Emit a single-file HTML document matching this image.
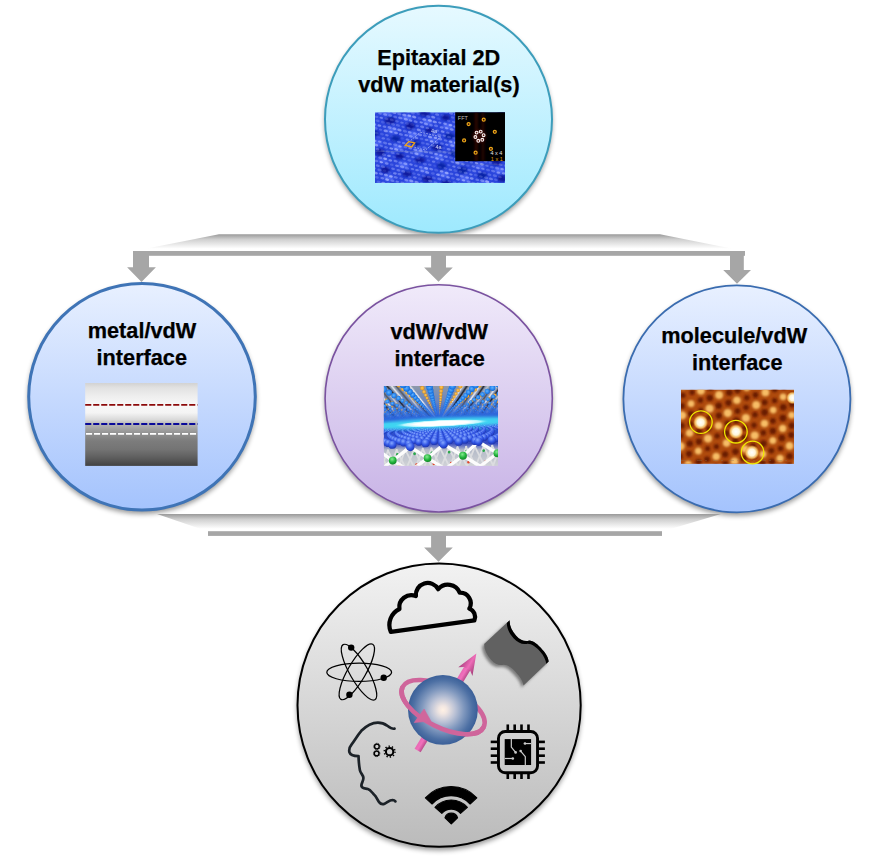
<!DOCTYPE html>
<html lang="en">
<head>
<meta charset="utf-8">
<title>Epitaxial 2D vdW materials</title>
<style>
html,body{margin:0;padding:0;background:#fff;}
body{width:876px;height:858px;overflow:hidden;position:relative;font-family:"Liberation Sans",Arial,sans-serif;}
svg{position:absolute;left:0;top:0;display:block;}
.lbl{font-family:"Liberation Sans",Arial,sans-serif;font-weight:bold;font-size:21.7px;fill:#000;stroke:#000;stroke-width:0.25px;text-anchor:middle;}
.tiny{font-family:"Liberation Sans",Arial,sans-serif;font-size:5.5px;}
</style>
</head>
<body>
<svg width="876" height="858" viewBox="0 0 876 858">
<defs>
  <linearGradient id="gTop" x1="0" y1="0" x2="0" y2="1">
    <stop offset="0" stop-color="#e6f9ff"/><stop offset="1" stop-color="#9ee9fe"/>
  </linearGradient>
  <linearGradient id="gBlue" x1="0" y1="0" x2="0" y2="1">
    <stop offset="0" stop-color="#e8f0ff"/><stop offset="1" stop-color="#a4c3fd"/>
  </linearGradient>
  <linearGradient id="gPurple" x1="0" y1="0" x2="0" y2="1">
    <stop offset="0" stop-color="#f0eafa"/><stop offset="1" stop-color="#c8b3e6"/>
  </linearGradient>
  <linearGradient id="gGray" x1="0" y1="0" x2="0" y2="1">
    <stop offset="0" stop-color="#f2f2f2"/><stop offset="1" stop-color="#bbbbbb"/>
  </linearGradient>
  <linearGradient id="gTrap" x1="0" y1="0" x2="0" y2="1">
    <stop offset="0" stop-color="#999999"/><stop offset="0.3" stop-color="#cfcfcf"/><stop offset="0.85" stop-color="#ffffff"/>
  </linearGradient>
  <filter id="shadow" x="-20%" y="-20%" width="140%" height="140%">
    <feGaussianBlur stdDeviation="2.6"/>
  </filter>
</defs>
<!-- CIRCLE SHADOWS -->
<g id="circle-shadows" filter="url(#shadow)" fill="#000" opacity="0.4">
  <circle cx="438.5" cy="122.2" r="113.8"/>
  <circle cx="142" cy="399.8" r="114.2"/>
  <circle cx="438.7" cy="401.3" r="114"/>
  <circle cx="736.9" cy="401.8" r="114"/>
  <circle cx="439.1" cy="708.2" r="142.2"/>
</g>
<!-- CONNECTORS -->
<g id="connectors">
  <polygon points="219,234.2 660,234.2 745,251.2 133,251.2" fill="url(#gTrap)"/>
  <polygon points="157,514 721,514 662,531.4 208,531.4" fill="url(#gTrap)"/>
  <g fill="#a6a6a6">
    <rect x="133" y="251" width="612" height="4.8"/>
    <polygon points="133,255 149,255 149,267.3 155.9,267.3 141.5,282 127.1,267.3 133,267.3"/>
    <polygon points="431.1,255 446,255 446,267.4 452.8,267.4 438.5,281.8 424.1,267.4 431.1,267.4"/>
    <polygon points="730,255 743.8,255 743.8,269.9 751,269.9 737,283.8 723.2,269.9 730,269.9"/>
    <rect x="208" y="531.2" width="454" height="4.7"/>
    <polygon points="431.1,535 446,535 446,547.4 452.8,547.4 438.5,561.8 424.1,547.4 431.1,547.4"/>
  </g>
</g>
<!-- CIRCLES -->
<g id="circles">
  <circle cx="438.5" cy="119.3" r="113.5" fill="url(#gTop)" stroke="#3c9dbb" stroke-width="2"/>
  <circle cx="142" cy="396.8" r="113.3" fill="url(#gBlue)" stroke="#3f74b6" stroke-width="3"/>
  <circle cx="438.7" cy="398.4" r="113.6" fill="url(#gPurple)" stroke="#7a52a0" stroke-width="1.6"/>
  <circle cx="736.9" cy="398.9" r="113.5" fill="url(#gBlue)" stroke="#3a6cb0" stroke-width="1.8"/>
  <circle cx="439.1" cy="705.2" r="141.6" fill="url(#gGray)" stroke="#000" stroke-width="2"/>
</g>
<!-- LABELS -->
<g id="labels">
  <text class="lbl" x="438.7" y="64.8">Epitaxial 2D</text>
  <text class="lbl" x="438.9" y="91.6">vdW material(s)</text>
  <text class="lbl" x="142" y="338">metal/vdW</text>
  <text class="lbl" x="141.8" y="364.7">interface</text>
  <text class="lbl" x="439.3" y="338.9">vdW/vdW</text>
  <text class="lbl" x="439.6" y="366">interface</text>
  <text class="lbl" x="734.2" y="343.1">molecule/vdW</text>
  <text class="lbl" x="737.3" y="369.9">interface</text>
</g>
<!-- TEM cross-section image (metal/vdW) -->
<g id="img-tem">
  <defs>
    <linearGradient id="gTem" x1="0" y1="0" x2="0" y2="1">
      <stop offset="0" stop-color="#d2d2d2"/>
      <stop offset="0.06" stop-color="#e2e2e2"/>
      <stop offset="0.16" stop-color="#eeeeee"/>
      <stop offset="0.27" stop-color="#f8f8f8"/>
      <stop offset="0.36" stop-color="#f4f4f4"/>
      <stop offset="0.44" stop-color="#dadada"/>
      <stop offset="0.50" stop-color="#b4b4b4"/>
      <stop offset="0.56" stop-color="#a0a0a0"/>
      <stop offset="0.62" stop-color="#8e8e8e"/>
      <stop offset="0.70" stop-color="#7c7c7c"/>
      <stop offset="0.80" stop-color="#747474"/>
      <stop offset="0.90" stop-color="#5e5e5e"/>
      <stop offset="1" stop-color="#424242"/>
    </linearGradient>
  </defs>
  <rect x="85.2" y="383" width="112.4" height="82.9" fill="url(#gTem)"/>
  <line x1="85.2" y1="404.9" x2="197.6" y2="404.9" stroke="#8c0a0a" stroke-width="1.9" stroke-dasharray="6.1 1.9"/>
  <line x1="85.2" y1="424" x2="197.6" y2="424" stroke="#0a0a9a" stroke-width="1.9" stroke-dasharray="6.1 1.9"/>
  <line x1="86" y1="433.9" x2="197.6" y2="433.9" stroke="#ffffff" stroke-width="1.9" stroke-dasharray="6.1 1.9"/>
</g>
<!-- STM image with FFT inset (top circle) -->
<g id="img-stm">
  <defs>
    <clipPath id="cFft"><rect x="455.2" y="112.3" width="49.8" height="48.9"/></clipPath>
    <clipPath id="cStm"><rect x="375" y="112.3" width="130" height="70.6"/></clipPath>
    <filter id="fStm" x="0" y="0" width="1" height="1"><feGaussianBlur stdDeviation="0.75"/></filter>
    <filter id="fStm2" x="0" y="0" width="1" height="1"><feGaussianBlur stdDeviation="1.2"/></filter>
    <filter id="fFft" x="-0.2" y="-0.2" width="1.4" height="1.4"><feGaussianBlur stdDeviation="0.9"/></filter>
  </defs>
</g>
<!-- STM atoms -->
<g id="stm-atoms" clip-path="url(#cStm)">
<rect x="375.0" y="112.3" width="130.0" height="70.6" fill="#2a45dc"/>
<g filter="url(#fStm2)">
<ellipse cx="386.7" cy="112.8" rx="5" ry="3.2" fill="#5d78ff" opacity="0.59"/>
<ellipse cx="369.2" cy="117.7" rx="4.9" ry="3.2" fill="#08179a" opacity="0.90"/>
<ellipse cx="371.9" cy="125.6" rx="5" ry="3.2" fill="#5d78ff" opacity="0.51"/>
<ellipse cx="421.9" cy="104.6" rx="5" ry="3.2" fill="#5d78ff" opacity="0.60"/>
<ellipse cx="404.6" cy="109.3" rx="4.3" ry="3.0" fill="#08179a" opacity="0.77"/>
<ellipse cx="407.1" cy="117.4" rx="5" ry="3.2" fill="#5d78ff" opacity="0.69"/>
<ellipse cx="390.0" cy="120.6" rx="5.6" ry="3.6" fill="#08179a" opacity="0.91"/>
<ellipse cx="392.3" cy="130.2" rx="5" ry="3.2" fill="#5d78ff" opacity="0.63"/>
<ellipse cx="373.9" cy="133.3" rx="4.9" ry="2.8" fill="#08179a" opacity="0.80"/>
<ellipse cx="377.5" cy="143.0" rx="5" ry="3.2" fill="#5d78ff" opacity="0.52"/>
<ellipse cx="442.3" cy="109.2" rx="5" ry="3.2" fill="#5d78ff" opacity="0.46"/>
<ellipse cx="424.6" cy="113.2" rx="5.4" ry="3.2" fill="#08179a" opacity="0.91"/>
<ellipse cx="427.5" cy="122.0" rx="5" ry="3.2" fill="#5d78ff" opacity="0.60"/>
<ellipse cx="410.3" cy="126.0" rx="4.6" ry="3.6" fill="#08179a" opacity="1.00"/>
<ellipse cx="412.7" cy="134.8" rx="5" ry="3.2" fill="#5d78ff" opacity="0.70"/>
<ellipse cx="395.6" cy="138.5" rx="4.5" ry="3.0" fill="#08179a" opacity="0.77"/>
<ellipse cx="397.9" cy="147.6" rx="5" ry="3.2" fill="#5d78ff" opacity="0.68"/>
<ellipse cx="380.1" cy="152.4" rx="4.7" ry="3.6" fill="#08179a" opacity="0.96"/>
<ellipse cx="383.1" cy="160.4" rx="5" ry="3.2" fill="#5d78ff" opacity="0.45"/>
<ellipse cx="368.3" cy="173.2" rx="5" ry="3.2" fill="#5d78ff" opacity="0.51"/>
<ellipse cx="460.9" cy="105.0" rx="5.6" ry="3.1" fill="#08179a" opacity="0.77"/>
<ellipse cx="462.7" cy="113.8" rx="5" ry="3.2" fill="#5d78ff" opacity="0.64"/>
<ellipse cx="445.8" cy="117.4" rx="4.3" ry="3.0" fill="#08179a" opacity="0.99"/>
<ellipse cx="447.9" cy="126.6" rx="5" ry="3.2" fill="#5d78ff" opacity="0.68"/>
<ellipse cx="429.4" cy="130.2" rx="4.3" ry="2.8" fill="#08179a" opacity="0.95"/>
<ellipse cx="433.1" cy="139.4" rx="5" ry="3.2" fill="#5d78ff" opacity="0.50"/>
<ellipse cx="415.6" cy="143.4" rx="4.5" ry="3.4" fill="#08179a" opacity="0.78"/>
<ellipse cx="418.3" cy="152.2" rx="5" ry="3.2" fill="#5d78ff" opacity="0.64"/>
<ellipse cx="399.8" cy="156.1" rx="4.5" ry="2.9" fill="#08179a" opacity="0.99"/>
<ellipse cx="403.5" cy="165.0" rx="5" ry="3.2" fill="#5d78ff" opacity="0.69"/>
<ellipse cx="385.4" cy="169.9" rx="4.5" ry="3.1" fill="#08179a" opacity="0.96"/>
<ellipse cx="388.7" cy="177.8" rx="5" ry="3.2" fill="#5d78ff" opacity="0.64"/>
<ellipse cx="370.1" cy="182.9" rx="4.5" ry="2.9" fill="#08179a" opacity="0.94"/>
<ellipse cx="373.9" cy="190.6" rx="5" ry="3.2" fill="#5d78ff" opacity="0.55"/>
<ellipse cx="497.9" cy="105.6" rx="5" ry="3.2" fill="#5d78ff" opacity="0.54"/>
<ellipse cx="479.3" cy="108.9" rx="5.0" ry="2.9" fill="#08179a" opacity="0.90"/>
<ellipse cx="483.1" cy="118.4" rx="5" ry="3.2" fill="#5d78ff" opacity="0.56"/>
<ellipse cx="465.4" cy="123.4" rx="4.9" ry="3.2" fill="#08179a" opacity="0.97"/>
<ellipse cx="468.3" cy="131.2" rx="5" ry="3.2" fill="#5d78ff" opacity="0.50"/>
<ellipse cx="449.9" cy="136.1" rx="5.3" ry="2.9" fill="#08179a" opacity="0.80"/>
<ellipse cx="453.5" cy="144.0" rx="5" ry="3.2" fill="#5d78ff" opacity="0.67"/>
<ellipse cx="437.0" cy="147.5" rx="5.5" ry="3.5" fill="#08179a" opacity="0.90"/>
<ellipse cx="438.7" cy="156.8" rx="5" ry="3.2" fill="#5d78ff" opacity="0.58"/>
<ellipse cx="420.1" cy="160.0" rx="5.5" ry="2.9" fill="#08179a" opacity="0.93"/>
<ellipse cx="423.9" cy="169.6" rx="5" ry="3.2" fill="#5d78ff" opacity="0.53"/>
<ellipse cx="407.1" cy="173.9" rx="4.6" ry="2.9" fill="#08179a" opacity="0.93"/>
<ellipse cx="409.1" cy="182.4" rx="5" ry="3.2" fill="#5d78ff" opacity="0.47"/>
<ellipse cx="390.8" cy="186.6" rx="5.4" ry="3.3" fill="#08179a" opacity="0.82"/>
<ellipse cx="501.7" cy="113.7" rx="4.2" ry="2.9" fill="#08179a" opacity="0.86"/>
<ellipse cx="503.5" cy="123.0" rx="5" ry="3.2" fill="#5d78ff" opacity="0.47"/>
<ellipse cx="485.1" cy="126.8" rx="5.0" ry="2.8" fill="#08179a" opacity="0.84"/>
<ellipse cx="488.7" cy="135.8" rx="5" ry="3.2" fill="#5d78ff" opacity="0.72"/>
<ellipse cx="472.3" cy="140.2" rx="5.2" ry="3.2" fill="#08179a" opacity="0.79"/>
<ellipse cx="473.9" cy="148.6" rx="5" ry="3.2" fill="#5d78ff" opacity="0.46"/>
<ellipse cx="455.1" cy="153.5" rx="5.2" ry="3.6" fill="#08179a" opacity="0.76"/>
<ellipse cx="459.1" cy="161.4" rx="5" ry="3.2" fill="#5d78ff" opacity="0.64"/>
<ellipse cx="441.5" cy="166.0" rx="4.6" ry="3.6" fill="#08179a" opacity="0.77"/>
<ellipse cx="444.3" cy="174.2" rx="5" ry="3.2" fill="#5d78ff" opacity="0.61"/>
<ellipse cx="427.3" cy="179.1" rx="5.2" ry="3.3" fill="#08179a" opacity="0.95"/>
<ellipse cx="429.5" cy="187.0" rx="5" ry="3.2" fill="#5d78ff" opacity="0.72"/>
<ellipse cx="505.9" cy="132.1" rx="5.5" ry="3.5" fill="#08179a" opacity="0.85"/>
<ellipse cx="509.1" cy="140.4" rx="5" ry="3.2" fill="#5d78ff" opacity="0.69"/>
<ellipse cx="492.4" cy="144.6" rx="5.1" ry="3.0" fill="#08179a" opacity="0.90"/>
<ellipse cx="494.3" cy="153.2" rx="5" ry="3.2" fill="#5d78ff" opacity="0.63"/>
<ellipse cx="475.7" cy="157.6" rx="5.6" ry="3.5" fill="#08179a" opacity="0.93"/>
<ellipse cx="479.5" cy="166.0" rx="5" ry="3.2" fill="#5d78ff" opacity="0.57"/>
<ellipse cx="462.5" cy="170.3" rx="4.8" ry="3.5" fill="#08179a" opacity="0.77"/>
<ellipse cx="464.7" cy="178.8" rx="5" ry="3.2" fill="#5d78ff" opacity="0.68"/>
<ellipse cx="446.0" cy="183.1" rx="4.9" ry="2.9" fill="#08179a" opacity="0.92"/>
<ellipse cx="511.9" cy="149.3" rx="5.5" ry="2.9" fill="#08179a" opacity="0.75"/>
<ellipse cx="496.6" cy="162.3" rx="4.5" ry="2.9" fill="#08179a" opacity="0.98"/>
<ellipse cx="499.9" cy="170.6" rx="5" ry="3.2" fill="#5d78ff" opacity="0.65"/>
<ellipse cx="482.2" cy="175.5" rx="4.7" ry="3.3" fill="#08179a" opacity="0.80"/>
<ellipse cx="485.1" cy="183.4" rx="5" ry="3.2" fill="#5d78ff" opacity="0.58"/>
<ellipse cx="468.2" cy="188.3" rx="5.4" ry="3.0" fill="#08179a" opacity="0.90"/>
<ellipse cx="502.3" cy="178.6" rx="4.9" ry="3.5" fill="#08179a" opacity="0.96"/>
<ellipse cx="505.5" cy="188.0" rx="5" ry="3.2" fill="#5d78ff" opacity="0.66"/>
</g>
<g filter="url(#fStm)">
<ellipse cx="374.8" cy="112.3" rx="1.88" ry="1.10" transform="rotate(13 374.8 112.3)" fill="#aab6ff" opacity="0.49"/>
<ellipse cx="380.0" cy="113.5" rx="1.85" ry="1.08" transform="rotate(13 380.0 113.5)" fill="#aab6ff" opacity="0.46"/>
<ellipse cx="376.6" cy="116.9" rx="1.90" ry="1.11" transform="rotate(13 376.6 116.9)" fill="#aab6ff" opacity="0.30"/>
<ellipse cx="388.6" cy="111.6" rx="1.78" ry="1.04" transform="rotate(13 388.6 111.6)" fill="#aab6ff" opacity="0.66"/>
<ellipse cx="385.2" cy="114.5" rx="2.10" ry="1.23" transform="rotate(13 385.2 114.5)" fill="#aab6ff" opacity="0.52"/>
<ellipse cx="381.3" cy="117.8" rx="1.75" ry="1.03" transform="rotate(13 381.3 117.8)" fill="#aab6ff" opacity="0.53"/>
<ellipse cx="377.6" cy="120.8" rx="2.16" ry="1.27" transform="rotate(13 377.6 120.8)" fill="#aab6ff" opacity="0.30"/>
<ellipse cx="374.1" cy="124.3" rx="2.06" ry="1.21" transform="rotate(13 374.1 124.3)" fill="#aab6ff" opacity="0.53"/>
<ellipse cx="394.3" cy="112.7" rx="2.15" ry="1.26" transform="rotate(13 394.3 112.7)" fill="#aab6ff" opacity="0.55"/>
<ellipse cx="390.1" cy="115.5" rx="1.98" ry="1.16" transform="rotate(13 390.1 115.5)" fill="#aab6ff" opacity="0.39"/>
<ellipse cx="386.4" cy="118.8" rx="2.10" ry="1.23" transform="rotate(13 386.4 118.8)" fill="#aab6ff" opacity="0.25"/>
<ellipse cx="382.9" cy="122.2" rx="2.09" ry="1.23" transform="rotate(13 382.9 122.2)" fill="#aab6ff" opacity="0.22"/>
<ellipse cx="379.4" cy="125.6" rx="1.94" ry="1.14" transform="rotate(13 379.4 125.6)" fill="#aab6ff" opacity="0.58"/>
<ellipse cx="375.6" cy="128.3" rx="2.21" ry="1.30" transform="rotate(13 375.6 128.3)" fill="#aab6ff" opacity="0.35"/>
<ellipse cx="403.0" cy="110.4" rx="2.06" ry="1.21" transform="rotate(13 403.0 110.4)" fill="#aab6ff" opacity="0.12"/>
<ellipse cx="399.3" cy="114.0" rx="2.19" ry="1.28" transform="rotate(13 399.3 114.0)" fill="#aab6ff" opacity="0.38"/>
<ellipse cx="395.2" cy="117.0" rx="2.07" ry="1.21" transform="rotate(13 395.2 117.0)" fill="#aab6ff" opacity="0.34"/>
<ellipse cx="391.8" cy="119.9" rx="2.07" ry="1.21" transform="rotate(13 391.8 119.9)" fill="#aab6ff" opacity="0.23"/>
<ellipse cx="388.3" cy="123.3" rx="2.24" ry="1.31" transform="rotate(13 388.3 123.3)" fill="#aab6ff" opacity="0.26"/>
<ellipse cx="384.5" cy="126.7" rx="1.90" ry="1.12" transform="rotate(13 384.5 126.7)" fill="#aab6ff" opacity="0.45"/>
<ellipse cx="380.6" cy="129.7" rx="1.78" ry="1.04" transform="rotate(13 380.6 129.7)" fill="#aab6ff" opacity="0.30"/>
<ellipse cx="376.6" cy="133.1" rx="1.99" ry="1.17" transform="rotate(13 376.6 133.1)" fill="#aab6ff" opacity="0.21"/>
<ellipse cx="373.0" cy="136.0" rx="2.15" ry="1.26" transform="rotate(13 373.0 136.0)" fill="#aab6ff" opacity="0.04"/>
<ellipse cx="407.7" cy="111.7" rx="1.81" ry="1.06" transform="rotate(13 407.7 111.7)" fill="#aab6ff" opacity="0.41"/>
<ellipse cx="404.3" cy="115.1" rx="2.17" ry="1.27" transform="rotate(13 404.3 115.1)" fill="#aab6ff" opacity="0.61"/>
<ellipse cx="400.3" cy="117.9" rx="2.22" ry="1.30" transform="rotate(13 400.3 117.9)" fill="#aab6ff" opacity="0.53"/>
<ellipse cx="396.9" cy="121.3" rx="1.89" ry="1.11" transform="rotate(13 396.9 121.3)" fill="#aab6ff" opacity="0.31"/>
<ellipse cx="393.1" cy="124.3" rx="2.17" ry="1.27" transform="rotate(13 393.1 124.3)" fill="#aab6ff" opacity="0.32"/>
<ellipse cx="389.6" cy="127.5" rx="2.17" ry="1.27" transform="rotate(13 389.6 127.5)" fill="#aab6ff" opacity="0.50"/>
<ellipse cx="385.7" cy="130.9" rx="2.23" ry="1.31" transform="rotate(13 385.7 130.9)" fill="#aab6ff" opacity="0.64"/>
<ellipse cx="382.0" cy="134.1" rx="2.01" ry="1.18" transform="rotate(13 382.0 134.1)" fill="#aab6ff" opacity="0.21"/>
<ellipse cx="378.3" cy="137.2" rx="2.23" ry="1.31" transform="rotate(13 378.3 137.2)" fill="#aab6ff" opacity="0.16"/>
<ellipse cx="374.6" cy="140.6" rx="2.03" ry="1.19" transform="rotate(13 374.6 140.6)" fill="#aab6ff" opacity="0.64"/>
<ellipse cx="412.9" cy="113.1" rx="2.01" ry="1.18" transform="rotate(13 412.9 113.1)" fill="#aab6ff" opacity="0.31"/>
<ellipse cx="409.3" cy="115.8" rx="1.88" ry="1.10" transform="rotate(13 409.3 115.8)" fill="#aab6ff" opacity="0.80"/>
<ellipse cx="405.8" cy="119.2" rx="2.15" ry="1.26" transform="rotate(13 405.8 119.2)" fill="#aab6ff" opacity="0.64"/>
<ellipse cx="402.0" cy="122.7" rx="1.84" ry="1.08" transform="rotate(13 402.0 122.7)" fill="#aab6ff" opacity="0.38"/>
<ellipse cx="397.9" cy="125.4" rx="2.14" ry="1.25" transform="rotate(13 397.9 125.4)" fill="#aab6ff" opacity="0.33"/>
<ellipse cx="394.4" cy="128.7" rx="2.09" ry="1.22" transform="rotate(13 394.4 128.7)" fill="#aab6ff" opacity="0.59"/>
<ellipse cx="390.9" cy="131.8" rx="1.79" ry="1.05" transform="rotate(13 390.9 131.8)" fill="#aab6ff" opacity="0.70"/>
<ellipse cx="386.9" cy="135.2" rx="1.87" ry="1.09" transform="rotate(13 386.9 135.2)" fill="#aab6ff" opacity="0.44"/>
<ellipse cx="383.3" cy="138.4" rx="1.93" ry="1.13" transform="rotate(13 383.3 138.4)" fill="#aab6ff" opacity="0.43"/>
<ellipse cx="379.8" cy="141.7" rx="1.84" ry="1.08" transform="rotate(13 379.8 141.7)" fill="#aab6ff" opacity="0.57"/>
<ellipse cx="376.1" cy="145.0" rx="2.17" ry="1.27" transform="rotate(13 376.1 145.0)" fill="#aab6ff" opacity="0.68"/>
<ellipse cx="422.0" cy="111.0" rx="2.12" ry="1.24" transform="rotate(13 422.0 111.0)" fill="#aab6ff" opacity="0.17"/>
<ellipse cx="418.4" cy="113.8" rx="1.90" ry="1.11" transform="rotate(13 418.4 113.8)" fill="#aab6ff" opacity="0.21"/>
<ellipse cx="414.2" cy="117.0" rx="2.19" ry="1.28" transform="rotate(13 414.2 117.0)" fill="#aab6ff" opacity="0.66"/>
<ellipse cx="410.5" cy="120.5" rx="1.87" ry="1.10" transform="rotate(13 410.5 120.5)" fill="#aab6ff" opacity="0.56"/>
<ellipse cx="406.8" cy="123.5" rx="2.14" ry="1.26" transform="rotate(13 406.8 123.5)" fill="#aab6ff" opacity="0.23"/>
<ellipse cx="403.1" cy="126.9" rx="1.75" ry="1.03" transform="rotate(13 403.1 126.9)" fill="#aab6ff" opacity="0.33"/>
<ellipse cx="399.4" cy="130.0" rx="2.23" ry="1.31" transform="rotate(13 399.4 130.0)" fill="#aab6ff" opacity="0.63"/>
<ellipse cx="396.0" cy="133.0" rx="2.00" ry="1.17" transform="rotate(13 396.0 133.0)" fill="#aab6ff" opacity="0.57"/>
<ellipse cx="391.9" cy="136.4" rx="1.79" ry="1.05" transform="rotate(13 391.9 136.4)" fill="#aab6ff" opacity="0.12"/>
<ellipse cx="388.3" cy="139.4" rx="2.03" ry="1.19" transform="rotate(13 388.3 139.4)" fill="#aab6ff" opacity="0.27"/>
<ellipse cx="385.1" cy="143.0" rx="2.17" ry="1.27" transform="rotate(13 385.1 143.0)" fill="#aab6ff" opacity="0.40"/>
<ellipse cx="381.4" cy="145.9" rx="1.77" ry="1.04" transform="rotate(13 381.4 145.9)" fill="#aab6ff" opacity="0.36"/>
<ellipse cx="377.4" cy="149.2" rx="1.91" ry="1.12" transform="rotate(13 377.4 149.2)" fill="#aab6ff" opacity="0.34"/>
<ellipse cx="373.4" cy="152.5" rx="2.04" ry="1.20" transform="rotate(13 373.4 152.5)" fill="#aab6ff" opacity="0.25"/>
<ellipse cx="426.9" cy="112.0" rx="1.83" ry="1.07" transform="rotate(13 426.9 112.0)" fill="#aab6ff" opacity="0.23"/>
<ellipse cx="423.0" cy="115.1" rx="1.84" ry="1.08" transform="rotate(13 423.0 115.1)" fill="#aab6ff" opacity="0.10"/>
<ellipse cx="419.7" cy="118.4" rx="2.19" ry="1.29" transform="rotate(13 419.7 118.4)" fill="#aab6ff" opacity="0.20"/>
<ellipse cx="415.7" cy="121.6" rx="2.06" ry="1.21" transform="rotate(13 415.7 121.6)" fill="#aab6ff" opacity="0.46"/>
<ellipse cx="412.3" cy="124.6" rx="2.24" ry="1.31" transform="rotate(13 412.3 124.6)" fill="#aab6ff" opacity="0.12"/>
<ellipse cx="408.6" cy="128.1" rx="2.12" ry="1.24" transform="rotate(13 408.6 128.1)" fill="#aab6ff" opacity="0.27"/>
<ellipse cx="404.9" cy="131.2" rx="2.19" ry="1.29" transform="rotate(13 404.9 131.2)" fill="#aab6ff" opacity="0.33"/>
<ellipse cx="400.9" cy="134.4" rx="2.13" ry="1.25" transform="rotate(13 400.9 134.4)" fill="#aab6ff" opacity="0.43"/>
<ellipse cx="397.3" cy="137.2" rx="1.91" ry="1.12" transform="rotate(13 397.3 137.2)" fill="#aab6ff" opacity="0.04"/>
<ellipse cx="393.7" cy="140.5" rx="2.06" ry="1.21" transform="rotate(13 393.7 140.5)" fill="#aab6ff" opacity="0.09"/>
<ellipse cx="389.8" cy="144.0" rx="2.08" ry="1.22" transform="rotate(13 389.8 144.0)" fill="#aab6ff" opacity="0.50"/>
<ellipse cx="386.1" cy="147.4" rx="2.01" ry="1.18" transform="rotate(13 386.1 147.4)" fill="#aab6ff" opacity="0.37"/>
<ellipse cx="382.7" cy="150.6" rx="2.10" ry="1.23" transform="rotate(13 382.7 150.6)" fill="#aab6ff" opacity="0.17"/>
<ellipse cx="378.9" cy="153.4" rx="2.05" ry="1.20" transform="rotate(13 378.9 153.4)" fill="#aab6ff" opacity="0.04"/>
<ellipse cx="374.9" cy="156.6" rx="1.77" ry="1.04" transform="rotate(13 374.9 156.6)" fill="#aab6ff" opacity="0.33"/>
<ellipse cx="432.2" cy="113.1" rx="1.87" ry="1.09" transform="rotate(13 432.2 113.1)" fill="#aab6ff" opacity="0.18"/>
<ellipse cx="428.3" cy="116.5" rx="2.23" ry="1.31" transform="rotate(13 428.3 116.5)" fill="#aab6ff" opacity="0.32"/>
<ellipse cx="424.3" cy="119.5" rx="2.15" ry="1.26" transform="rotate(13 424.3 119.5)" fill="#aab6ff" opacity="0.59"/>
<ellipse cx="421.2" cy="122.4" rx="1.76" ry="1.03" transform="rotate(13 421.2 122.4)" fill="#aab6ff" opacity="0.61"/>
<ellipse cx="417.2" cy="125.9" rx="1.83" ry="1.07" transform="rotate(13 417.2 125.9)" fill="#aab6ff" opacity="0.30"/>
<ellipse cx="413.5" cy="129.1" rx="2.22" ry="1.30" transform="rotate(13 413.5 129.1)" fill="#aab6ff" opacity="0.17"/>
<ellipse cx="409.7" cy="132.3" rx="1.93" ry="1.13" transform="rotate(13 409.7 132.3)" fill="#aab6ff" opacity="0.57"/>
<ellipse cx="406.2" cy="135.3" rx="1.88" ry="1.10" transform="rotate(13 406.2 135.3)" fill="#aab6ff" opacity="0.55"/>
<ellipse cx="402.1" cy="138.4" rx="1.86" ry="1.09" transform="rotate(13 402.1 138.4)" fill="#aab6ff" opacity="0.15"/>
<ellipse cx="398.9" cy="142.0" rx="1.94" ry="1.14" transform="rotate(13 398.9 142.0)" fill="#aab6ff" opacity="0.40"/>
<ellipse cx="395.3" cy="144.8" rx="2.24" ry="1.31" transform="rotate(13 395.3 144.8)" fill="#aab6ff" opacity="0.40"/>
<ellipse cx="391.3" cy="148.5" rx="1.96" ry="1.15" transform="rotate(13 391.3 148.5)" fill="#aab6ff" opacity="0.66"/>
<ellipse cx="387.9" cy="151.6" rx="2.01" ry="1.18" transform="rotate(13 387.9 151.6)" fill="#aab6ff" opacity="0.22"/>
<ellipse cx="384.1" cy="154.7" rx="2.24" ry="1.31" transform="rotate(13 384.1 154.7)" fill="#aab6ff" opacity="0.30"/>
<ellipse cx="380.2" cy="157.7" rx="2.06" ry="1.21" transform="rotate(13 380.2 157.7)" fill="#aab6ff" opacity="0.42"/>
<ellipse cx="376.3" cy="161.0" rx="2.01" ry="1.18" transform="rotate(13 376.3 161.0)" fill="#aab6ff" opacity="0.39"/>
<ellipse cx="440.7" cy="111.0" rx="1.97" ry="1.16" transform="rotate(13 440.7 111.0)" fill="#aab6ff" opacity="0.72"/>
<ellipse cx="437.1" cy="114.5" rx="2.13" ry="1.25" transform="rotate(13 437.1 114.5)" fill="#aab6ff" opacity="0.41"/>
<ellipse cx="433.2" cy="117.2" rx="2.11" ry="1.24" transform="rotate(13 433.2 117.2)" fill="#aab6ff" opacity="0.60"/>
<ellipse cx="429.8" cy="120.5" rx="2.14" ry="1.25" transform="rotate(13 429.8 120.5)" fill="#aab6ff" opacity="0.80"/>
<ellipse cx="426.0" cy="123.9" rx="2.09" ry="1.22" transform="rotate(13 426.0 123.9)" fill="#aab6ff" opacity="0.59"/>
<ellipse cx="422.1" cy="126.8" rx="2.12" ry="1.24" transform="rotate(13 422.1 126.8)" fill="#aab6ff" opacity="0.48"/>
<ellipse cx="418.8" cy="129.9" rx="2.20" ry="1.29" transform="rotate(13 418.8 129.9)" fill="#aab6ff" opacity="0.60"/>
<ellipse cx="414.9" cy="133.5" rx="1.88" ry="1.10" transform="rotate(13 414.9 133.5)" fill="#aab6ff" opacity="0.54"/>
<ellipse cx="410.9" cy="136.4" rx="2.01" ry="1.18" transform="rotate(13 410.9 136.4)" fill="#aab6ff" opacity="0.54"/>
<ellipse cx="407.6" cy="139.7" rx="2.02" ry="1.18" transform="rotate(13 407.6 139.7)" fill="#aab6ff" opacity="0.50"/>
<ellipse cx="403.7" cy="143.1" rx="1.85" ry="1.08" transform="rotate(13 403.7 143.1)" fill="#aab6ff" opacity="0.44"/>
<ellipse cx="399.9" cy="146.4" rx="1.78" ry="1.04" transform="rotate(13 399.9 146.4)" fill="#aab6ff" opacity="0.79"/>
<ellipse cx="396.2" cy="149.4" rx="2.13" ry="1.25" transform="rotate(13 396.2 149.4)" fill="#aab6ff" opacity="0.71"/>
<ellipse cx="392.6" cy="152.7" rx="2.15" ry="1.26" transform="rotate(13 392.6 152.7)" fill="#aab6ff" opacity="0.36"/>
<ellipse cx="389.0" cy="155.9" rx="1.91" ry="1.12" transform="rotate(13 389.0 155.9)" fill="#aab6ff" opacity="0.61"/>
<ellipse cx="385.2" cy="158.8" rx="1.96" ry="1.15" transform="rotate(13 385.2 158.8)" fill="#aab6ff" opacity="0.80"/>
<ellipse cx="381.3" cy="162.2" rx="1.78" ry="1.04" transform="rotate(13 381.3 162.2)" fill="#aab6ff" opacity="0.79"/>
<ellipse cx="377.8" cy="165.6" rx="2.09" ry="1.22" transform="rotate(13 377.8 165.6)" fill="#aab6ff" opacity="0.44"/>
<ellipse cx="374.3" cy="168.3" rx="1.85" ry="1.08" transform="rotate(13 374.3 168.3)" fill="#aab6ff" opacity="0.32"/>
<ellipse cx="446.0" cy="112.0" rx="2.11" ry="1.24" transform="rotate(13 446.0 112.0)" fill="#aab6ff" opacity="0.42"/>
<ellipse cx="442.3" cy="115.3" rx="1.92" ry="1.13" transform="rotate(13 442.3 115.3)" fill="#aab6ff" opacity="0.14"/>
<ellipse cx="438.5" cy="118.8" rx="2.10" ry="1.23" transform="rotate(13 438.5 118.8)" fill="#aab6ff" opacity="0.15"/>
<ellipse cx="434.8" cy="121.9" rx="2.20" ry="1.29" transform="rotate(13 434.8 121.9)" fill="#aab6ff" opacity="0.64"/>
<ellipse cx="431.0" cy="125.2" rx="1.90" ry="1.11" transform="rotate(13 431.0 125.2)" fill="#aab6ff" opacity="0.42"/>
<ellipse cx="427.3" cy="128.1" rx="1.87" ry="1.09" transform="rotate(13 427.3 128.1)" fill="#aab6ff" opacity="0.39"/>
<ellipse cx="423.6" cy="131.2" rx="1.94" ry="1.14" transform="rotate(13 423.6 131.2)" fill="#aab6ff" opacity="0.23"/>
<ellipse cx="420.0" cy="134.8" rx="2.14" ry="1.26" transform="rotate(13 420.0 134.8)" fill="#aab6ff" opacity="0.52"/>
<ellipse cx="416.5" cy="138.0" rx="1.83" ry="1.07" transform="rotate(13 416.5 138.0)" fill="#aab6ff" opacity="0.51"/>
<ellipse cx="412.6" cy="141.0" rx="1.75" ry="1.03" transform="rotate(13 412.6 141.0)" fill="#aab6ff" opacity="0.19"/>
<ellipse cx="409.0" cy="144.3" rx="2.23" ry="1.31" transform="rotate(13 409.0 144.3)" fill="#aab6ff" opacity="0.29"/>
<ellipse cx="405.4" cy="147.1" rx="2.02" ry="1.18" transform="rotate(13 405.4 147.1)" fill="#aab6ff" opacity="0.36"/>
<ellipse cx="401.7" cy="150.3" rx="2.11" ry="1.24" transform="rotate(13 401.7 150.3)" fill="#aab6ff" opacity="0.35"/>
<ellipse cx="397.9" cy="153.8" rx="1.81" ry="1.06" transform="rotate(13 397.9 153.8)" fill="#aab6ff" opacity="0.30"/>
<ellipse cx="394.3" cy="157.0" rx="1.85" ry="1.09" transform="rotate(13 394.3 157.0)" fill="#aab6ff" opacity="0.19"/>
<ellipse cx="390.3" cy="160.4" rx="1.94" ry="1.14" transform="rotate(13 390.3 160.4)" fill="#aab6ff" opacity="0.58"/>
<ellipse cx="386.7" cy="163.5" rx="1.99" ry="1.17" transform="rotate(13 386.7 163.5)" fill="#aab6ff" opacity="0.54"/>
<ellipse cx="382.9" cy="166.7" rx="2.20" ry="1.29" transform="rotate(13 382.9 166.7)" fill="#aab6ff" opacity="0.33"/>
<ellipse cx="379.5" cy="170.0" rx="2.17" ry="1.27" transform="rotate(13 379.5 170.0)" fill="#aab6ff" opacity="0.32"/>
<ellipse cx="375.7" cy="173.0" rx="2.23" ry="1.30" transform="rotate(13 375.7 173.0)" fill="#aab6ff" opacity="0.62"/>
<ellipse cx="451.0" cy="113.3" rx="2.15" ry="1.26" transform="rotate(13 451.0 113.3)" fill="#aab6ff" opacity="0.42"/>
<ellipse cx="447.6" cy="116.4" rx="2.12" ry="1.24" transform="rotate(13 447.6 116.4)" fill="#aab6ff" opacity="0.04"/>
<ellipse cx="443.6" cy="119.6" rx="1.84" ry="1.08" transform="rotate(13 443.6 119.6)" fill="#aab6ff" opacity="0.04"/>
<ellipse cx="439.8" cy="122.7" rx="1.77" ry="1.04" transform="rotate(13 439.8 122.7)" fill="#aab6ff" opacity="0.51"/>
<ellipse cx="436.0" cy="125.8" rx="2.13" ry="1.25" transform="rotate(13 436.0 125.8)" fill="#aab6ff" opacity="0.40"/>
<ellipse cx="432.7" cy="129.0" rx="2.04" ry="1.19" transform="rotate(13 432.7 129.0)" fill="#aab6ff" opacity="0.11"/>
<ellipse cx="428.6" cy="132.3" rx="1.83" ry="1.07" transform="rotate(13 428.6 132.3)" fill="#aab6ff" opacity="0.04"/>
<ellipse cx="424.9" cy="135.5" rx="2.04" ry="1.20" transform="rotate(13 424.9 135.5)" fill="#aab6ff" opacity="0.43"/>
<ellipse cx="421.6" cy="138.8" rx="1.83" ry="1.07" transform="rotate(13 421.6 138.8)" fill="#aab6ff" opacity="0.28"/>
<ellipse cx="417.7" cy="142.0" rx="2.15" ry="1.26" transform="rotate(13 417.7 142.0)" fill="#aab6ff" opacity="0.14"/>
<ellipse cx="413.9" cy="145.3" rx="2.20" ry="1.29" transform="rotate(13 413.9 145.3)" fill="#aab6ff" opacity="0.26"/>
<ellipse cx="410.1" cy="148.2" rx="1.98" ry="1.16" transform="rotate(13 410.1 148.2)" fill="#aab6ff" opacity="0.51"/>
<ellipse cx="406.5" cy="151.7" rx="2.15" ry="1.26" transform="rotate(13 406.5 151.7)" fill="#aab6ff" opacity="0.49"/>
<ellipse cx="403.2" cy="155.0" rx="1.88" ry="1.10" transform="rotate(13 403.2 155.0)" fill="#aab6ff" opacity="0.13"/>
<ellipse cx="399.2" cy="158.0" rx="1.75" ry="1.02" transform="rotate(13 399.2 158.0)" fill="#aab6ff" opacity="0.05"/>
<ellipse cx="395.6" cy="161.1" rx="2.10" ry="1.23" transform="rotate(13 395.6 161.1)" fill="#aab6ff" opacity="0.45"/>
<ellipse cx="391.7" cy="164.7" rx="1.90" ry="1.12" transform="rotate(13 391.7 164.7)" fill="#aab6ff" opacity="0.24"/>
<ellipse cx="388.4" cy="167.6" rx="2.06" ry="1.21" transform="rotate(13 388.4 167.6)" fill="#aab6ff" opacity="0.13"/>
<ellipse cx="384.6" cy="170.6" rx="1.82" ry="1.06" transform="rotate(13 384.6 170.6)" fill="#aab6ff" opacity="0.14"/>
<ellipse cx="380.9" cy="173.8" rx="2.17" ry="1.27" transform="rotate(13 380.9 173.8)" fill="#aab6ff" opacity="0.46"/>
<ellipse cx="376.8" cy="177.3" rx="2.10" ry="1.23" transform="rotate(13 376.8 177.3)" fill="#aab6ff" opacity="0.28"/>
<ellipse cx="373.4" cy="180.7" rx="2.22" ry="1.30" transform="rotate(13 373.4 180.7)" fill="#aab6ff" opacity="0.11"/>
<ellipse cx="459.8" cy="111.5" rx="2.14" ry="1.25" transform="rotate(13 459.8 111.5)" fill="#aab6ff" opacity="0.48"/>
<ellipse cx="455.9" cy="114.5" rx="2.16" ry="1.27" transform="rotate(13 455.9 114.5)" fill="#aab6ff" opacity="0.40"/>
<ellipse cx="452.6" cy="117.5" rx="1.82" ry="1.07" transform="rotate(13 452.6 117.5)" fill="#aab6ff" opacity="0.31"/>
<ellipse cx="448.6" cy="120.8" rx="1.78" ry="1.04" transform="rotate(13 448.6 120.8)" fill="#aab6ff" opacity="0.25"/>
<ellipse cx="445.1" cy="123.8" rx="1.92" ry="1.13" transform="rotate(13 445.1 123.8)" fill="#aab6ff" opacity="0.61"/>
<ellipse cx="441.6" cy="127.4" rx="1.97" ry="1.16" transform="rotate(13 441.6 127.4)" fill="#aab6ff" opacity="0.50"/>
<ellipse cx="437.5" cy="130.6" rx="1.75" ry="1.02" transform="rotate(13 437.5 130.6)" fill="#aab6ff" opacity="0.35"/>
<ellipse cx="433.9" cy="133.4" rx="2.03" ry="1.19" transform="rotate(13 433.9 133.4)" fill="#aab6ff" opacity="0.23"/>
<ellipse cx="430.0" cy="136.9" rx="2.15" ry="1.26" transform="rotate(13 430.0 136.9)" fill="#aab6ff" opacity="0.70"/>
<ellipse cx="426.5" cy="139.9" rx="1.93" ry="1.13" transform="rotate(13 426.5 139.9)" fill="#aab6ff" opacity="0.46"/>
<ellipse cx="422.9" cy="143.1" rx="1.94" ry="1.14" transform="rotate(13 422.9 143.1)" fill="#aab6ff" opacity="0.25"/>
<ellipse cx="419.0" cy="146.7" rx="2.11" ry="1.24" transform="rotate(13 419.0 146.7)" fill="#aab6ff" opacity="0.22"/>
<ellipse cx="415.3" cy="149.8" rx="2.11" ry="1.24" transform="rotate(13 415.3 149.8)" fill="#aab6ff" opacity="0.56"/>
<ellipse cx="411.5" cy="153.0" rx="1.81" ry="1.06" transform="rotate(13 411.5 153.0)" fill="#aab6ff" opacity="0.40"/>
<ellipse cx="407.9" cy="156.3" rx="1.83" ry="1.07" transform="rotate(13 407.9 156.3)" fill="#aab6ff" opacity="0.37"/>
<ellipse cx="404.1" cy="159.0" rx="1.79" ry="1.05" transform="rotate(13 404.1 159.0)" fill="#aab6ff" opacity="0.34"/>
<ellipse cx="400.3" cy="162.7" rx="1.95" ry="1.14" transform="rotate(13 400.3 162.7)" fill="#aab6ff" opacity="0.42"/>
<ellipse cx="397.0" cy="165.8" rx="2.00" ry="1.17" transform="rotate(13 397.0 165.8)" fill="#aab6ff" opacity="0.51"/>
<ellipse cx="393.1" cy="168.8" rx="1.94" ry="1.13" transform="rotate(13 393.1 168.8)" fill="#aab6ff" opacity="0.41"/>
<ellipse cx="389.6" cy="172.3" rx="1.94" ry="1.14" transform="rotate(13 389.6 172.3)" fill="#aab6ff" opacity="0.16"/>
<ellipse cx="385.9" cy="175.0" rx="2.08" ry="1.22" transform="rotate(13 385.9 175.0)" fill="#aab6ff" opacity="0.63"/>
<ellipse cx="382.2" cy="178.2" rx="1.91" ry="1.12" transform="rotate(13 382.2 178.2)" fill="#aab6ff" opacity="0.48"/>
<ellipse cx="378.6" cy="181.8" rx="2.00" ry="1.17" transform="rotate(13 378.6 181.8)" fill="#aab6ff" opacity="0.27"/>
<ellipse cx="374.9" cy="185.1" rx="1.82" ry="1.07" transform="rotate(13 374.9 185.1)" fill="#aab6ff" opacity="0.35"/>
<ellipse cx="464.9" cy="112.2" rx="1.92" ry="1.12" transform="rotate(13 464.9 112.2)" fill="#aab6ff" opacity="0.69"/>
<ellipse cx="461.2" cy="115.7" rx="2.24" ry="1.31" transform="rotate(13 461.2 115.7)" fill="#aab6ff" opacity="0.73"/>
<ellipse cx="457.8" cy="118.9" rx="1.84" ry="1.08" transform="rotate(13 457.8 118.9)" fill="#aab6ff" opacity="0.55"/>
<ellipse cx="453.6" cy="122.0" rx="1.78" ry="1.04" transform="rotate(13 453.6 122.0)" fill="#aab6ff" opacity="0.35"/>
<ellipse cx="450.4" cy="125.1" rx="1.91" ry="1.12" transform="rotate(13 450.4 125.1)" fill="#aab6ff" opacity="0.74"/>
<ellipse cx="446.7" cy="128.2" rx="1.80" ry="1.06" transform="rotate(13 446.7 128.2)" fill="#aab6ff" opacity="0.65"/>
<ellipse cx="442.7" cy="131.6" rx="2.02" ry="1.18" transform="rotate(13 442.7 131.6)" fill="#aab6ff" opacity="0.57"/>
<ellipse cx="439.3" cy="135.0" rx="2.20" ry="1.29" transform="rotate(13 439.3 135.0)" fill="#aab6ff" opacity="0.38"/>
<ellipse cx="435.5" cy="137.9" rx="1.80" ry="1.06" transform="rotate(13 435.5 137.9)" fill="#aab6ff" opacity="0.71"/>
<ellipse cx="431.6" cy="141.4" rx="1.86" ry="1.09" transform="rotate(13 431.6 141.4)" fill="#aab6ff" opacity="0.79"/>
<ellipse cx="427.6" cy="144.1" rx="2.02" ry="1.18" transform="rotate(13 427.6 144.1)" fill="#aab6ff" opacity="0.34"/>
<ellipse cx="424.5" cy="147.7" rx="2.24" ry="1.31" transform="rotate(13 424.5 147.7)" fill="#aab6ff" opacity="0.35"/>
<ellipse cx="420.6" cy="150.7" rx="2.08" ry="1.22" transform="rotate(13 420.6 150.7)" fill="#aab6ff" opacity="0.62"/>
<ellipse cx="416.5" cy="153.8" rx="2.15" ry="1.26" transform="rotate(13 416.5 153.8)" fill="#aab6ff" opacity="0.70"/>
<ellipse cx="413.0" cy="157.2" rx="1.81" ry="1.06" transform="rotate(13 413.0 157.2)" fill="#aab6ff" opacity="0.43"/>
<ellipse cx="409.3" cy="160.4" rx="2.00" ry="1.17" transform="rotate(13 409.3 160.4)" fill="#aab6ff" opacity="0.35"/>
<ellipse cx="405.4" cy="163.7" rx="2.07" ry="1.21" transform="rotate(13 405.4 163.7)" fill="#aab6ff" opacity="0.62"/>
<ellipse cx="402.1" cy="166.8" rx="2.23" ry="1.31" transform="rotate(13 402.1 166.8)" fill="#aab6ff" opacity="0.55"/>
<ellipse cx="398.4" cy="170.2" rx="2.06" ry="1.21" transform="rotate(13 398.4 170.2)" fill="#aab6ff" opacity="0.41"/>
<ellipse cx="394.9" cy="173.4" rx="1.99" ry="1.16" transform="rotate(13 394.9 173.4)" fill="#aab6ff" opacity="0.53"/>
<ellipse cx="390.9" cy="176.4" rx="1.95" ry="1.14" transform="rotate(13 390.9 176.4)" fill="#aab6ff" opacity="0.79"/>
<ellipse cx="387.2" cy="179.6" rx="2.01" ry="1.18" transform="rotate(13 387.2 179.6)" fill="#aab6ff" opacity="0.80"/>
<ellipse cx="383.2" cy="182.9" rx="1.90" ry="1.12" transform="rotate(13 383.2 182.9)" fill="#aab6ff" opacity="0.57"/>
<ellipse cx="470.1" cy="113.7" rx="2.11" ry="1.24" transform="rotate(13 470.1 113.7)" fill="#aab6ff" opacity="0.62"/>
<ellipse cx="466.0" cy="116.5" rx="2.04" ry="1.20" transform="rotate(13 466.0 116.5)" fill="#aab6ff" opacity="0.42"/>
<ellipse cx="462.5" cy="119.7" rx="2.00" ry="1.17" transform="rotate(13 462.5 119.7)" fill="#aab6ff" opacity="0.24"/>
<ellipse cx="458.7" cy="123.0" rx="2.01" ry="1.18" transform="rotate(13 458.7 123.0)" fill="#aab6ff" opacity="0.33"/>
<ellipse cx="454.9" cy="126.6" rx="1.86" ry="1.09" transform="rotate(13 454.9 126.6)" fill="#aab6ff" opacity="0.46"/>
<ellipse cx="451.7" cy="129.5" rx="2.08" ry="1.22" transform="rotate(13 451.7 129.5)" fill="#aab6ff" opacity="0.63"/>
<ellipse cx="447.9" cy="132.8" rx="1.85" ry="1.09" transform="rotate(13 447.9 132.8)" fill="#aab6ff" opacity="0.36"/>
<ellipse cx="444.3" cy="135.7" rx="1.79" ry="1.05" transform="rotate(13 444.3 135.7)" fill="#aab6ff" opacity="0.40"/>
<ellipse cx="440.1" cy="139.0" rx="2.22" ry="1.30" transform="rotate(13 440.1 139.0)" fill="#aab6ff" opacity="0.51"/>
<ellipse cx="436.4" cy="142.6" rx="1.90" ry="1.12" transform="rotate(13 436.4 142.6)" fill="#aab6ff" opacity="0.42"/>
<ellipse cx="432.9" cy="145.6" rx="1.94" ry="1.14" transform="rotate(13 432.9 145.6)" fill="#aab6ff" opacity="0.36"/>
<ellipse cx="429.5" cy="148.6" rx="1.76" ry="1.03" transform="rotate(13 429.5 148.6)" fill="#aab6ff" opacity="0.12"/>
<ellipse cx="425.9" cy="151.9" rx="2.21" ry="1.30" transform="rotate(13 425.9 151.9)" fill="#aab6ff" opacity="0.50"/>
<ellipse cx="422.2" cy="155.4" rx="1.89" ry="1.11" transform="rotate(13 422.2 155.4)" fill="#aab6ff" opacity="0.39"/>
<ellipse cx="418.1" cy="158.3" rx="2.17" ry="1.27" transform="rotate(13 418.1 158.3)" fill="#aab6ff" opacity="0.16"/>
<ellipse cx="414.8" cy="161.4" rx="2.19" ry="1.28" transform="rotate(13 414.8 161.4)" fill="#aab6ff" opacity="0.16"/>
<ellipse cx="411.0" cy="164.5" rx="1.84" ry="1.08" transform="rotate(13 411.0 164.5)" fill="#aab6ff" opacity="0.54"/>
<ellipse cx="407.0" cy="168.2" rx="2.11" ry="1.24" transform="rotate(13 407.0 168.2)" fill="#aab6ff" opacity="0.36"/>
<ellipse cx="403.2" cy="171.3" rx="2.10" ry="1.23" transform="rotate(13 403.2 171.3)" fill="#aab6ff" opacity="0.38"/>
<ellipse cx="399.4" cy="174.2" rx="1.97" ry="1.15" transform="rotate(13 399.4 174.2)" fill="#aab6ff" opacity="0.41"/>
<ellipse cx="395.8" cy="177.4" rx="2.10" ry="1.23" transform="rotate(13 395.8 177.4)" fill="#aab6ff" opacity="0.43"/>
<ellipse cx="392.5" cy="180.7" rx="2.08" ry="1.22" transform="rotate(13 392.5 180.7)" fill="#aab6ff" opacity="0.40"/>
<ellipse cx="388.7" cy="183.8" rx="2.19" ry="1.28" transform="rotate(13 388.7 183.8)" fill="#aab6ff" opacity="0.31"/>
<ellipse cx="475.2" cy="114.6" rx="2.21" ry="1.30" transform="rotate(13 475.2 114.6)" fill="#aab6ff" opacity="0.30"/>
<ellipse cx="471.7" cy="117.9" rx="1.79" ry="1.05" transform="rotate(13 471.7 117.9)" fill="#aab6ff" opacity="0.39"/>
<ellipse cx="467.4" cy="121.2" rx="2.01" ry="1.18" transform="rotate(13 467.4 121.2)" fill="#aab6ff" opacity="0.13"/>
<ellipse cx="464.2" cy="124.1" rx="1.87" ry="1.09" transform="rotate(13 464.2 124.1)" fill="#aab6ff" opacity="0.06"/>
<ellipse cx="460.1" cy="127.4" rx="2.12" ry="1.24" transform="rotate(13 460.1 127.4)" fill="#aab6ff" opacity="0.29"/>
<ellipse cx="456.8" cy="131.0" rx="1.83" ry="1.08" transform="rotate(13 456.8 131.0)" fill="#aab6ff" opacity="0.36"/>
<ellipse cx="453.1" cy="133.8" rx="1.97" ry="1.16" transform="rotate(13 453.1 133.8)" fill="#aab6ff" opacity="0.04"/>
<ellipse cx="449.0" cy="137.1" rx="1.99" ry="1.17" transform="rotate(13 449.0 137.1)" fill="#aab6ff" opacity="0.27"/>
<ellipse cx="445.6" cy="140.5" rx="1.92" ry="1.13" transform="rotate(13 445.6 140.5)" fill="#aab6ff" opacity="0.41"/>
<ellipse cx="442.0" cy="143.6" rx="2.00" ry="1.17" transform="rotate(13 442.0 143.6)" fill="#aab6ff" opacity="0.35"/>
<ellipse cx="437.9" cy="146.9" rx="2.22" ry="1.30" transform="rotate(13 437.9 146.9)" fill="#aab6ff" opacity="0.13"/>
<ellipse cx="434.2" cy="149.9" rx="2.05" ry="1.20" transform="rotate(13 434.2 149.9)" fill="#aab6ff" opacity="0.04"/>
<ellipse cx="430.9" cy="152.9" rx="2.14" ry="1.25" transform="rotate(13 430.9 152.9)" fill="#aab6ff" opacity="0.45"/>
<ellipse cx="427.0" cy="156.3" rx="1.85" ry="1.09" transform="rotate(13 427.0 156.3)" fill="#aab6ff" opacity="0.35"/>
<ellipse cx="423.4" cy="159.5" rx="2.04" ry="1.20" transform="rotate(13 423.4 159.5)" fill="#aab6ff" opacity="0.04"/>
<ellipse cx="419.4" cy="162.4" rx="1.83" ry="1.07" transform="rotate(13 419.4 162.4)" fill="#aab6ff" opacity="0.25"/>
<ellipse cx="415.9" cy="165.8" rx="1.96" ry="1.15" transform="rotate(13 415.9 165.8)" fill="#aab6ff" opacity="0.36"/>
<ellipse cx="412.4" cy="169.1" rx="1.78" ry="1.04" transform="rotate(13 412.4 169.1)" fill="#aab6ff" opacity="0.44"/>
<ellipse cx="408.3" cy="172.1" rx="2.14" ry="1.26" transform="rotate(13 408.3 172.1)" fill="#aab6ff" opacity="0.14"/>
<ellipse cx="404.7" cy="175.6" rx="1.76" ry="1.03" transform="rotate(13 404.7 175.6)" fill="#aab6ff" opacity="0.07"/>
<ellipse cx="401.2" cy="178.5" rx="1.87" ry="1.10" transform="rotate(13 401.2 178.5)" fill="#aab6ff" opacity="0.37"/>
<ellipse cx="397.3" cy="181.7" rx="1.83" ry="1.07" transform="rotate(13 397.3 181.7)" fill="#aab6ff" opacity="0.45"/>
<ellipse cx="480.4" cy="115.6" rx="2.16" ry="1.27" transform="rotate(13 480.4 115.6)" fill="#aab6ff" opacity="0.60"/>
<ellipse cx="476.3" cy="119.3" rx="1.92" ry="1.13" transform="rotate(13 476.3 119.3)" fill="#aab6ff" opacity="0.50"/>
<ellipse cx="473.0" cy="122.5" rx="1.99" ry="1.17" transform="rotate(13 473.0 122.5)" fill="#aab6ff" opacity="0.16"/>
<ellipse cx="469.2" cy="125.2" rx="1.97" ry="1.16" transform="rotate(13 469.2 125.2)" fill="#aab6ff" opacity="0.20"/>
<ellipse cx="465.2" cy="128.6" rx="2.19" ry="1.28" transform="rotate(13 465.2 128.6)" fill="#aab6ff" opacity="0.46"/>
<ellipse cx="461.4" cy="131.6" rx="1.96" ry="1.15" transform="rotate(13 461.4 131.6)" fill="#aab6ff" opacity="0.47"/>
<ellipse cx="458.1" cy="134.9" rx="2.13" ry="1.25" transform="rotate(13 458.1 134.9)" fill="#aab6ff" opacity="0.46"/>
<ellipse cx="454.1" cy="138.2" rx="2.02" ry="1.18" transform="rotate(13 454.1 138.2)" fill="#aab6ff" opacity="0.24"/>
<ellipse cx="450.5" cy="141.7" rx="1.92" ry="1.13" transform="rotate(13 450.5 141.7)" fill="#aab6ff" opacity="0.68"/>
<ellipse cx="446.8" cy="144.7" rx="1.76" ry="1.03" transform="rotate(13 446.8 144.7)" fill="#aab6ff" opacity="0.57"/>
<ellipse cx="443.3" cy="148.1" rx="1.91" ry="1.12" transform="rotate(13 443.3 148.1)" fill="#aab6ff" opacity="0.16"/>
<ellipse cx="439.5" cy="151.0" rx="2.19" ry="1.28" transform="rotate(13 439.5 151.0)" fill="#aab6ff" opacity="0.34"/>
<ellipse cx="436.0" cy="154.1" rx="1.93" ry="1.13" transform="rotate(13 436.0 154.1)" fill="#aab6ff" opacity="0.65"/>
<ellipse cx="432.1" cy="157.2" rx="1.83" ry="1.07" transform="rotate(13 432.1 157.2)" fill="#aab6ff" opacity="0.48"/>
<ellipse cx="428.4" cy="160.5" rx="1.85" ry="1.08" transform="rotate(13 428.4 160.5)" fill="#aab6ff" opacity="0.21"/>
<ellipse cx="424.8" cy="164.1" rx="2.24" ry="1.32" transform="rotate(13 424.8 164.1)" fill="#aab6ff" opacity="0.30"/>
<ellipse cx="420.7" cy="167.2" rx="1.93" ry="1.13" transform="rotate(13 420.7 167.2)" fill="#aab6ff" opacity="0.45"/>
<ellipse cx="417.0" cy="170.1" rx="1.88" ry="1.10" transform="rotate(13 417.0 170.1)" fill="#aab6ff" opacity="0.49"/>
<ellipse cx="413.9" cy="173.6" rx="1.94" ry="1.14" transform="rotate(13 413.9 173.6)" fill="#aab6ff" opacity="0.23"/>
<ellipse cx="409.7" cy="176.9" rx="1.92" ry="1.13" transform="rotate(13 409.7 176.9)" fill="#aab6ff" opacity="0.24"/>
<ellipse cx="406.3" cy="180.1" rx="2.13" ry="1.25" transform="rotate(13 406.3 180.1)" fill="#aab6ff" opacity="0.50"/>
<ellipse cx="402.4" cy="182.8" rx="1.90" ry="1.12" transform="rotate(13 402.4 182.8)" fill="#aab6ff" opacity="0.38"/>
<ellipse cx="485.5" cy="117.0" rx="1.91" ry="1.12" transform="rotate(13 485.5 117.0)" fill="#aab6ff" opacity="0.80"/>
<ellipse cx="481.4" cy="119.9" rx="1.94" ry="1.14" transform="rotate(13 481.4 119.9)" fill="#aab6ff" opacity="0.52"/>
<ellipse cx="477.6" cy="123.3" rx="2.04" ry="1.20" transform="rotate(13 477.6 123.3)" fill="#aab6ff" opacity="0.33"/>
<ellipse cx="474.0" cy="126.7" rx="2.02" ry="1.18" transform="rotate(13 474.0 126.7)" fill="#aab6ff" opacity="0.43"/>
<ellipse cx="470.6" cy="129.6" rx="2.11" ry="1.24" transform="rotate(13 470.6 129.6)" fill="#aab6ff" opacity="0.60"/>
<ellipse cx="466.9" cy="132.9" rx="1.88" ry="1.10" transform="rotate(13 466.9 132.9)" fill="#aab6ff" opacity="0.57"/>
<ellipse cx="462.9" cy="136.1" rx="2.18" ry="1.28" transform="rotate(13 462.9 136.1)" fill="#aab6ff" opacity="0.40"/>
<ellipse cx="459.1" cy="139.1" rx="1.85" ry="1.08" transform="rotate(13 459.1 139.1)" fill="#aab6ff" opacity="0.40"/>
<ellipse cx="455.9" cy="142.9" rx="2.03" ry="1.19" transform="rotate(13 455.9 142.9)" fill="#aab6ff" opacity="0.72"/>
<ellipse cx="452.3" cy="145.6" rx="2.08" ry="1.22" transform="rotate(13 452.3 145.6)" fill="#aab6ff" opacity="0.60"/>
<ellipse cx="448.6" cy="149.2" rx="2.08" ry="1.22" transform="rotate(13 448.6 149.2)" fill="#aab6ff" opacity="0.50"/>
<ellipse cx="444.4" cy="152.2" rx="2.06" ry="1.21" transform="rotate(13 444.4 152.2)" fill="#aab6ff" opacity="0.37"/>
<ellipse cx="440.8" cy="155.3" rx="1.77" ry="1.04" transform="rotate(13 440.8 155.3)" fill="#aab6ff" opacity="0.64"/>
<ellipse cx="437.0" cy="158.5" rx="1.88" ry="1.10" transform="rotate(13 437.0 158.5)" fill="#aab6ff" opacity="0.67"/>
<ellipse cx="433.6" cy="161.6" rx="1.82" ry="1.07" transform="rotate(13 433.6 161.6)" fill="#aab6ff" opacity="0.43"/>
<ellipse cx="429.8" cy="164.8" rx="1.91" ry="1.12" transform="rotate(13 429.8 164.8)" fill="#aab6ff" opacity="0.32"/>
<ellipse cx="426.1" cy="168.3" rx="2.10" ry="1.23" transform="rotate(13 426.1 168.3)" fill="#aab6ff" opacity="0.70"/>
<ellipse cx="422.3" cy="171.1" rx="1.94" ry="1.14" transform="rotate(13 422.3 171.1)" fill="#aab6ff" opacity="0.51"/>
<ellipse cx="418.7" cy="174.7" rx="1.77" ry="1.04" transform="rotate(13 418.7 174.7)" fill="#aab6ff" opacity="0.41"/>
<ellipse cx="414.9" cy="177.5" rx="1.91" ry="1.12" transform="rotate(13 414.9 177.5)" fill="#aab6ff" opacity="0.44"/>
<ellipse cx="411.3" cy="180.9" rx="2.19" ry="1.29" transform="rotate(13 411.3 180.9)" fill="#aab6ff" opacity="0.63"/>
<ellipse cx="407.6" cy="184.3" rx="1.83" ry="1.08" transform="rotate(13 407.6 184.3)" fill="#aab6ff" opacity="0.72"/>
<ellipse cx="490.4" cy="118.4" rx="1.92" ry="1.13" transform="rotate(13 490.4 118.4)" fill="#aab6ff" opacity="0.64"/>
<ellipse cx="486.8" cy="121.3" rx="2.06" ry="1.21" transform="rotate(13 486.8 121.3)" fill="#aab6ff" opacity="0.57"/>
<ellipse cx="483.2" cy="124.8" rx="1.88" ry="1.10" transform="rotate(13 483.2 124.8)" fill="#aab6ff" opacity="0.23"/>
<ellipse cx="479.0" cy="127.5" rx="2.20" ry="1.29" transform="rotate(13 479.0 127.5)" fill="#aab6ff" opacity="0.23"/>
<ellipse cx="475.5" cy="131.2" rx="1.90" ry="1.11" transform="rotate(13 475.5 131.2)" fill="#aab6ff" opacity="0.50"/>
<ellipse cx="471.7" cy="134.3" rx="1.84" ry="1.08" transform="rotate(13 471.7 134.3)" fill="#aab6ff" opacity="0.37"/>
<ellipse cx="468.2" cy="137.3" rx="1.74" ry="1.02" transform="rotate(13 468.2 137.3)" fill="#aab6ff" opacity="0.17"/>
<ellipse cx="464.6" cy="140.6" rx="1.99" ry="1.17" transform="rotate(13 464.6 140.6)" fill="#aab6ff" opacity="0.19"/>
<ellipse cx="461.0" cy="144.0" rx="2.02" ry="1.19" transform="rotate(13 461.0 144.0)" fill="#aab6ff" opacity="0.54"/>
<ellipse cx="457.3" cy="146.8" rx="1.92" ry="1.12" transform="rotate(13 457.3 146.8)" fill="#aab6ff" opacity="0.43"/>
<ellipse cx="453.5" cy="150.4" rx="2.09" ry="1.23" transform="rotate(13 453.5 150.4)" fill="#aab6ff" opacity="0.33"/>
<ellipse cx="449.8" cy="153.3" rx="1.82" ry="1.07" transform="rotate(13 449.8 153.3)" fill="#aab6ff" opacity="0.37"/>
<ellipse cx="445.9" cy="156.7" rx="1.93" ry="1.13" transform="rotate(13 445.9 156.7)" fill="#aab6ff" opacity="0.52"/>
<ellipse cx="442.1" cy="159.6" rx="1.86" ry="1.09" transform="rotate(13 442.1 159.6)" fill="#aab6ff" opacity="0.50"/>
<ellipse cx="438.4" cy="162.7" rx="2.00" ry="1.17" transform="rotate(13 438.4 162.7)" fill="#aab6ff" opacity="0.16"/>
<ellipse cx="435.0" cy="165.9" rx="1.79" ry="1.05" transform="rotate(13 435.0 165.9)" fill="#aab6ff" opacity="0.13"/>
<ellipse cx="431.2" cy="169.1" rx="2.13" ry="1.25" transform="rotate(13 431.2 169.1)" fill="#aab6ff" opacity="0.48"/>
<ellipse cx="427.2" cy="172.4" rx="2.18" ry="1.28" transform="rotate(13 427.2 172.4)" fill="#aab6ff" opacity="0.60"/>
<ellipse cx="423.7" cy="175.9" rx="2.14" ry="1.26" transform="rotate(13 423.7 175.9)" fill="#aab6ff" opacity="0.26"/>
<ellipse cx="420.0" cy="178.9" rx="2.10" ry="1.23" transform="rotate(13 420.0 178.9)" fill="#aab6ff" opacity="0.19"/>
<ellipse cx="416.6" cy="182.2" rx="2.17" ry="1.27" transform="rotate(13 416.6 182.2)" fill="#aab6ff" opacity="0.58"/>
<ellipse cx="495.6" cy="119.5" rx="2.10" ry="1.23" transform="rotate(13 495.6 119.5)" fill="#aab6ff" opacity="0.33"/>
<ellipse cx="491.7" cy="122.6" rx="1.80" ry="1.06" transform="rotate(13 491.7 122.6)" fill="#aab6ff" opacity="0.45"/>
<ellipse cx="487.8" cy="125.8" rx="1.83" ry="1.07" transform="rotate(13 487.8 125.8)" fill="#aab6ff" opacity="0.04"/>
<ellipse cx="484.2" cy="129.0" rx="2.23" ry="1.31" transform="rotate(13 484.2 129.0)" fill="#aab6ff" opacity="0.28"/>
<ellipse cx="480.6" cy="132.4" rx="2.06" ry="1.21" transform="rotate(13 480.6 132.4)" fill="#aab6ff" opacity="0.33"/>
<ellipse cx="477.1" cy="135.1" rx="1.76" ry="1.03" transform="rotate(13 477.1 135.1)" fill="#aab6ff" opacity="0.51"/>
<ellipse cx="473.4" cy="138.8" rx="1.89" ry="1.11" transform="rotate(13 473.4 138.8)" fill="#aab6ff" opacity="0.04"/>
<ellipse cx="469.3" cy="141.7" rx="1.91" ry="1.12" transform="rotate(13 469.3 141.7)" fill="#aab6ff" opacity="0.04"/>
<ellipse cx="465.8" cy="145.1" rx="1.93" ry="1.13" transform="rotate(13 465.8 145.1)" fill="#aab6ff" opacity="0.35"/>
<ellipse cx="462.1" cy="148.2" rx="1.88" ry="1.10" transform="rotate(13 462.1 148.2)" fill="#aab6ff" opacity="0.46"/>
<ellipse cx="458.4" cy="151.4" rx="2.24" ry="1.31" transform="rotate(13 458.4 151.4)" fill="#aab6ff" opacity="0.21"/>
<ellipse cx="454.6" cy="154.3" rx="2.15" ry="1.26" transform="rotate(13 454.6 154.3)" fill="#aab6ff" opacity="0.15"/>
<ellipse cx="451.0" cy="157.7" rx="2.21" ry="1.30" transform="rotate(13 451.0 157.7)" fill="#aab6ff" opacity="0.23"/>
<ellipse cx="447.1" cy="160.9" rx="1.90" ry="1.12" transform="rotate(13 447.1 160.9)" fill="#aab6ff" opacity="0.23"/>
<ellipse cx="443.6" cy="163.9" rx="2.06" ry="1.21" transform="rotate(13 443.6 163.9)" fill="#aab6ff" opacity="0.04"/>
<ellipse cx="439.9" cy="167.0" rx="1.93" ry="1.13" transform="rotate(13 439.9 167.0)" fill="#aab6ff" opacity="0.13"/>
<ellipse cx="436.2" cy="170.2" rx="2.19" ry="1.29" transform="rotate(13 436.2 170.2)" fill="#aab6ff" opacity="0.22"/>
<ellipse cx="432.9" cy="173.5" rx="1.99" ry="1.16" transform="rotate(13 432.9 173.5)" fill="#aab6ff" opacity="0.25"/>
<ellipse cx="428.8" cy="177.1" rx="1.99" ry="1.16" transform="rotate(13 428.8 177.1)" fill="#aab6ff" opacity="0.24"/>
<ellipse cx="425.2" cy="180.2" rx="1.77" ry="1.04" transform="rotate(13 425.2 180.2)" fill="#aab6ff" opacity="0.10"/>
<ellipse cx="421.8" cy="183.5" rx="1.88" ry="1.10" transform="rotate(13 421.8 183.5)" fill="#aab6ff" opacity="0.40"/>
<ellipse cx="500.8" cy="120.6" rx="1.96" ry="1.15" transform="rotate(13 500.8 120.6)" fill="#aab6ff" opacity="0.70"/>
<ellipse cx="496.7" cy="123.4" rx="1.75" ry="1.03" transform="rotate(13 496.7 123.4)" fill="#aab6ff" opacity="0.43"/>
<ellipse cx="493.4" cy="126.7" rx="1.92" ry="1.13" transform="rotate(13 493.4 126.7)" fill="#aab6ff" opacity="0.17"/>
<ellipse cx="489.3" cy="130.3" rx="1.75" ry="1.02" transform="rotate(13 489.3 130.3)" fill="#aab6ff" opacity="0.32"/>
<ellipse cx="486.0" cy="133.4" rx="2.01" ry="1.18" transform="rotate(13 486.0 133.4)" fill="#aab6ff" opacity="0.38"/>
<ellipse cx="482.3" cy="136.6" rx="1.94" ry="1.14" transform="rotate(13 482.3 136.6)" fill="#aab6ff" opacity="0.61"/>
<ellipse cx="478.2" cy="139.9" rx="2.24" ry="1.31" transform="rotate(13 478.2 139.9)" fill="#aab6ff" opacity="0.39"/>
<ellipse cx="474.6" cy="143.1" rx="2.10" ry="1.23" transform="rotate(13 474.6 143.1)" fill="#aab6ff" opacity="0.28"/>
<ellipse cx="470.8" cy="146.0" rx="2.03" ry="1.19" transform="rotate(13 470.8 146.0)" fill="#aab6ff" opacity="0.39"/>
<ellipse cx="467.5" cy="149.2" rx="2.07" ry="1.22" transform="rotate(13 467.5 149.2)" fill="#aab6ff" opacity="0.49"/>
<ellipse cx="463.5" cy="152.7" rx="1.92" ry="1.13" transform="rotate(13 463.5 152.7)" fill="#aab6ff" opacity="0.35"/>
<ellipse cx="459.8" cy="155.8" rx="1.79" ry="1.05" transform="rotate(13 459.8 155.8)" fill="#aab6ff" opacity="0.26"/>
<ellipse cx="456.2" cy="159.0" rx="2.12" ry="1.24" transform="rotate(13 456.2 159.0)" fill="#aab6ff" opacity="0.45"/>
<ellipse cx="452.3" cy="162.0" rx="1.79" ry="1.05" transform="rotate(13 452.3 162.0)" fill="#aab6ff" opacity="0.43"/>
<ellipse cx="448.8" cy="165.2" rx="1.74" ry="1.02" transform="rotate(13 448.8 165.2)" fill="#aab6ff" opacity="0.28"/>
<ellipse cx="445.4" cy="168.3" rx="2.01" ry="1.18" transform="rotate(13 445.4 168.3)" fill="#aab6ff" opacity="0.26"/>
<ellipse cx="441.6" cy="171.4" rx="1.90" ry="1.12" transform="rotate(13 441.6 171.4)" fill="#aab6ff" opacity="0.66"/>
<ellipse cx="438.0" cy="174.7" rx="1.96" ry="1.15" transform="rotate(13 438.0 174.7)" fill="#aab6ff" opacity="0.69"/>
<ellipse cx="433.8" cy="177.9" rx="2.10" ry="1.23" transform="rotate(13 433.8 177.9)" fill="#aab6ff" opacity="0.27"/>
<ellipse cx="430.2" cy="181.1" rx="2.22" ry="1.30" transform="rotate(13 430.2 181.1)" fill="#aab6ff" opacity="0.37"/>
<ellipse cx="426.4" cy="184.5" rx="2.24" ry="1.31" transform="rotate(13 426.4 184.5)" fill="#aab6ff" opacity="0.50"/>
<ellipse cx="505.5" cy="121.7" rx="2.07" ry="1.21" transform="rotate(13 505.5 121.7)" fill="#aab6ff" opacity="0.64"/>
<ellipse cx="502.1" cy="124.8" rx="2.17" ry="1.27" transform="rotate(13 502.1 124.8)" fill="#aab6ff" opacity="0.79"/>
<ellipse cx="498.5" cy="128.1" rx="1.80" ry="1.05" transform="rotate(13 498.5 128.1)" fill="#aab6ff" opacity="0.46"/>
<ellipse cx="494.6" cy="131.1" rx="2.08" ry="1.22" transform="rotate(13 494.6 131.1)" fill="#aab6ff" opacity="0.44"/>
<ellipse cx="490.9" cy="134.4" rx="2.04" ry="1.20" transform="rotate(13 490.9 134.4)" fill="#aab6ff" opacity="0.59"/>
<ellipse cx="487.2" cy="137.7" rx="2.06" ry="1.21" transform="rotate(13 487.2 137.7)" fill="#aab6ff" opacity="0.52"/>
<ellipse cx="483.3" cy="140.8" rx="2.21" ry="1.30" transform="rotate(13 483.3 140.8)" fill="#aab6ff" opacity="0.47"/>
<ellipse cx="479.7" cy="144.1" rx="2.11" ry="1.24" transform="rotate(13 479.7 144.1)" fill="#aab6ff" opacity="0.61"/>
<ellipse cx="476.3" cy="147.0" rx="1.94" ry="1.14" transform="rotate(13 476.3 147.0)" fill="#aab6ff" opacity="0.80"/>
<ellipse cx="472.2" cy="150.6" rx="1.99" ry="1.17" transform="rotate(13 472.2 150.6)" fill="#aab6ff" opacity="0.80"/>
<ellipse cx="468.9" cy="153.8" rx="2.22" ry="1.30" transform="rotate(13 468.9 153.8)" fill="#aab6ff" opacity="0.49"/>
<ellipse cx="464.7" cy="157.0" rx="2.24" ry="1.32" transform="rotate(13 464.7 157.0)" fill="#aab6ff" opacity="0.45"/>
<ellipse cx="461.5" cy="160.0" rx="1.87" ry="1.09" transform="rotate(13 461.5 160.0)" fill="#aab6ff" opacity="0.74"/>
<ellipse cx="457.4" cy="163.1" rx="2.18" ry="1.28" transform="rotate(13 457.4 163.1)" fill="#aab6ff" opacity="0.68"/>
<ellipse cx="453.9" cy="166.6" rx="1.78" ry="1.04" transform="rotate(13 453.9 166.6)" fill="#aab6ff" opacity="0.49"/>
<ellipse cx="450.4" cy="169.8" rx="1.86" ry="1.09" transform="rotate(13 450.4 169.8)" fill="#aab6ff" opacity="0.45"/>
<ellipse cx="446.7" cy="173.0" rx="2.02" ry="1.18" transform="rotate(13 446.7 173.0)" fill="#aab6ff" opacity="0.76"/>
<ellipse cx="442.6" cy="175.7" rx="1.93" ry="1.13" transform="rotate(13 442.6 175.7)" fill="#aab6ff" opacity="0.55"/>
<ellipse cx="439.3" cy="179.0" rx="2.18" ry="1.28" transform="rotate(13 439.3 179.0)" fill="#aab6ff" opacity="0.39"/>
<ellipse cx="435.6" cy="182.5" rx="1.94" ry="1.14" transform="rotate(13 435.6 182.5)" fill="#aab6ff" opacity="0.35"/>
<ellipse cx="503.7" cy="129.0" rx="1.78" ry="1.04" transform="rotate(13 503.7 129.0)" fill="#aab6ff" opacity="0.39"/>
<ellipse cx="499.8" cy="132.2" rx="2.18" ry="1.28" transform="rotate(13 499.8 132.2)" fill="#aab6ff" opacity="0.31"/>
<ellipse cx="495.7" cy="135.5" rx="1.96" ry="1.15" transform="rotate(13 495.7 135.5)" fill="#aab6ff" opacity="0.55"/>
<ellipse cx="492.2" cy="138.8" rx="2.06" ry="1.21" transform="rotate(13 492.2 138.8)" fill="#aab6ff" opacity="0.43"/>
<ellipse cx="488.4" cy="142.1" rx="1.83" ry="1.07" transform="rotate(13 488.4 142.1)" fill="#aab6ff" opacity="0.32"/>
<ellipse cx="484.7" cy="145.4" rx="1.81" ry="1.06" transform="rotate(13 484.7 145.4)" fill="#aab6ff" opacity="0.26"/>
<ellipse cx="481.0" cy="148.6" rx="1.92" ry="1.13" transform="rotate(13 481.0 148.6)" fill="#aab6ff" opacity="0.53"/>
<ellipse cx="477.4" cy="151.4" rx="2.11" ry="1.24" transform="rotate(13 477.4 151.4)" fill="#aab6ff" opacity="0.55"/>
<ellipse cx="473.9" cy="154.7" rx="1.81" ry="1.06" transform="rotate(13 473.9 154.7)" fill="#aab6ff" opacity="0.23"/>
<ellipse cx="470.1" cy="158.0" rx="1.95" ry="1.14" transform="rotate(13 470.1 158.0)" fill="#aab6ff" opacity="0.37"/>
<ellipse cx="466.5" cy="161.0" rx="1.92" ry="1.12" transform="rotate(13 466.5 161.0)" fill="#aab6ff" opacity="0.64"/>
<ellipse cx="462.9" cy="164.2" rx="1.88" ry="1.10" transform="rotate(13 462.9 164.2)" fill="#aab6ff" opacity="0.51"/>
<ellipse cx="459.0" cy="167.8" rx="2.08" ry="1.22" transform="rotate(13 459.0 167.8)" fill="#aab6ff" opacity="0.37"/>
<ellipse cx="455.4" cy="170.7" rx="2.12" ry="1.24" transform="rotate(13 455.4 170.7)" fill="#aab6ff" opacity="0.23"/>
<ellipse cx="451.5" cy="173.9" rx="1.95" ry="1.14" transform="rotate(13 451.5 173.9)" fill="#aab6ff" opacity="0.36"/>
<ellipse cx="448.0" cy="177.3" rx="1.89" ry="1.11" transform="rotate(13 448.0 177.3)" fill="#aab6ff" opacity="0.63"/>
<ellipse cx="444.0" cy="180.6" rx="1.95" ry="1.14" transform="rotate(13 444.0 180.6)" fill="#aab6ff" opacity="0.18"/>
<ellipse cx="440.4" cy="183.7" rx="1.95" ry="1.15" transform="rotate(13 440.4 183.7)" fill="#aab6ff" opacity="0.19"/>
<ellipse cx="504.8" cy="133.3" rx="2.04" ry="1.20" transform="rotate(13 504.8 133.3)" fill="#aab6ff" opacity="0.25"/>
<ellipse cx="501.0" cy="136.6" rx="1.78" ry="1.05" transform="rotate(13 501.0 136.6)" fill="#aab6ff" opacity="0.49"/>
<ellipse cx="497.3" cy="140.1" rx="2.08" ry="1.22" transform="rotate(13 497.3 140.1)" fill="#aab6ff" opacity="0.42"/>
<ellipse cx="493.8" cy="143.1" rx="1.75" ry="1.03" transform="rotate(13 493.8 143.1)" fill="#aab6ff" opacity="0.27"/>
<ellipse cx="489.9" cy="146.4" rx="1.98" ry="1.16" transform="rotate(13 489.9 146.4)" fill="#aab6ff" opacity="0.09"/>
<ellipse cx="486.6" cy="149.8" rx="2.23" ry="1.31" transform="rotate(13 486.6 149.8)" fill="#aab6ff" opacity="0.39"/>
<ellipse cx="482.7" cy="152.8" rx="2.16" ry="1.27" transform="rotate(13 482.7 152.8)" fill="#aab6ff" opacity="0.32"/>
<ellipse cx="478.9" cy="155.8" rx="1.77" ry="1.04" transform="rotate(13 478.9 155.8)" fill="#aab6ff" opacity="0.28"/>
<ellipse cx="475.5" cy="158.9" rx="1.85" ry="1.08" transform="rotate(13 475.5 158.9)" fill="#aab6ff" opacity="0.18"/>
<ellipse cx="471.4" cy="162.4" rx="1.81" ry="1.06" transform="rotate(13 471.4 162.4)" fill="#aab6ff" opacity="0.32"/>
<ellipse cx="467.9" cy="165.6" rx="1.82" ry="1.07" transform="rotate(13 467.9 165.6)" fill="#aab6ff" opacity="0.22"/>
<ellipse cx="464.3" cy="168.8" rx="1.87" ry="1.10" transform="rotate(13 464.3 168.8)" fill="#aab6ff" opacity="0.20"/>
<ellipse cx="460.4" cy="171.6" rx="1.80" ry="1.06" transform="rotate(13 460.4 171.6)" fill="#aab6ff" opacity="0.22"/>
<ellipse cx="456.9" cy="174.8" rx="2.22" ry="1.30" transform="rotate(13 456.9 174.8)" fill="#aab6ff" opacity="0.48"/>
<ellipse cx="453.0" cy="178.1" rx="2.01" ry="1.18" transform="rotate(13 453.0 178.1)" fill="#aab6ff" opacity="0.30"/>
<ellipse cx="449.3" cy="181.3" rx="1.89" ry="1.11" transform="rotate(13 449.3 181.3)" fill="#aab6ff" opacity="0.22"/>
<ellipse cx="445.4" cy="184.7" rx="1.81" ry="1.06" transform="rotate(13 445.4 184.7)" fill="#aab6ff" opacity="0.16"/>
<ellipse cx="506.0" cy="137.8" rx="2.13" ry="1.25" transform="rotate(13 506.0 137.8)" fill="#aab6ff" opacity="0.48"/>
<ellipse cx="502.5" cy="141.1" rx="1.85" ry="1.08" transform="rotate(13 502.5 141.1)" fill="#aab6ff" opacity="0.39"/>
<ellipse cx="498.6" cy="144.5" rx="2.17" ry="1.27" transform="rotate(13 498.6 144.5)" fill="#aab6ff" opacity="0.29"/>
<ellipse cx="495.1" cy="147.4" rx="2.23" ry="1.31" transform="rotate(13 495.1 147.4)" fill="#aab6ff" opacity="0.20"/>
<ellipse cx="491.7" cy="150.6" rx="2.18" ry="1.28" transform="rotate(13 491.7 150.6)" fill="#aab6ff" opacity="0.58"/>
<ellipse cx="487.9" cy="154.0" rx="1.82" ry="1.07" transform="rotate(13 487.9 154.0)" fill="#aab6ff" opacity="0.37"/>
<ellipse cx="484.0" cy="156.8" rx="1.82" ry="1.07" transform="rotate(13 484.0 156.8)" fill="#aab6ff" opacity="0.37"/>
<ellipse cx="480.6" cy="160.3" rx="1.89" ry="1.11" transform="rotate(13 480.6 160.3)" fill="#aab6ff" opacity="0.19"/>
<ellipse cx="476.5" cy="163.2" rx="1.76" ry="1.03" transform="rotate(13 476.5 163.2)" fill="#aab6ff" opacity="0.65"/>
<ellipse cx="473.2" cy="166.5" rx="1.80" ry="1.05" transform="rotate(13 473.2 166.5)" fill="#aab6ff" opacity="0.45"/>
<ellipse cx="469.4" cy="170.1" rx="2.07" ry="1.21" transform="rotate(13 469.4 170.1)" fill="#aab6ff" opacity="0.30"/>
<ellipse cx="465.7" cy="173.0" rx="1.99" ry="1.17" transform="rotate(13 465.7 173.0)" fill="#aab6ff" opacity="0.34"/>
<ellipse cx="461.7" cy="176.2" rx="2.12" ry="1.24" transform="rotate(13 461.7 176.2)" fill="#aab6ff" opacity="0.48"/>
<ellipse cx="458.0" cy="179.4" rx="1.98" ry="1.16" transform="rotate(13 458.0 179.4)" fill="#aab6ff" opacity="0.51"/>
<ellipse cx="454.6" cy="182.4" rx="1.77" ry="1.03" transform="rotate(13 454.6 182.4)" fill="#aab6ff" opacity="0.29"/>
<ellipse cx="503.8" cy="145.2" rx="2.02" ry="1.18" transform="rotate(13 503.8 145.2)" fill="#aab6ff" opacity="0.45"/>
<ellipse cx="500.1" cy="148.6" rx="1.93" ry="1.13" transform="rotate(13 500.1 148.6)" fill="#aab6ff" opacity="0.32"/>
<ellipse cx="496.5" cy="151.5" rx="2.12" ry="1.24" transform="rotate(13 496.5 151.5)" fill="#aab6ff" opacity="0.59"/>
<ellipse cx="492.5" cy="155.1" rx="2.23" ry="1.31" transform="rotate(13 492.5 155.1)" fill="#aab6ff" opacity="0.64"/>
<ellipse cx="489.2" cy="158.1" rx="1.93" ry="1.13" transform="rotate(13 489.2 158.1)" fill="#aab6ff" opacity="0.59"/>
<ellipse cx="485.5" cy="161.3" rx="2.05" ry="1.20" transform="rotate(13 485.5 161.3)" fill="#aab6ff" opacity="0.39"/>
<ellipse cx="481.9" cy="164.3" rx="2.00" ry="1.17" transform="rotate(13 481.9 164.3)" fill="#aab6ff" opacity="0.68"/>
<ellipse cx="477.9" cy="168.0" rx="1.87" ry="1.09" transform="rotate(13 477.9 168.0)" fill="#aab6ff" opacity="0.54"/>
<ellipse cx="474.2" cy="170.9" rx="2.18" ry="1.28" transform="rotate(13 474.2 170.9)" fill="#aab6ff" opacity="0.42"/>
<ellipse cx="470.9" cy="174.4" rx="1.78" ry="1.05" transform="rotate(13 470.9 174.4)" fill="#aab6ff" opacity="0.51"/>
<ellipse cx="467.1" cy="177.6" rx="1.90" ry="1.11" transform="rotate(13 467.1 177.6)" fill="#aab6ff" opacity="0.62"/>
<ellipse cx="463.4" cy="180.3" rx="1.77" ry="1.04" transform="rotate(13 463.4 180.3)" fill="#aab6ff" opacity="0.71"/>
<ellipse cx="459.8" cy="183.9" rx="2.02" ry="1.18" transform="rotate(13 459.8 183.9)" fill="#aab6ff" opacity="0.48"/>
<ellipse cx="505.5" cy="149.8" rx="2.21" ry="1.30" transform="rotate(13 505.5 149.8)" fill="#aab6ff" opacity="0.12"/>
<ellipse cx="501.6" cy="153.1" rx="2.11" ry="1.24" transform="rotate(13 501.6 153.1)" fill="#aab6ff" opacity="0.34"/>
<ellipse cx="497.6" cy="156.3" rx="2.21" ry="1.29" transform="rotate(13 497.6 156.3)" fill="#aab6ff" opacity="0.64"/>
<ellipse cx="494.1" cy="159.3" rx="2.12" ry="1.24" transform="rotate(13 494.1 159.3)" fill="#aab6ff" opacity="0.24"/>
<ellipse cx="490.4" cy="162.7" rx="1.80" ry="1.06" transform="rotate(13 490.4 162.7)" fill="#aab6ff" opacity="0.25"/>
<ellipse cx="487.0" cy="165.8" rx="1.80" ry="1.05" transform="rotate(13 487.0 165.8)" fill="#aab6ff" opacity="0.36"/>
<ellipse cx="482.9" cy="168.8" rx="1.80" ry="1.05" transform="rotate(13 482.9 168.8)" fill="#aab6ff" opacity="0.50"/>
<ellipse cx="479.7" cy="172.0" rx="2.02" ry="1.19" transform="rotate(13 479.7 172.0)" fill="#aab6ff" opacity="0.40"/>
<ellipse cx="475.9" cy="175.1" rx="2.01" ry="1.18" transform="rotate(13 475.9 175.1)" fill="#aab6ff" opacity="0.24"/>
<ellipse cx="471.7" cy="178.5" rx="1.98" ry="1.16" transform="rotate(13 471.7 178.5)" fill="#aab6ff" opacity="0.62"/>
<ellipse cx="468.6" cy="181.7" rx="2.08" ry="1.22" transform="rotate(13 468.6 181.7)" fill="#aab6ff" opacity="0.45"/>
<ellipse cx="506.9" cy="153.9" rx="1.94" ry="1.14" transform="rotate(13 506.9 153.9)" fill="#aab6ff" opacity="0.42"/>
<ellipse cx="503.1" cy="157.1" rx="1.82" ry="1.07" transform="rotate(13 503.1 157.1)" fill="#aab6ff" opacity="0.43"/>
<ellipse cx="499.2" cy="160.6" rx="1.82" ry="1.07" transform="rotate(13 499.2 160.6)" fill="#aab6ff" opacity="0.07"/>
<ellipse cx="495.6" cy="163.9" rx="1.94" ry="1.14" transform="rotate(13 495.6 163.9)" fill="#aab6ff" opacity="0.14"/>
<ellipse cx="491.9" cy="167.2" rx="2.04" ry="1.19" transform="rotate(13 491.9 167.2)" fill="#aab6ff" opacity="0.31"/>
<ellipse cx="488.0" cy="170.0" rx="2.09" ry="1.23" transform="rotate(13 488.0 170.0)" fill="#aab6ff" opacity="0.29"/>
<ellipse cx="484.4" cy="173.0" rx="2.03" ry="1.19" transform="rotate(13 484.4 173.0)" fill="#aab6ff" opacity="0.20"/>
<ellipse cx="480.9" cy="176.5" rx="1.93" ry="1.13" transform="rotate(13 480.9 176.5)" fill="#aab6ff" opacity="0.24"/>
<ellipse cx="477.4" cy="179.9" rx="2.02" ry="1.19" transform="rotate(13 477.4 179.9)" fill="#aab6ff" opacity="0.40"/>
<ellipse cx="473.2" cy="183.1" rx="1.99" ry="1.16" transform="rotate(13 473.2 183.1)" fill="#aab6ff" opacity="0.34"/>
<ellipse cx="504.6" cy="161.4" rx="1.90" ry="1.11" transform="rotate(13 504.6 161.4)" fill="#aab6ff" opacity="0.18"/>
<ellipse cx="500.7" cy="164.7" rx="2.03" ry="1.19" transform="rotate(13 500.7 164.7)" fill="#aab6ff" opacity="0.38"/>
<ellipse cx="497.2" cy="168.2" rx="2.22" ry="1.30" transform="rotate(13 497.2 168.2)" fill="#aab6ff" opacity="0.43"/>
<ellipse cx="493.1" cy="171.1" rx="2.14" ry="1.25" transform="rotate(13 493.1 171.1)" fill="#aab6ff" opacity="0.40"/>
<ellipse cx="489.4" cy="174.6" rx="2.05" ry="1.20" transform="rotate(13 489.4 174.6)" fill="#aab6ff" opacity="0.32"/>
<ellipse cx="486.2" cy="177.8" rx="2.20" ry="1.29" transform="rotate(13 486.2 177.8)" fill="#aab6ff" opacity="0.34"/>
<ellipse cx="482.3" cy="180.7" rx="2.22" ry="1.30" transform="rotate(13 482.3 180.7)" fill="#aab6ff" opacity="0.50"/>
<ellipse cx="478.4" cy="183.9" rx="2.11" ry="1.24" transform="rotate(13 478.4 183.9)" fill="#aab6ff" opacity="0.64"/>
<ellipse cx="505.7" cy="165.9" rx="2.01" ry="1.18" transform="rotate(13 505.7 165.9)" fill="#aab6ff" opacity="0.30"/>
<ellipse cx="502.1" cy="169.1" rx="1.81" ry="1.06" transform="rotate(13 502.1 169.1)" fill="#aab6ff" opacity="0.60"/>
<ellipse cx="498.4" cy="172.6" rx="1.88" ry="1.10" transform="rotate(13 498.4 172.6)" fill="#aab6ff" opacity="0.60"/>
<ellipse cx="494.9" cy="175.7" rx="2.18" ry="1.28" transform="rotate(13 494.9 175.7)" fill="#aab6ff" opacity="0.33"/>
<ellipse cx="491.0" cy="178.9" rx="2.11" ry="1.24" transform="rotate(13 491.0 178.9)" fill="#aab6ff" opacity="0.46"/>
<ellipse cx="487.2" cy="181.7" rx="2.13" ry="1.25" transform="rotate(13 487.2 181.7)" fill="#aab6ff" opacity="0.80"/>
<ellipse cx="503.7" cy="173.4" rx="1.92" ry="1.13" transform="rotate(13 503.7 173.4)" fill="#aab6ff" opacity="0.62"/>
<ellipse cx="499.9" cy="177.0" rx="1.93" ry="1.13" transform="rotate(13 499.9 177.0)" fill="#aab6ff" opacity="0.24"/>
<ellipse cx="496.0" cy="179.8" rx="2.03" ry="1.19" transform="rotate(13 496.0 179.8)" fill="#aab6ff" opacity="0.27"/>
<ellipse cx="492.7" cy="183.2" rx="1.80" ry="1.05" transform="rotate(13 492.7 183.2)" fill="#aab6ff" opacity="0.64"/>
<ellipse cx="504.7" cy="177.9" rx="2.20" ry="1.29" transform="rotate(13 504.7 177.9)" fill="#aab6ff" opacity="0.04"/>
<ellipse cx="501.1" cy="181.3" rx="2.24" ry="1.31" transform="rotate(13 501.1 181.3)" fill="#aab6ff" opacity="0.04"/>
<ellipse cx="497.2" cy="184.0" rx="2.08" ry="1.22" transform="rotate(13 497.2 184.0)" fill="#aab6ff" opacity="0.22"/>
<ellipse cx="506.4" cy="182.5" rx="2.24" ry="1.31" transform="rotate(13 506.4 182.5)" fill="#aab6ff" opacity="0.34"/>
</g>
</g>
<g id="img-stm-overlay">
  <g clip-path="url(#cStm)">
    <line x1="375" y1="151.2" x2="455" y2="152.2" stroke="#7f8fc0" stroke-width="0.5" opacity="0.7"/>
    <line x1="455" y1="163.8" x2="505" y2="164.6" stroke="#5a66a0" stroke-width="0.5" opacity="0.6"/>
  </g>
  <g fill="none" stroke="#e8ecff" stroke-width="0.6" stroke-dasharray="2 1" opacity="0.9">
    <polygon points="420.3,132.2 440.9,136.8 425.5,150.1 405.4,145"/>
  </g>
  <polygon points="408.6,141.6 414.7,142.9 411.4,147 405.2,145.4" fill="none" stroke="#f2a414" stroke-width="1.3"/>
  <text class="tiny" x="431" y="133.2" fill="#e4e8ff" font-size="4.1" opacity="0.9">4a</text>
  <text class="tiny" x="435.5" y="149.2" fill="#e4e8ff" font-size="4.1" opacity="0.9">4a</text>
  <!-- FFT inset -->
  <rect x="455.2" y="112.3" width="49.8" height="48.9" fill="#000"/>
  <g filter="url(#fFft)" opacity="0.45" clip-path="url(#cFft)">
    <rect x="474.6" y="112.3" width="3.4" height="48.9" fill="#5a0a06"/>
    <rect x="481.2" y="112.3" width="3.4" height="48.9" fill="#4a0805"/>
    <circle cx="479.4" cy="136.3" r="7" fill="#6a120a"/>
  </g>
  <g fill="#3a0a04" stroke="#eaa818" stroke-width="1.25">
    <circle cx="468.6" cy="124" r="1.5"/><circle cx="483.7" cy="119.7" r="1.5"/>
    <circle cx="494.8" cy="131.8" r="1.5"/><circle cx="490.9" cy="148.8" r="1.5"/>
    <circle cx="475.6" cy="152.7" r="1.5"/><circle cx="464.1" cy="140.4" r="1.5"/>
  </g>
  <g fill="#5a1a10" stroke="#fbf6f6" stroke-width="1.1">
    <circle cx="476.6" cy="132.6" r="1.4"/><circle cx="480.7" cy="131.6" r="1.4"/>
    <circle cx="483.6" cy="135.2" r="1.4"/><circle cx="482.3" cy="139.8" r="1.4"/>
    <circle cx="478.3" cy="140.8" r="1.4"/><circle cx="475.4" cy="137" r="1.4"/>
  </g>
  <text class="tiny" x="457.8" y="119.8" fill="#bdbdbd" font-size="5.4">FFT</text>
  <text class="tiny" x="490.4" y="155.3" fill="#e8e8e8" font-size="5.4">4 x 4</text>
  <text class="tiny" x="490.8" y="161" fill="#e0a010" font-size="5.4">1 x 1</text>
</g>
<!-- molecule/vdW STM image -->
<g id="img-mol">
<defs>
<clipPath id="cMol"><rect x="681.0" y="389.8" width="113.0" height="74.0"/></clipPath>
<filter id="fMol" x="-0.1" y="-0.1" width="1.2" height="1.2"><feGaussianBlur stdDeviation="1.25"/></filter>
<filter id="fMol2" x="-0.1" y="-0.1" width="1.2" height="1.2"><feGaussianBlur stdDeviation="1.1"/></filter>
<radialGradient id="gSpot"><stop offset="0" stop-color="#fff"/><stop offset="0.45" stop-color="#fff6d8"/><stop offset="0.75" stop-color="#f6c060" stop-opacity="0.9"/><stop offset="1" stop-color="#e08a30" stop-opacity="0"/></radialGradient>
</defs>
<rect x="681.0" y="389.8" width="113.0" height="74.0" fill="#ae4a0c"/>
<g clip-path="url(#cMol)">
<g filter="url(#fMol)">
<g fill="#691a02">
<circle cx="681.9" cy="405.9" r="2.9"/>
<circle cx="682.8" cy="395.4" r="2.7"/>
<circle cx="692.1" cy="392.3" r="2.6"/>
<circle cx="680.3" cy="435.8" r="2.9"/>
<circle cx="681.7" cy="425.7" r="2.9"/>
<circle cx="690.7" cy="424.0" r="2.8"/>
<circle cx="691.0" cy="413.9" r="3.1"/>
<circle cx="700.8" cy="410.4" r="2.6"/>
<circle cx="700.4" cy="400.3" r="2.7"/>
<circle cx="709.8" cy="398.0" r="3.3"/>
<circle cx="710.5" cy="387.7" r="3.1"/>
<circle cx="678.8" cy="466.5" r="2.7"/>
<circle cx="679.7" cy="456.5" r="3.1"/>
<circle cx="689.0" cy="453.8" r="3.1"/>
<circle cx="689.8" cy="443.6" r="3.2"/>
<circle cx="698.9" cy="441.7" r="3.1"/>
<circle cx="699.1" cy="431.7" r="3.2"/>
<circle cx="708.6" cy="428.8" r="2.7"/>
<circle cx="709.2" cy="417.7" r="2.7"/>
<circle cx="718.8" cy="415.7" r="3.1"/>
<circle cx="718.7" cy="405.7" r="3.3"/>
<circle cx="728.4" cy="402.8" r="3.1"/>
<circle cx="729.3" cy="392.6" r="3.3"/>
<circle cx="737.5" cy="390.3" r="3.1"/>
<circle cx="698.5" cy="462.1" r="3.1"/>
<circle cx="707.0" cy="459.3" r="2.8"/>
<circle cx="707.6" cy="448.5" r="2.6"/>
<circle cx="716.4" cy="446.6" r="2.7"/>
<circle cx="717.2" cy="435.9" r="2.7"/>
<circle cx="726.2" cy="433.4" r="3.3"/>
<circle cx="727.7" cy="423.6" r="3.0"/>
<circle cx="736.3" cy="420.5" r="3.3"/>
<circle cx="737.5" cy="411.0" r="2.9"/>
<circle cx="746.0" cy="407.5" r="2.7"/>
<circle cx="746.8" cy="397.7" r="2.8"/>
<circle cx="755.5" cy="394.9" r="2.8"/>
<circle cx="716.0" cy="467.2" r="2.9"/>
<circle cx="725.3" cy="464.2" r="3.2"/>
<circle cx="725.2" cy="454.3" r="3.1"/>
<circle cx="735.5" cy="451.6" r="3.2"/>
<circle cx="735.4" cy="440.5" r="2.9"/>
<circle cx="744.3" cy="437.9" r="3.1"/>
<circle cx="744.9" cy="428.0" r="2.8"/>
<circle cx="754.0" cy="425.2" r="2.6"/>
<circle cx="755.0" cy="414.8" r="2.7"/>
<circle cx="764.6" cy="412.4" r="3.3"/>
<circle cx="764.7" cy="402.4" r="2.8"/>
<circle cx="774.6" cy="400.6" r="2.7"/>
<circle cx="774.7" cy="389.3" r="3.0"/>
<circle cx="783.8" cy="386.9" r="2.7"/>
<circle cx="743.4" cy="458.2" r="3.3"/>
<circle cx="753.2" cy="455.8" r="3.4"/>
<circle cx="753.1" cy="446.0" r="3.0"/>
<circle cx="763.4" cy="443.6" r="3.4"/>
<circle cx="763.3" cy="432.8" r="2.8"/>
<circle cx="772.8" cy="430.9" r="3.2"/>
<circle cx="772.9" cy="420.8" r="2.9"/>
<circle cx="782.9" cy="418.1" r="3.4"/>
<circle cx="783.3" cy="407.2" r="3.3"/>
<circle cx="792.1" cy="404.4" r="3.0"/>
<circle cx="792.5" cy="394.5" r="2.6"/>
<circle cx="762.5" cy="463.7" r="3.2"/>
<circle cx="771.8" cy="461.7" r="3.3"/>
<circle cx="771.4" cy="450.6" r="2.9"/>
<circle cx="780.6" cy="448.5" r="2.8"/>
<circle cx="781.9" cy="438.1" r="3.3"/>
<circle cx="791.2" cy="435.0" r="3.1"/>
<circle cx="791.8" cy="425.7" r="3.1"/>
<circle cx="789.3" cy="465.8" r="3.2"/>
<circle cx="789.6" cy="456.3" r="3.2"/>
</g>
<g fill="#f7bd66">
<circle cx="683.2" cy="385.2" r="4.2"/>
<circle cx="682.1" cy="415.4" r="4.2"/>
<circle cx="691.1" cy="403.7" r="3.4"/>
<circle cx="700.9" cy="390.7" r="4.0"/>
<circle cx="680.5" cy="446.3" r="4.2"/>
<circle cx="689.6" cy="433.0" r="3.8"/>
<circle cx="700.1" cy="420.9" r="4.2"/>
<circle cx="709.6" cy="408.6" r="4.1"/>
<circle cx="719.1" cy="394.9" r="4.0"/>
<circle cx="688.2" cy="464.4" r="3.6"/>
<circle cx="698.3" cy="451.0" r="3.5"/>
<circle cx="708.0" cy="438.6" r="4.1"/>
<circle cx="718.5" cy="425.7" r="3.8"/>
<circle cx="727.8" cy="413.1" r="4.1"/>
<circle cx="736.9" cy="400.2" r="3.8"/>
<circle cx="746.7" cy="387.8" r="3.5"/>
<circle cx="706.6" cy="469.6" r="3.5"/>
<circle cx="716.2" cy="456.5" r="3.8"/>
<circle cx="726.6" cy="443.1" r="3.8"/>
<circle cx="735.7" cy="430.5" r="3.8"/>
<circle cx="745.9" cy="418.1" r="4.0"/>
<circle cx="756.2" cy="405.1" r="4.0"/>
<circle cx="765.4" cy="392.4" r="3.9"/>
<circle cx="734.5" cy="461.5" r="3.9"/>
<circle cx="745.0" cy="448.9" r="3.7"/>
<circle cx="754.7" cy="435.5" r="4.1"/>
<circle cx="764.5" cy="423.5" r="3.8"/>
<circle cx="773.2" cy="410.1" r="3.4"/>
<circle cx="783.1" cy="396.8" r="3.4"/>
<circle cx="793.7" cy="385.1" r="3.9"/>
<circle cx="752.9" cy="466.6" r="3.4"/>
<circle cx="763.0" cy="454.2" r="3.4"/>
<circle cx="772.8" cy="440.6" r="3.5"/>
<circle cx="782.7" cy="428.4" r="3.7"/>
<circle cx="791.7" cy="415.2" r="3.4"/>
<circle cx="780.1" cy="458.3" r="3.6"/>
<circle cx="789.6" cy="445.8" r="3.9"/>
<circle cx="797.9" cy="463.3" r="3.7"/>
</g>
</g>
<circle cx="700.6" cy="422.4" r="7.6" fill="url(#gSpot)"/>
<circle cx="736.0" cy="431.7" r="7.6" fill="url(#gSpot)"/>
<circle cx="751.9" cy="452.5" r="7.6" fill="url(#gSpot)"/>
<circle cx="792.6" cy="397.8" r="6.5" fill="url(#gSpot)"/>
<line x1="681.0" y1="460.4" x2="794.0" y2="460.4" stroke="#8a7a5a" stroke-width="0.5" stroke-dasharray="5 3 2 6" opacity="0.7"/>
</g>
<circle cx="700.9" cy="422.1" r="11.3" fill="none" stroke="#f0e800" stroke-width="1.3"/>
<circle cx="735.9" cy="431.7" r="11.3" fill="none" stroke="#f0e800" stroke-width="1.3"/>
<circle cx="752.6" cy="452.5" r="11.3" fill="none" stroke="#f0e800" stroke-width="1.3"/>
</g>
<!-- vdW/vdW interface illustration -->
<g id="img-vdw">
<defs>
<clipPath id="cVdw"><rect x="383.9" y="386.0" width="114.1" height="79.8"/></clipPath>
<linearGradient id="gVdwBg" x1="0" y1="0" x2="0" y2="1"><stop offset="0" stop-color="#8d98aa"/><stop offset="0.25" stop-color="#5f7fc4"/><stop offset="0.42" stop-color="#3a78e0"/><stop offset="0.5" stop-color="#48c8f0"/><stop offset="0.56" stop-color="#2a50d0"/><stop offset="0.72" stop-color="#3a4cc0"/><stop offset="0.8" stop-color="#b4bac8"/><stop offset="1" stop-color="#d0d2d6"/></linearGradient>
<radialGradient id="gBall" cx="0.42" cy="0.3" r="0.75"><stop offset="0" stop-color="#86a8ff"/><stop offset="0.55" stop-color="#3054e4"/><stop offset="1" stop-color="#1a2ea4"/></radialGradient>
<radialGradient id="gBallT" cx="0.45" cy="0.45" r="0.7"><stop offset="0" stop-color="#5fb4ff"/><stop offset="0.6" stop-color="#1f7cea"/><stop offset="1" stop-color="#1554b4"/></radialGradient>
<radialGradient id="gBallO" cx="0.45" cy="0.45" r="0.7"><stop offset="0" stop-color="#ffc860"/><stop offset="0.7" stop-color="#e69a1c"/><stop offset="1" stop-color="#a86a10"/></radialGradient>
<radialGradient id="gBallG" cx="0.42" cy="0.32" r="0.75"><stop offset="0" stop-color="#86ea90"/><stop offset="0.55" stop-color="#22b43c"/><stop offset="1" stop-color="#0f7a24"/></radialGradient>
<radialGradient id="gGlow"><stop offset="0" stop-color="#fff"/><stop offset="0.55" stop-color="#fff"/><stop offset="0.8" stop-color="#c4faff" stop-opacity="0.9"/><stop offset="1" stop-color="#40dcf2" stop-opacity="0"/></radialGradient>
<filter id="fV1" x="-0.1" y="-0.1" width="1.2" height="1.2"><feGaussianBlur stdDeviation="0.4"/></filter>
<filter id="fV2" x="-0.3" y="-0.8" width="1.6" height="2.6"><feGaussianBlur stdDeviation="1.5"/></filter>
</defs>
<rect x="383.9" y="386.0" width="114.1" height="79.8" fill="url(#gVdwBg)"/>
<g clip-path="url(#cVdw)">
<g transform="rotate(-2.6 438.8 422.6)">
<g filter="url(#fV1)" stroke-width="1.5">
<line x1="434.8" y1="416.6" x2="408.8" y2="381.0" stroke="#f0f0f0"/>
<line x1="430.4" y1="416.5" x2="404.4" y2="381.0" stroke="#1c1f26"/>
<line x1="426.0" y1="416.3" x2="400.0" y2="381.0" stroke="#c4c6cc"/>
<line x1="421.6" y1="416.2" x2="395.6" y2="381.0" stroke="#50545e"/>
<line x1="417.2" y1="416.0" x2="391.2" y2="381.0" stroke="#f0f0f0"/>
<line x1="412.8" y1="415.9" x2="386.8" y2="381.0" stroke="#1c1f26"/>
<line x1="408.4" y1="415.7" x2="382.4" y2="381.0" stroke="#c4c6cc"/>
<line x1="404.0" y1="415.6" x2="378.0" y2="381.0" stroke="#50545e"/>
<line x1="399.6" y1="415.4" x2="373.6" y2="381.0" stroke="#f0f0f0"/>
<line x1="395.2" y1="415.2" x2="369.2" y2="381.0" stroke="#1c1f26"/>
<line x1="390.8" y1="415.1" x2="364.8" y2="381.0" stroke="#c4c6cc"/>
<line x1="386.4" y1="415.0" x2="360.4" y2="381.0" stroke="#50545e"/>
<line x1="382.0" y1="414.8" x2="356.0" y2="381.0" stroke="#f0f0f0"/>
<line x1="377.6" y1="414.7" x2="351.6" y2="381.0" stroke="#1c1f26"/>
<line x1="373.2" y1="414.5" x2="347.2" y2="381.0" stroke="#c4c6cc"/>
<line x1="368.8" y1="414.4" x2="342.8" y2="381.0" stroke="#50545e"/>
<line x1="364.4" y1="414.2" x2="338.4" y2="381.0" stroke="#f0f0f0"/>
<line x1="360.0" y1="414.1" x2="334.0" y2="381.0" stroke="#1c1f26"/>
<line x1="355.6" y1="413.9" x2="329.6" y2="381.0" stroke="#c4c6cc"/>
<line x1="351.2" y1="413.8" x2="325.2" y2="381.0" stroke="#50545e"/>
<line x1="346.8" y1="413.6" x2="320.8" y2="381.0" stroke="#f0f0f0"/>
<line x1="342.4" y1="413.5" x2="316.4" y2="381.0" stroke="#1c1f26"/>
<line x1="338.0" y1="413.3" x2="312.0" y2="381.0" stroke="#c4c6cc"/>
<line x1="333.6" y1="413.2" x2="307.6" y2="381.0" stroke="#50545e"/>
<line x1="329.2" y1="413.0" x2="303.2" y2="381.0" stroke="#f0f0f0"/>
<line x1="324.8" y1="412.9" x2="298.8" y2="381.0" stroke="#1c1f26"/>
<line x1="320.4" y1="412.7" x2="294.4" y2="381.0" stroke="#c4c6cc"/>
<line x1="316.0" y1="412.6" x2="290.0" y2="381.0" stroke="#50545e"/>
<line x1="311.6" y1="412.4" x2="285.6" y2="381.0" stroke="#f0f0f0"/>
<line x1="307.2" y1="412.2" x2="281.2" y2="381.0" stroke="#1c1f26"/>
<line x1="302.8" y1="412.1" x2="276.8" y2="381.0" stroke="#c4c6cc"/>
<line x1="298.4" y1="412.0" x2="272.4" y2="381.0" stroke="#50545e"/>
<line x1="294.0" y1="411.8" x2="268.0" y2="381.0" stroke="#f0f0f0"/>
<line x1="289.6" y1="411.7" x2="263.6" y2="381.0" stroke="#1c1f26"/>
<line x1="442.8" y1="416.6" x2="468.8" y2="381.0" stroke="#f0f0f0"/>
<line x1="447.2" y1="416.5" x2="473.2" y2="381.0" stroke="#1c1f26"/>
<line x1="451.6" y1="416.3" x2="477.6" y2="381.0" stroke="#c4c6cc"/>
<line x1="456.0" y1="416.2" x2="482.0" y2="381.0" stroke="#50545e"/>
<line x1="460.4" y1="416.0" x2="486.4" y2="381.0" stroke="#f0f0f0"/>
<line x1="464.8" y1="415.9" x2="490.8" y2="381.0" stroke="#1c1f26"/>
<line x1="469.2" y1="415.7" x2="495.2" y2="381.0" stroke="#c4c6cc"/>
<line x1="473.6" y1="415.6" x2="499.6" y2="381.0" stroke="#50545e"/>
<line x1="478.0" y1="415.4" x2="504.0" y2="381.0" stroke="#f0f0f0"/>
<line x1="482.4" y1="415.2" x2="508.4" y2="381.0" stroke="#1c1f26"/>
<line x1="486.8" y1="415.1" x2="512.8" y2="381.0" stroke="#c4c6cc"/>
<line x1="491.2" y1="415.0" x2="517.2" y2="381.0" stroke="#50545e"/>
<line x1="495.6" y1="414.8" x2="521.6" y2="381.0" stroke="#f0f0f0"/>
<line x1="500.0" y1="414.7" x2="526.0" y2="381.0" stroke="#1c1f26"/>
<line x1="504.4" y1="414.5" x2="530.4" y2="381.0" stroke="#c4c6cc"/>
<line x1="508.8" y1="414.4" x2="534.8" y2="381.0" stroke="#50545e"/>
<line x1="513.2" y1="414.2" x2="539.2" y2="381.0" stroke="#f0f0f0"/>
<line x1="517.6" y1="414.1" x2="543.6" y2="381.0" stroke="#1c1f26"/>
<line x1="522.0" y1="413.9" x2="548.0" y2="381.0" stroke="#c4c6cc"/>
<line x1="526.4" y1="413.8" x2="552.4" y2="381.0" stroke="#50545e"/>
<line x1="530.8" y1="413.6" x2="556.8" y2="381.0" stroke="#f0f0f0"/>
<line x1="535.2" y1="413.5" x2="561.2" y2="381.0" stroke="#1c1f26"/>
<line x1="539.6" y1="413.3" x2="565.6" y2="381.0" stroke="#c4c6cc"/>
<line x1="544.0" y1="413.2" x2="570.0" y2="381.0" stroke="#50545e"/>
<line x1="548.4" y1="413.0" x2="574.4" y2="381.0" stroke="#f0f0f0"/>
<line x1="552.8" y1="412.9" x2="578.8" y2="381.0" stroke="#1c1f26"/>
<line x1="557.2" y1="412.7" x2="583.2" y2="381.0" stroke="#c4c6cc"/>
<line x1="561.6" y1="412.6" x2="587.6" y2="381.0" stroke="#50545e"/>
<line x1="566.0" y1="412.4" x2="592.0" y2="381.0" stroke="#f0f0f0"/>
<line x1="570.4" y1="412.2" x2="596.4" y2="381.0" stroke="#1c1f26"/>
<line x1="574.8" y1="412.1" x2="600.8" y2="381.0" stroke="#c4c6cc"/>
<line x1="579.2" y1="412.0" x2="605.2" y2="381.0" stroke="#50545e"/>
<line x1="583.6" y1="411.8" x2="609.6" y2="381.0" stroke="#f0f0f0"/>
<line x1="588.0" y1="411.7" x2="614.0" y2="381.0" stroke="#1c1f26"/>
</g>
<circle cx="400.5" cy="414.6" r="0.49" fill="url(#gBallO)"/>
<circle cx="395.9" cy="413.6" r="0.55" fill="url(#gBallO)"/>
<circle cx="390.7" cy="412.5" r="0.61" fill="url(#gBallO)"/>
<circle cx="385.0" cy="411.3" r="0.68" fill="url(#gBallO)"/>
<circle cx="378.5" cy="410.0" r="0.77" fill="url(#gBallO)"/>
<circle cx="404.8" cy="414.6" r="0.49" fill="url(#gBallO)"/>
<circle cx="400.8" cy="413.6" r="0.55" fill="url(#gBallO)"/>
<circle cx="396.2" cy="412.5" r="0.61" fill="url(#gBallO)"/>
<circle cx="391.1" cy="411.3" r="0.68" fill="url(#gBallO)"/>
<circle cx="385.4" cy="410.0" r="0.77" fill="url(#gBallO)"/>
<circle cx="379.0" cy="408.4" r="0.86" fill="url(#gBallO)"/>
<circle cx="409.2" cy="414.6" r="0.49" fill="url(#gBallO)"/>
<circle cx="405.7" cy="413.6" r="0.55" fill="url(#gBallO)"/>
<circle cx="401.7" cy="412.5" r="0.61" fill="url(#gBallO)"/>
<circle cx="397.2" cy="411.3" r="0.68" fill="url(#gBallO)"/>
<circle cx="392.2" cy="410.0" r="0.77" fill="url(#gBallO)"/>
<circle cx="386.7" cy="408.4" r="0.86" fill="url(#gBallO)"/>
<circle cx="380.4" cy="406.7" r="0.96" fill="url(#gBallO)"/>
<circle cx="413.6" cy="414.6" r="0.49" fill="url(#gBallO)"/>
<circle cx="410.5" cy="413.6" r="0.55" fill="url(#gBallO)"/>
<circle cx="407.2" cy="412.5" r="0.61" fill="url(#gBallO)"/>
<circle cx="403.4" cy="411.3" r="0.68" fill="url(#gBallO)"/>
<circle cx="399.1" cy="410.0" r="0.77" fill="url(#gBallO)"/>
<circle cx="394.3" cy="408.4" r="0.86" fill="url(#gBallO)"/>
<circle cx="389.0" cy="406.7" r="0.96" fill="url(#gBallO)"/>
<circle cx="383.0" cy="404.8" r="1.08" fill="url(#gBallO)"/>
<circle cx="376.3" cy="402.7" r="1.21" fill="url(#gBallO)"/>
<circle cx="417.9" cy="414.6" r="0.49" fill="url(#gBallO)"/>
<circle cx="415.4" cy="413.6" r="0.55" fill="url(#gBallO)"/>
<circle cx="412.6" cy="412.5" r="0.61" fill="url(#gBallO)"/>
<circle cx="409.5" cy="411.3" r="0.68" fill="url(#gBallO)"/>
<circle cx="406.0" cy="410.0" r="0.77" fill="url(#gBallO)"/>
<circle cx="402.0" cy="408.4" r="0.86" fill="url(#gBallO)"/>
<circle cx="397.6" cy="406.7" r="0.96" fill="url(#gBallO)"/>
<circle cx="392.7" cy="404.8" r="1.08" fill="url(#gBallO)"/>
<circle cx="387.1" cy="402.7" r="1.21" fill="url(#gBallO)"/>
<circle cx="380.9" cy="400.3" r="1.35" fill="url(#gBallO)"/>
<circle cx="422.3" cy="414.6" r="0.49" fill="url(#gBallO)"/>
<circle cx="420.3" cy="413.6" r="0.55" fill="url(#gBallO)"/>
<circle cx="418.1" cy="412.5" r="0.61" fill="url(#gBallO)"/>
<circle cx="415.6" cy="411.3" r="0.68" fill="url(#gBallO)"/>
<circle cx="412.8" cy="410.0" r="0.77" fill="url(#gBallO)"/>
<circle cx="409.7" cy="408.4" r="0.86" fill="url(#gBallO)"/>
<circle cx="406.2" cy="406.7" r="0.96" fill="url(#gBallO)"/>
<circle cx="402.3" cy="404.8" r="1.08" fill="url(#gBallO)"/>
<circle cx="398.0" cy="402.7" r="1.21" fill="url(#gBallO)"/>
<circle cx="393.1" cy="400.3" r="1.35" fill="url(#gBallO)"/>
<circle cx="387.6" cy="397.6" r="1.51" fill="url(#gBallO)"/>
<circle cx="381.4" cy="394.6" r="1.69" fill="url(#gBallO)"/>
<circle cx="426.7" cy="414.6" r="0.49" fill="url(#gBallO)"/>
<circle cx="425.2" cy="413.6" r="0.55" fill="url(#gBallO)"/>
<circle cx="423.6" cy="412.5" r="0.61" fill="url(#gBallO)"/>
<circle cx="421.8" cy="411.3" r="0.68" fill="url(#gBallO)"/>
<circle cx="419.7" cy="410.0" r="0.77" fill="url(#gBallO)"/>
<circle cx="417.4" cy="408.4" r="0.86" fill="url(#gBallO)"/>
<circle cx="414.9" cy="406.7" r="0.96" fill="url(#gBallO)"/>
<circle cx="412.0" cy="404.8" r="1.08" fill="url(#gBallO)"/>
<circle cx="408.8" cy="402.7" r="1.21" fill="url(#gBallO)"/>
<circle cx="405.2" cy="400.3" r="1.35" fill="url(#gBallO)"/>
<circle cx="401.1" cy="397.6" r="1.51" fill="url(#gBallO)"/>
<circle cx="396.6" cy="394.6" r="1.69" fill="url(#gBallO)"/>
<circle cx="391.5" cy="391.3" r="1.90" fill="url(#gBallO)"/>
<circle cx="385.9" cy="387.5" r="2.13" fill="url(#gBallO)"/>
<circle cx="379.5" cy="383.3" r="2.38" fill="url(#gBallO)"/>
<circle cx="431.0" cy="414.6" r="0.49" fill="url(#gBallO)"/>
<circle cx="430.1" cy="413.6" r="0.55" fill="url(#gBallO)"/>
<circle cx="429.1" cy="412.5" r="0.61" fill="url(#gBallO)"/>
<circle cx="427.9" cy="411.3" r="0.68" fill="url(#gBallO)"/>
<circle cx="426.6" cy="410.0" r="0.77" fill="url(#gBallO)"/>
<circle cx="425.1" cy="408.4" r="0.86" fill="url(#gBallO)"/>
<circle cx="423.5" cy="406.7" r="0.96" fill="url(#gBallO)"/>
<circle cx="421.6" cy="404.8" r="1.08" fill="url(#gBallO)"/>
<circle cx="419.6" cy="402.7" r="1.21" fill="url(#gBallO)"/>
<circle cx="417.3" cy="400.3" r="1.35" fill="url(#gBallO)"/>
<circle cx="414.7" cy="397.6" r="1.51" fill="url(#gBallO)"/>
<circle cx="411.8" cy="394.6" r="1.69" fill="url(#gBallO)"/>
<circle cx="408.5" cy="391.3" r="1.90" fill="url(#gBallO)"/>
<circle cx="404.9" cy="387.5" r="2.13" fill="url(#gBallO)"/>
<circle cx="400.8" cy="383.3" r="2.38" fill="url(#gBallO)"/>
<circle cx="396.3" cy="378.6" r="2.67" fill="url(#gBallO)"/>
<circle cx="435.4" cy="414.6" r="0.49" fill="url(#gBallO)"/>
<circle cx="435.0" cy="413.6" r="0.55" fill="url(#gBallO)"/>
<circle cx="434.5" cy="412.5" r="0.61" fill="url(#gBallO)"/>
<circle cx="434.0" cy="411.3" r="0.68" fill="url(#gBallO)"/>
<circle cx="433.4" cy="410.0" r="0.77" fill="url(#gBallO)"/>
<circle cx="432.8" cy="408.4" r="0.86" fill="url(#gBallO)"/>
<circle cx="432.1" cy="406.7" r="0.96" fill="url(#gBallO)"/>
<circle cx="431.3" cy="404.8" r="1.08" fill="url(#gBallO)"/>
<circle cx="430.4" cy="402.7" r="1.21" fill="url(#gBallO)"/>
<circle cx="429.4" cy="400.3" r="1.35" fill="url(#gBallO)"/>
<circle cx="428.2" cy="397.6" r="1.51" fill="url(#gBallO)"/>
<circle cx="427.0" cy="394.6" r="1.69" fill="url(#gBallO)"/>
<circle cx="425.5" cy="391.3" r="1.90" fill="url(#gBallO)"/>
<circle cx="423.9" cy="387.5" r="2.13" fill="url(#gBallO)"/>
<circle cx="422.2" cy="383.3" r="2.38" fill="url(#gBallO)"/>
<circle cx="420.2" cy="378.6" r="2.67" fill="url(#gBallO)"/>
<circle cx="439.8" cy="414.6" r="0.49" fill="url(#gBallO)"/>
<circle cx="439.9" cy="413.6" r="0.55" fill="url(#gBallO)"/>
<circle cx="440.0" cy="412.5" r="0.61" fill="url(#gBallO)"/>
<circle cx="440.1" cy="411.3" r="0.68" fill="url(#gBallO)"/>
<circle cx="440.3" cy="410.0" r="0.77" fill="url(#gBallO)"/>
<circle cx="440.5" cy="408.4" r="0.86" fill="url(#gBallO)"/>
<circle cx="440.7" cy="406.7" r="0.96" fill="url(#gBallO)"/>
<circle cx="440.9" cy="404.8" r="1.08" fill="url(#gBallO)"/>
<circle cx="441.2" cy="402.7" r="1.21" fill="url(#gBallO)"/>
<circle cx="441.5" cy="400.3" r="1.35" fill="url(#gBallO)"/>
<circle cx="441.8" cy="397.6" r="1.51" fill="url(#gBallO)"/>
<circle cx="442.1" cy="394.6" r="1.69" fill="url(#gBallO)"/>
<circle cx="442.5" cy="391.3" r="1.90" fill="url(#gBallO)"/>
<circle cx="443.0" cy="387.5" r="2.13" fill="url(#gBallO)"/>
<circle cx="443.5" cy="383.3" r="2.38" fill="url(#gBallO)"/>
<circle cx="444.1" cy="378.6" r="2.67" fill="url(#gBallO)"/>
<circle cx="444.1" cy="414.6" r="0.49" fill="url(#gBallO)"/>
<circle cx="444.8" cy="413.6" r="0.55" fill="url(#gBallO)"/>
<circle cx="445.5" cy="412.5" r="0.61" fill="url(#gBallO)"/>
<circle cx="446.3" cy="411.3" r="0.68" fill="url(#gBallO)"/>
<circle cx="447.2" cy="410.0" r="0.77" fill="url(#gBallO)"/>
<circle cx="448.2" cy="408.4" r="0.86" fill="url(#gBallO)"/>
<circle cx="449.3" cy="406.7" r="0.96" fill="url(#gBallO)"/>
<circle cx="450.6" cy="404.8" r="1.08" fill="url(#gBallO)"/>
<circle cx="452.0" cy="402.7" r="1.21" fill="url(#gBallO)"/>
<circle cx="453.6" cy="400.3" r="1.35" fill="url(#gBallO)"/>
<circle cx="455.3" cy="397.6" r="1.51" fill="url(#gBallO)"/>
<circle cx="457.3" cy="394.6" r="1.69" fill="url(#gBallO)"/>
<circle cx="459.5" cy="391.3" r="1.90" fill="url(#gBallO)"/>
<circle cx="462.0" cy="387.5" r="2.13" fill="url(#gBallO)"/>
<circle cx="464.8" cy="383.3" r="2.38" fill="url(#gBallO)"/>
<circle cx="467.9" cy="378.6" r="2.67" fill="url(#gBallO)"/>
<circle cx="448.5" cy="414.6" r="0.49" fill="url(#gBallO)"/>
<circle cx="449.7" cy="413.6" r="0.55" fill="url(#gBallO)"/>
<circle cx="451.0" cy="412.5" r="0.61" fill="url(#gBallO)"/>
<circle cx="452.4" cy="411.3" r="0.68" fill="url(#gBallO)"/>
<circle cx="454.0" cy="410.0" r="0.77" fill="url(#gBallO)"/>
<circle cx="455.9" cy="408.4" r="0.86" fill="url(#gBallO)"/>
<circle cx="457.9" cy="406.7" r="0.96" fill="url(#gBallO)"/>
<circle cx="460.2" cy="404.8" r="1.08" fill="url(#gBallO)"/>
<circle cx="462.8" cy="402.7" r="1.21" fill="url(#gBallO)"/>
<circle cx="465.7" cy="400.3" r="1.35" fill="url(#gBallO)"/>
<circle cx="468.9" cy="397.6" r="1.51" fill="url(#gBallO)"/>
<circle cx="472.5" cy="394.6" r="1.69" fill="url(#gBallO)"/>
<circle cx="476.5" cy="391.3" r="1.90" fill="url(#gBallO)"/>
<circle cx="481.1" cy="387.5" r="2.13" fill="url(#gBallO)"/>
<circle cx="486.2" cy="383.3" r="2.38" fill="url(#gBallO)"/>
<circle cx="491.8" cy="378.6" r="2.67" fill="url(#gBallO)"/>
<circle cx="452.9" cy="414.6" r="0.49" fill="url(#gBallO)"/>
<circle cx="454.5" cy="413.6" r="0.55" fill="url(#gBallO)"/>
<circle cx="456.4" cy="412.5" r="0.61" fill="url(#gBallO)"/>
<circle cx="458.5" cy="411.3" r="0.68" fill="url(#gBallO)"/>
<circle cx="460.9" cy="410.0" r="0.77" fill="url(#gBallO)"/>
<circle cx="463.6" cy="408.4" r="0.86" fill="url(#gBallO)"/>
<circle cx="466.5" cy="406.7" r="0.96" fill="url(#gBallO)"/>
<circle cx="469.9" cy="404.8" r="1.08" fill="url(#gBallO)"/>
<circle cx="473.6" cy="402.7" r="1.21" fill="url(#gBallO)"/>
<circle cx="477.8" cy="400.3" r="1.35" fill="url(#gBallO)"/>
<circle cx="482.4" cy="397.6" r="1.51" fill="url(#gBallO)"/>
<circle cx="487.7" cy="394.6" r="1.69" fill="url(#gBallO)"/>
<circle cx="493.6" cy="391.3" r="1.90" fill="url(#gBallO)"/>
<circle cx="500.1" cy="387.5" r="2.13" fill="url(#gBallO)"/>
<circle cx="457.2" cy="414.6" r="0.49" fill="url(#gBallO)"/>
<circle cx="459.4" cy="413.6" r="0.55" fill="url(#gBallO)"/>
<circle cx="461.9" cy="412.5" r="0.61" fill="url(#gBallO)"/>
<circle cx="464.7" cy="411.3" r="0.68" fill="url(#gBallO)"/>
<circle cx="467.8" cy="410.0" r="0.77" fill="url(#gBallO)"/>
<circle cx="471.3" cy="408.4" r="0.86" fill="url(#gBallO)"/>
<circle cx="475.2" cy="406.7" r="0.96" fill="url(#gBallO)"/>
<circle cx="479.5" cy="404.8" r="1.08" fill="url(#gBallO)"/>
<circle cx="484.4" cy="402.7" r="1.21" fill="url(#gBallO)"/>
<circle cx="489.9" cy="400.3" r="1.35" fill="url(#gBallO)"/>
<circle cx="496.0" cy="397.6" r="1.51" fill="url(#gBallO)"/>
<circle cx="502.9" cy="394.6" r="1.69" fill="url(#gBallO)"/>
<circle cx="461.6" cy="414.6" r="0.49" fill="url(#gBallO)"/>
<circle cx="464.3" cy="413.6" r="0.55" fill="url(#gBallO)"/>
<circle cx="467.4" cy="412.5" r="0.61" fill="url(#gBallO)"/>
<circle cx="470.8" cy="411.3" r="0.68" fill="url(#gBallO)"/>
<circle cx="474.6" cy="410.0" r="0.77" fill="url(#gBallO)"/>
<circle cx="479.0" cy="408.4" r="0.86" fill="url(#gBallO)"/>
<circle cx="483.8" cy="406.7" r="0.96" fill="url(#gBallO)"/>
<circle cx="489.2" cy="404.8" r="1.08" fill="url(#gBallO)"/>
<circle cx="495.2" cy="402.7" r="1.21" fill="url(#gBallO)"/>
<circle cx="502.0" cy="400.3" r="1.35" fill="url(#gBallO)"/>
<circle cx="465.9" cy="414.6" r="0.49" fill="url(#gBallO)"/>
<circle cx="469.2" cy="413.6" r="0.55" fill="url(#gBallO)"/>
<circle cx="472.9" cy="412.5" r="0.61" fill="url(#gBallO)"/>
<circle cx="476.9" cy="411.3" r="0.68" fill="url(#gBallO)"/>
<circle cx="481.5" cy="410.0" r="0.77" fill="url(#gBallO)"/>
<circle cx="486.6" cy="408.4" r="0.86" fill="url(#gBallO)"/>
<circle cx="492.4" cy="406.7" r="0.96" fill="url(#gBallO)"/>
<circle cx="498.8" cy="404.8" r="1.08" fill="url(#gBallO)"/>
<circle cx="470.3" cy="414.6" r="0.49" fill="url(#gBallO)"/>
<circle cx="474.1" cy="413.6" r="0.55" fill="url(#gBallO)"/>
<circle cx="478.3" cy="412.5" r="0.61" fill="url(#gBallO)"/>
<circle cx="483.1" cy="411.3" r="0.68" fill="url(#gBallO)"/>
<circle cx="488.4" cy="410.0" r="0.77" fill="url(#gBallO)"/>
<circle cx="494.3" cy="408.4" r="0.86" fill="url(#gBallO)"/>
<circle cx="501.0" cy="406.7" r="0.96" fill="url(#gBallO)"/>
<circle cx="474.7" cy="414.6" r="0.49" fill="url(#gBallO)"/>
<circle cx="479.0" cy="413.6" r="0.55" fill="url(#gBallO)"/>
<circle cx="483.8" cy="412.5" r="0.61" fill="url(#gBallO)"/>
<circle cx="489.2" cy="411.3" r="0.68" fill="url(#gBallO)"/>
<circle cx="495.3" cy="410.0" r="0.77" fill="url(#gBallO)"/>
<circle cx="502.0" cy="408.4" r="0.86" fill="url(#gBallO)"/>
<circle cx="479.0" cy="414.6" r="0.49" fill="url(#gBallO)"/>
<circle cx="483.9" cy="413.6" r="0.55" fill="url(#gBallO)"/>
<circle cx="489.3" cy="412.5" r="0.61" fill="url(#gBallO)"/>
<circle cx="495.3" cy="411.3" r="0.68" fill="url(#gBallO)"/>
<circle cx="502.1" cy="410.0" r="0.77" fill="url(#gBallO)"/>
<circle cx="399.8" cy="417.7" r="0.46" fill="url(#gBallT)"/>
<circle cx="395.5" cy="417.1" r="0.51" fill="url(#gBallT)"/>
<circle cx="390.7" cy="416.5" r="0.57" fill="url(#gBallT)"/>
<circle cx="385.4" cy="415.9" r="0.63" fill="url(#gBallT)"/>
<circle cx="379.5" cy="415.1" r="0.70" fill="url(#gBallT)"/>
<circle cx="402.9" cy="417.7" r="0.46" fill="url(#gBallT)"/>
<circle cx="399.0" cy="417.1" r="0.51" fill="url(#gBallT)"/>
<circle cx="394.6" cy="416.5" r="0.57" fill="url(#gBallT)"/>
<circle cx="389.7" cy="415.9" r="0.63" fill="url(#gBallT)"/>
<circle cx="384.3" cy="415.1" r="0.70" fill="url(#gBallT)"/>
<circle cx="378.4" cy="414.3" r="0.77" fill="url(#gBallT)"/>
<circle cx="406.1" cy="417.7" r="0.46" fill="url(#gBallT)"/>
<circle cx="402.5" cy="417.1" r="0.51" fill="url(#gBallT)"/>
<circle cx="398.5" cy="416.5" r="0.57" fill="url(#gBallT)"/>
<circle cx="394.1" cy="415.9" r="0.63" fill="url(#gBallT)"/>
<circle cx="389.2" cy="415.1" r="0.70" fill="url(#gBallT)"/>
<circle cx="383.7" cy="414.3" r="0.77" fill="url(#gBallT)"/>
<circle cx="377.6" cy="413.4" r="0.86" fill="url(#gBallT)"/>
<circle cx="409.3" cy="417.7" r="0.46" fill="url(#gBallT)"/>
<circle cx="406.0" cy="417.1" r="0.51" fill="url(#gBallT)"/>
<circle cx="402.4" cy="416.5" r="0.57" fill="url(#gBallT)"/>
<circle cx="398.4" cy="415.9" r="0.63" fill="url(#gBallT)"/>
<circle cx="394.0" cy="415.1" r="0.70" fill="url(#gBallT)"/>
<circle cx="389.0" cy="414.3" r="0.77" fill="url(#gBallT)"/>
<circle cx="383.5" cy="413.4" r="0.86" fill="url(#gBallT)"/>
<circle cx="377.5" cy="412.4" r="0.95" fill="url(#gBallT)"/>
<circle cx="412.4" cy="417.7" r="0.46" fill="url(#gBallT)"/>
<circle cx="409.5" cy="417.1" r="0.51" fill="url(#gBallT)"/>
<circle cx="406.3" cy="416.5" r="0.57" fill="url(#gBallT)"/>
<circle cx="402.7" cy="415.9" r="0.63" fill="url(#gBallT)"/>
<circle cx="398.8" cy="415.1" r="0.70" fill="url(#gBallT)"/>
<circle cx="394.4" cy="414.3" r="0.77" fill="url(#gBallT)"/>
<circle cx="389.5" cy="413.4" r="0.86" fill="url(#gBallT)"/>
<circle cx="384.0" cy="412.4" r="0.95" fill="url(#gBallT)"/>
<circle cx="378.0" cy="411.3" r="1.06" fill="url(#gBallT)"/>
<circle cx="415.6" cy="417.7" r="0.46" fill="url(#gBallT)"/>
<circle cx="413.0" cy="417.1" r="0.51" fill="url(#gBallT)"/>
<circle cx="410.2" cy="416.5" r="0.57" fill="url(#gBallT)"/>
<circle cx="407.1" cy="415.9" r="0.63" fill="url(#gBallT)"/>
<circle cx="403.6" cy="415.1" r="0.70" fill="url(#gBallT)"/>
<circle cx="399.7" cy="414.3" r="0.77" fill="url(#gBallT)"/>
<circle cx="395.4" cy="413.4" r="0.86" fill="url(#gBallT)"/>
<circle cx="390.6" cy="412.4" r="0.95" fill="url(#gBallT)"/>
<circle cx="385.3" cy="411.3" r="1.06" fill="url(#gBallT)"/>
<circle cx="379.4" cy="410.0" r="1.18" fill="url(#gBallT)"/>
<circle cx="418.8" cy="417.7" r="0.46" fill="url(#gBallT)"/>
<circle cx="416.6" cy="417.1" r="0.51" fill="url(#gBallT)"/>
<circle cx="414.1" cy="416.5" r="0.57" fill="url(#gBallT)"/>
<circle cx="411.4" cy="415.9" r="0.63" fill="url(#gBallT)"/>
<circle cx="408.4" cy="415.1" r="0.70" fill="url(#gBallT)"/>
<circle cx="405.0" cy="414.3" r="0.77" fill="url(#gBallT)"/>
<circle cx="401.3" cy="413.4" r="0.86" fill="url(#gBallT)"/>
<circle cx="397.2" cy="412.4" r="0.95" fill="url(#gBallT)"/>
<circle cx="392.6" cy="411.3" r="1.06" fill="url(#gBallT)"/>
<circle cx="387.5" cy="410.0" r="1.18" fill="url(#gBallT)"/>
<circle cx="381.9" cy="408.6" r="1.30" fill="url(#gBallT)"/>
<circle cx="421.9" cy="417.7" r="0.46" fill="url(#gBallT)"/>
<circle cx="420.1" cy="417.1" r="0.51" fill="url(#gBallT)"/>
<circle cx="418.0" cy="416.5" r="0.57" fill="url(#gBallT)"/>
<circle cx="415.7" cy="415.9" r="0.63" fill="url(#gBallT)"/>
<circle cx="413.2" cy="415.1" r="0.70" fill="url(#gBallT)"/>
<circle cx="410.4" cy="414.3" r="0.77" fill="url(#gBallT)"/>
<circle cx="407.2" cy="413.4" r="0.86" fill="url(#gBallT)"/>
<circle cx="403.8" cy="412.4" r="0.95" fill="url(#gBallT)"/>
<circle cx="399.9" cy="411.3" r="1.06" fill="url(#gBallT)"/>
<circle cx="395.6" cy="410.0" r="1.18" fill="url(#gBallT)"/>
<circle cx="390.9" cy="408.6" r="1.30" fill="url(#gBallT)"/>
<circle cx="385.6" cy="407.1" r="1.45" fill="url(#gBallT)"/>
<circle cx="379.8" cy="405.4" r="1.61" fill="url(#gBallT)"/>
<circle cx="425.1" cy="417.7" r="0.46" fill="url(#gBallT)"/>
<circle cx="423.6" cy="417.1" r="0.51" fill="url(#gBallT)"/>
<circle cx="421.9" cy="416.5" r="0.57" fill="url(#gBallT)"/>
<circle cx="420.1" cy="415.9" r="0.63" fill="url(#gBallT)"/>
<circle cx="418.0" cy="415.1" r="0.70" fill="url(#gBallT)"/>
<circle cx="415.7" cy="414.3" r="0.77" fill="url(#gBallT)"/>
<circle cx="413.2" cy="413.4" r="0.86" fill="url(#gBallT)"/>
<circle cx="410.3" cy="412.4" r="0.95" fill="url(#gBallT)"/>
<circle cx="407.2" cy="411.3" r="1.06" fill="url(#gBallT)"/>
<circle cx="403.7" cy="410.0" r="1.18" fill="url(#gBallT)"/>
<circle cx="399.9" cy="408.6" r="1.30" fill="url(#gBallT)"/>
<circle cx="395.6" cy="407.1" r="1.45" fill="url(#gBallT)"/>
<circle cx="390.8" cy="405.4" r="1.61" fill="url(#gBallT)"/>
<circle cx="385.6" cy="403.5" r="1.78" fill="url(#gBallT)"/>
<circle cx="379.7" cy="401.4" r="1.98" fill="url(#gBallT)"/>
<circle cx="428.3" cy="417.7" r="0.46" fill="url(#gBallT)"/>
<circle cx="427.1" cy="417.1" r="0.51" fill="url(#gBallT)"/>
<circle cx="425.8" cy="416.5" r="0.57" fill="url(#gBallT)"/>
<circle cx="424.4" cy="415.9" r="0.63" fill="url(#gBallT)"/>
<circle cx="422.8" cy="415.1" r="0.70" fill="url(#gBallT)"/>
<circle cx="421.0" cy="414.3" r="0.77" fill="url(#gBallT)"/>
<circle cx="419.1" cy="413.4" r="0.86" fill="url(#gBallT)"/>
<circle cx="416.9" cy="412.4" r="0.95" fill="url(#gBallT)"/>
<circle cx="414.5" cy="411.3" r="1.06" fill="url(#gBallT)"/>
<circle cx="411.8" cy="410.0" r="1.18" fill="url(#gBallT)"/>
<circle cx="408.9" cy="408.6" r="1.30" fill="url(#gBallT)"/>
<circle cx="405.6" cy="407.1" r="1.45" fill="url(#gBallT)"/>
<circle cx="401.9" cy="405.4" r="1.61" fill="url(#gBallT)"/>
<circle cx="397.9" cy="403.5" r="1.78" fill="url(#gBallT)"/>
<circle cx="393.4" cy="401.4" r="1.98" fill="url(#gBallT)"/>
<circle cx="388.4" cy="399.1" r="2.20" fill="url(#gBallT)"/>
<circle cx="382.8" cy="396.5" r="2.44" fill="url(#gBallT)"/>
<circle cx="376.6" cy="393.6" r="2.71" fill="url(#gBallT)"/>
<circle cx="431.4" cy="417.7" r="0.46" fill="url(#gBallT)"/>
<circle cx="430.6" cy="417.1" r="0.51" fill="url(#gBallT)"/>
<circle cx="429.7" cy="416.5" r="0.57" fill="url(#gBallT)"/>
<circle cx="428.7" cy="415.9" r="0.63" fill="url(#gBallT)"/>
<circle cx="427.6" cy="415.1" r="0.70" fill="url(#gBallT)"/>
<circle cx="426.4" cy="414.3" r="0.77" fill="url(#gBallT)"/>
<circle cx="425.0" cy="413.4" r="0.86" fill="url(#gBallT)"/>
<circle cx="423.5" cy="412.4" r="0.95" fill="url(#gBallT)"/>
<circle cx="421.8" cy="411.3" r="1.06" fill="url(#gBallT)"/>
<circle cx="419.9" cy="410.0" r="1.18" fill="url(#gBallT)"/>
<circle cx="417.9" cy="408.6" r="1.30" fill="url(#gBallT)"/>
<circle cx="415.5" cy="407.1" r="1.45" fill="url(#gBallT)"/>
<circle cx="413.0" cy="405.4" r="1.61" fill="url(#gBallT)"/>
<circle cx="410.2" cy="403.5" r="1.78" fill="url(#gBallT)"/>
<circle cx="407.0" cy="401.4" r="1.98" fill="url(#gBallT)"/>
<circle cx="403.5" cy="399.1" r="2.20" fill="url(#gBallT)"/>
<circle cx="399.6" cy="396.5" r="2.44" fill="url(#gBallT)"/>
<circle cx="395.3" cy="393.6" r="2.71" fill="url(#gBallT)"/>
<circle cx="390.5" cy="390.4" r="3.01" fill="url(#gBallT)"/>
<circle cx="385.2" cy="386.9" r="3.34" fill="url(#gBallT)"/>
<circle cx="379.3" cy="383.0" r="3.70" fill="url(#gBallT)"/>
<circle cx="434.6" cy="417.7" r="0.46" fill="url(#gBallT)"/>
<circle cx="434.1" cy="417.1" r="0.51" fill="url(#gBallT)"/>
<circle cx="433.6" cy="416.5" r="0.57" fill="url(#gBallT)"/>
<circle cx="433.0" cy="415.9" r="0.63" fill="url(#gBallT)"/>
<circle cx="432.4" cy="415.1" r="0.70" fill="url(#gBallT)"/>
<circle cx="431.7" cy="414.3" r="0.77" fill="url(#gBallT)"/>
<circle cx="430.9" cy="413.4" r="0.86" fill="url(#gBallT)"/>
<circle cx="430.1" cy="412.4" r="0.95" fill="url(#gBallT)"/>
<circle cx="429.1" cy="411.3" r="1.06" fill="url(#gBallT)"/>
<circle cx="428.0" cy="410.0" r="1.18" fill="url(#gBallT)"/>
<circle cx="426.8" cy="408.6" r="1.30" fill="url(#gBallT)"/>
<circle cx="425.5" cy="407.1" r="1.45" fill="url(#gBallT)"/>
<circle cx="424.1" cy="405.4" r="1.61" fill="url(#gBallT)"/>
<circle cx="422.4" cy="403.5" r="1.78" fill="url(#gBallT)"/>
<circle cx="420.6" cy="401.4" r="1.98" fill="url(#gBallT)"/>
<circle cx="418.7" cy="399.1" r="2.20" fill="url(#gBallT)"/>
<circle cx="416.4" cy="396.5" r="2.44" fill="url(#gBallT)"/>
<circle cx="414.0" cy="393.6" r="2.71" fill="url(#gBallT)"/>
<circle cx="411.2" cy="390.4" r="3.01" fill="url(#gBallT)"/>
<circle cx="408.2" cy="386.9" r="3.34" fill="url(#gBallT)"/>
<circle cx="404.9" cy="383.0" r="3.70" fill="url(#gBallT)"/>
<circle cx="401.1" cy="378.6" r="4.11" fill="url(#gBallT)"/>
<circle cx="437.8" cy="417.7" r="0.46" fill="url(#gBallT)"/>
<circle cx="437.6" cy="417.1" r="0.51" fill="url(#gBallT)"/>
<circle cx="437.5" cy="416.5" r="0.57" fill="url(#gBallT)"/>
<circle cx="437.4" cy="415.9" r="0.63" fill="url(#gBallT)"/>
<circle cx="437.2" cy="415.1" r="0.70" fill="url(#gBallT)"/>
<circle cx="437.0" cy="414.3" r="0.77" fill="url(#gBallT)"/>
<circle cx="436.8" cy="413.4" r="0.86" fill="url(#gBallT)"/>
<circle cx="436.6" cy="412.4" r="0.95" fill="url(#gBallT)"/>
<circle cx="436.4" cy="411.3" r="1.06" fill="url(#gBallT)"/>
<circle cx="436.1" cy="410.0" r="1.18" fill="url(#gBallT)"/>
<circle cx="435.8" cy="408.6" r="1.30" fill="url(#gBallT)"/>
<circle cx="435.5" cy="407.1" r="1.45" fill="url(#gBallT)"/>
<circle cx="435.1" cy="405.4" r="1.61" fill="url(#gBallT)"/>
<circle cx="434.7" cy="403.5" r="1.78" fill="url(#gBallT)"/>
<circle cx="434.3" cy="401.4" r="1.98" fill="url(#gBallT)"/>
<circle cx="433.8" cy="399.1" r="2.20" fill="url(#gBallT)"/>
<circle cx="433.3" cy="396.5" r="2.44" fill="url(#gBallT)"/>
<circle cx="432.6" cy="393.6" r="2.71" fill="url(#gBallT)"/>
<circle cx="432.0" cy="390.4" r="3.01" fill="url(#gBallT)"/>
<circle cx="431.2" cy="386.9" r="3.34" fill="url(#gBallT)"/>
<circle cx="430.4" cy="383.0" r="3.70" fill="url(#gBallT)"/>
<circle cx="429.4" cy="378.6" r="4.11" fill="url(#gBallT)"/>
<circle cx="440.9" cy="417.7" r="0.46" fill="url(#gBallT)"/>
<circle cx="441.2" cy="417.1" r="0.51" fill="url(#gBallT)"/>
<circle cx="441.4" cy="416.5" r="0.57" fill="url(#gBallT)"/>
<circle cx="441.7" cy="415.9" r="0.63" fill="url(#gBallT)"/>
<circle cx="442.0" cy="415.1" r="0.70" fill="url(#gBallT)"/>
<circle cx="442.4" cy="414.3" r="0.77" fill="url(#gBallT)"/>
<circle cx="442.8" cy="413.4" r="0.86" fill="url(#gBallT)"/>
<circle cx="443.2" cy="412.4" r="0.95" fill="url(#gBallT)"/>
<circle cx="443.7" cy="411.3" r="1.06" fill="url(#gBallT)"/>
<circle cx="444.2" cy="410.0" r="1.18" fill="url(#gBallT)"/>
<circle cx="444.8" cy="408.6" r="1.30" fill="url(#gBallT)"/>
<circle cx="445.5" cy="407.1" r="1.45" fill="url(#gBallT)"/>
<circle cx="446.2" cy="405.4" r="1.61" fill="url(#gBallT)"/>
<circle cx="447.0" cy="403.5" r="1.78" fill="url(#gBallT)"/>
<circle cx="447.9" cy="401.4" r="1.98" fill="url(#gBallT)"/>
<circle cx="448.9" cy="399.1" r="2.20" fill="url(#gBallT)"/>
<circle cx="450.1" cy="396.5" r="2.44" fill="url(#gBallT)"/>
<circle cx="451.3" cy="393.6" r="2.71" fill="url(#gBallT)"/>
<circle cx="452.7" cy="390.4" r="3.01" fill="url(#gBallT)"/>
<circle cx="454.2" cy="386.9" r="3.34" fill="url(#gBallT)"/>
<circle cx="455.9" cy="383.0" r="3.70" fill="url(#gBallT)"/>
<circle cx="457.8" cy="378.6" r="4.11" fill="url(#gBallT)"/>
<circle cx="444.1" cy="417.7" r="0.46" fill="url(#gBallT)"/>
<circle cx="444.7" cy="417.1" r="0.51" fill="url(#gBallT)"/>
<circle cx="445.3" cy="416.5" r="0.57" fill="url(#gBallT)"/>
<circle cx="446.0" cy="415.9" r="0.63" fill="url(#gBallT)"/>
<circle cx="446.8" cy="415.1" r="0.70" fill="url(#gBallT)"/>
<circle cx="447.7" cy="414.3" r="0.77" fill="url(#gBallT)"/>
<circle cx="448.7" cy="413.4" r="0.86" fill="url(#gBallT)"/>
<circle cx="449.8" cy="412.4" r="0.95" fill="url(#gBallT)"/>
<circle cx="451.0" cy="411.3" r="1.06" fill="url(#gBallT)"/>
<circle cx="452.3" cy="410.0" r="1.18" fill="url(#gBallT)"/>
<circle cx="453.8" cy="408.6" r="1.30" fill="url(#gBallT)"/>
<circle cx="455.5" cy="407.1" r="1.45" fill="url(#gBallT)"/>
<circle cx="457.3" cy="405.4" r="1.61" fill="url(#gBallT)"/>
<circle cx="459.3" cy="403.5" r="1.78" fill="url(#gBallT)"/>
<circle cx="461.6" cy="401.4" r="1.98" fill="url(#gBallT)"/>
<circle cx="464.1" cy="399.1" r="2.20" fill="url(#gBallT)"/>
<circle cx="466.9" cy="396.5" r="2.44" fill="url(#gBallT)"/>
<circle cx="470.0" cy="393.6" r="2.71" fill="url(#gBallT)"/>
<circle cx="473.4" cy="390.4" r="3.01" fill="url(#gBallT)"/>
<circle cx="477.2" cy="386.9" r="3.34" fill="url(#gBallT)"/>
<circle cx="481.4" cy="383.0" r="3.70" fill="url(#gBallT)"/>
<circle cx="486.1" cy="378.6" r="4.11" fill="url(#gBallT)"/>
<circle cx="447.3" cy="417.7" r="0.46" fill="url(#gBallT)"/>
<circle cx="448.2" cy="417.1" r="0.51" fill="url(#gBallT)"/>
<circle cx="449.2" cy="416.5" r="0.57" fill="url(#gBallT)"/>
<circle cx="450.4" cy="415.9" r="0.63" fill="url(#gBallT)"/>
<circle cx="451.6" cy="415.1" r="0.70" fill="url(#gBallT)"/>
<circle cx="453.0" cy="414.3" r="0.77" fill="url(#gBallT)"/>
<circle cx="454.6" cy="413.4" r="0.86" fill="url(#gBallT)"/>
<circle cx="456.4" cy="412.4" r="0.95" fill="url(#gBallT)"/>
<circle cx="458.3" cy="411.3" r="1.06" fill="url(#gBallT)"/>
<circle cx="460.4" cy="410.0" r="1.18" fill="url(#gBallT)"/>
<circle cx="462.8" cy="408.6" r="1.30" fill="url(#gBallT)"/>
<circle cx="465.4" cy="407.1" r="1.45" fill="url(#gBallT)"/>
<circle cx="468.4" cy="405.4" r="1.61" fill="url(#gBallT)"/>
<circle cx="471.6" cy="403.5" r="1.78" fill="url(#gBallT)"/>
<circle cx="475.2" cy="401.4" r="1.98" fill="url(#gBallT)"/>
<circle cx="479.2" cy="399.1" r="2.20" fill="url(#gBallT)"/>
<circle cx="483.7" cy="396.5" r="2.44" fill="url(#gBallT)"/>
<circle cx="488.6" cy="393.6" r="2.71" fill="url(#gBallT)"/>
<circle cx="494.1" cy="390.4" r="3.01" fill="url(#gBallT)"/>
<circle cx="500.2" cy="386.9" r="3.34" fill="url(#gBallT)"/>
<circle cx="450.4" cy="417.7" r="0.46" fill="url(#gBallT)"/>
<circle cx="451.7" cy="417.1" r="0.51" fill="url(#gBallT)"/>
<circle cx="453.1" cy="416.5" r="0.57" fill="url(#gBallT)"/>
<circle cx="454.7" cy="415.9" r="0.63" fill="url(#gBallT)"/>
<circle cx="456.4" cy="415.1" r="0.70" fill="url(#gBallT)"/>
<circle cx="458.4" cy="414.3" r="0.77" fill="url(#gBallT)"/>
<circle cx="460.5" cy="413.4" r="0.86" fill="url(#gBallT)"/>
<circle cx="462.9" cy="412.4" r="0.95" fill="url(#gBallT)"/>
<circle cx="465.6" cy="411.3" r="1.06" fill="url(#gBallT)"/>
<circle cx="468.5" cy="410.0" r="1.18" fill="url(#gBallT)"/>
<circle cx="471.8" cy="408.6" r="1.30" fill="url(#gBallT)"/>
<circle cx="475.4" cy="407.1" r="1.45" fill="url(#gBallT)"/>
<circle cx="479.4" cy="405.4" r="1.61" fill="url(#gBallT)"/>
<circle cx="483.9" cy="403.5" r="1.78" fill="url(#gBallT)"/>
<circle cx="488.9" cy="401.4" r="1.98" fill="url(#gBallT)"/>
<circle cx="494.4" cy="399.1" r="2.20" fill="url(#gBallT)"/>
<circle cx="500.5" cy="396.5" r="2.44" fill="url(#gBallT)"/>
<circle cx="453.6" cy="417.7" r="0.46" fill="url(#gBallT)"/>
<circle cx="455.2" cy="417.1" r="0.51" fill="url(#gBallT)"/>
<circle cx="457.0" cy="416.5" r="0.57" fill="url(#gBallT)"/>
<circle cx="459.0" cy="415.9" r="0.63" fill="url(#gBallT)"/>
<circle cx="461.2" cy="415.1" r="0.70" fill="url(#gBallT)"/>
<circle cx="463.7" cy="414.3" r="0.77" fill="url(#gBallT)"/>
<circle cx="466.5" cy="413.4" r="0.86" fill="url(#gBallT)"/>
<circle cx="469.5" cy="412.4" r="0.95" fill="url(#gBallT)"/>
<circle cx="472.9" cy="411.3" r="1.06" fill="url(#gBallT)"/>
<circle cx="476.6" cy="410.0" r="1.18" fill="url(#gBallT)"/>
<circle cx="480.8" cy="408.6" r="1.30" fill="url(#gBallT)"/>
<circle cx="485.4" cy="407.1" r="1.45" fill="url(#gBallT)"/>
<circle cx="490.5" cy="405.4" r="1.61" fill="url(#gBallT)"/>
<circle cx="496.2" cy="403.5" r="1.78" fill="url(#gBallT)"/>
<circle cx="502.5" cy="401.4" r="1.98" fill="url(#gBallT)"/>
<circle cx="456.8" cy="417.7" r="0.46" fill="url(#gBallT)"/>
<circle cx="458.7" cy="417.1" r="0.51" fill="url(#gBallT)"/>
<circle cx="460.9" cy="416.5" r="0.57" fill="url(#gBallT)"/>
<circle cx="463.4" cy="415.9" r="0.63" fill="url(#gBallT)"/>
<circle cx="466.1" cy="415.1" r="0.70" fill="url(#gBallT)"/>
<circle cx="469.0" cy="414.3" r="0.77" fill="url(#gBallT)"/>
<circle cx="472.4" cy="413.4" r="0.86" fill="url(#gBallT)"/>
<circle cx="476.1" cy="412.4" r="0.95" fill="url(#gBallT)"/>
<circle cx="480.2" cy="411.3" r="1.06" fill="url(#gBallT)"/>
<circle cx="484.7" cy="410.0" r="1.18" fill="url(#gBallT)"/>
<circle cx="489.8" cy="408.6" r="1.30" fill="url(#gBallT)"/>
<circle cx="495.4" cy="407.1" r="1.45" fill="url(#gBallT)"/>
<circle cx="501.6" cy="405.4" r="1.61" fill="url(#gBallT)"/>
<circle cx="459.9" cy="417.7" r="0.46" fill="url(#gBallT)"/>
<circle cx="462.2" cy="417.1" r="0.51" fill="url(#gBallT)"/>
<circle cx="464.8" cy="416.5" r="0.57" fill="url(#gBallT)"/>
<circle cx="467.7" cy="415.9" r="0.63" fill="url(#gBallT)"/>
<circle cx="470.9" cy="415.1" r="0.70" fill="url(#gBallT)"/>
<circle cx="474.4" cy="414.3" r="0.77" fill="url(#gBallT)"/>
<circle cx="478.3" cy="413.4" r="0.86" fill="url(#gBallT)"/>
<circle cx="482.6" cy="412.4" r="0.95" fill="url(#gBallT)"/>
<circle cx="487.5" cy="411.3" r="1.06" fill="url(#gBallT)"/>
<circle cx="492.8" cy="410.0" r="1.18" fill="url(#gBallT)"/>
<circle cx="498.8" cy="408.6" r="1.30" fill="url(#gBallT)"/>
<circle cx="505.4" cy="407.1" r="1.45" fill="url(#gBallT)"/>
<circle cx="463.1" cy="417.7" r="0.46" fill="url(#gBallT)"/>
<circle cx="465.8" cy="417.1" r="0.51" fill="url(#gBallT)"/>
<circle cx="468.7" cy="416.5" r="0.57" fill="url(#gBallT)"/>
<circle cx="472.0" cy="415.9" r="0.63" fill="url(#gBallT)"/>
<circle cx="475.7" cy="415.1" r="0.70" fill="url(#gBallT)"/>
<circle cx="479.7" cy="414.3" r="0.77" fill="url(#gBallT)"/>
<circle cx="484.2" cy="413.4" r="0.86" fill="url(#gBallT)"/>
<circle cx="489.2" cy="412.4" r="0.95" fill="url(#gBallT)"/>
<circle cx="494.8" cy="411.3" r="1.06" fill="url(#gBallT)"/>
<circle cx="500.9" cy="410.0" r="1.18" fill="url(#gBallT)"/>
<circle cx="466.2" cy="417.7" r="0.46" fill="url(#gBallT)"/>
<circle cx="469.3" cy="417.1" r="0.51" fill="url(#gBallT)"/>
<circle cx="472.6" cy="416.5" r="0.57" fill="url(#gBallT)"/>
<circle cx="476.3" cy="415.9" r="0.63" fill="url(#gBallT)"/>
<circle cx="480.5" cy="415.1" r="0.70" fill="url(#gBallT)"/>
<circle cx="485.1" cy="414.3" r="0.77" fill="url(#gBallT)"/>
<circle cx="490.1" cy="413.4" r="0.86" fill="url(#gBallT)"/>
<circle cx="495.8" cy="412.4" r="0.95" fill="url(#gBallT)"/>
<circle cx="502.1" cy="411.3" r="1.06" fill="url(#gBallT)"/>
<circle cx="469.4" cy="417.7" r="0.46" fill="url(#gBallT)"/>
<circle cx="472.8" cy="417.1" r="0.51" fill="url(#gBallT)"/>
<circle cx="476.5" cy="416.5" r="0.57" fill="url(#gBallT)"/>
<circle cx="480.7" cy="415.9" r="0.63" fill="url(#gBallT)"/>
<circle cx="485.3" cy="415.1" r="0.70" fill="url(#gBallT)"/>
<circle cx="490.4" cy="414.3" r="0.77" fill="url(#gBallT)"/>
<circle cx="496.1" cy="413.4" r="0.86" fill="url(#gBallT)"/>
<circle cx="502.4" cy="412.4" r="0.95" fill="url(#gBallT)"/>
<circle cx="472.6" cy="417.7" r="0.46" fill="url(#gBallT)"/>
<circle cx="476.3" cy="417.1" r="0.51" fill="url(#gBallT)"/>
<circle cx="480.4" cy="416.5" r="0.57" fill="url(#gBallT)"/>
<circle cx="485.0" cy="415.9" r="0.63" fill="url(#gBallT)"/>
<circle cx="490.1" cy="415.1" r="0.70" fill="url(#gBallT)"/>
<circle cx="495.7" cy="414.3" r="0.77" fill="url(#gBallT)"/>
<circle cx="502.0" cy="413.4" r="0.86" fill="url(#gBallT)"/>
<circle cx="475.7" cy="417.7" r="0.46" fill="url(#gBallT)"/>
<circle cx="479.8" cy="417.1" r="0.51" fill="url(#gBallT)"/>
<circle cx="484.3" cy="416.5" r="0.57" fill="url(#gBallT)"/>
<circle cx="489.3" cy="415.9" r="0.63" fill="url(#gBallT)"/>
<circle cx="494.9" cy="415.1" r="0.70" fill="url(#gBallT)"/>
<circle cx="501.1" cy="414.3" r="0.77" fill="url(#gBallT)"/>
<linearGradient id="gHaze" x1="0" y1="0" x2="0" y2="1"><stop offset="0" stop-color="#2c66dc" stop-opacity="0"/><stop offset="0.6" stop-color="#2c66dc" stop-opacity="0.75"/><stop offset="1" stop-color="#2a5ad8" stop-opacity="1"/></linearGradient>
<rect x="373.9" y="402" width="134.1" height="19" fill="url(#gHaze)"/>
<g stroke-linecap="round" stroke="#dcdde0" stroke-width="1.8">
<line x1="369.2" y1="468" x2="378.2" y2="448"/>
<line x1="378.2" y1="468" x2="369.2" y2="448"/>
<line x1="377.9" y1="468" x2="386.9" y2="448"/>
<line x1="386.9" y1="468" x2="377.9" y2="448"/>
<line x1="386.6" y1="468" x2="395.6" y2="448"/>
<line x1="395.6" y1="468" x2="386.6" y2="448"/>
<line x1="395.3" y1="468" x2="404.3" y2="448"/>
<line x1="404.3" y1="468" x2="395.3" y2="448"/>
<line x1="404.0" y1="468" x2="413.0" y2="448"/>
<line x1="413.0" y1="468" x2="404.0" y2="448"/>
<line x1="412.7" y1="468" x2="421.7" y2="448"/>
<line x1="421.7" y1="468" x2="412.7" y2="448"/>
<line x1="421.4" y1="468" x2="430.4" y2="448"/>
<line x1="430.4" y1="468" x2="421.4" y2="448"/>
<line x1="430.1" y1="468" x2="439.1" y2="448"/>
<line x1="439.1" y1="468" x2="430.1" y2="448"/>
<line x1="438.8" y1="468" x2="447.8" y2="448"/>
<line x1="447.8" y1="468" x2="438.8" y2="448"/>
<line x1="447.5" y1="468" x2="456.5" y2="448"/>
<line x1="456.5" y1="468" x2="447.5" y2="448"/>
<line x1="456.2" y1="468" x2="465.2" y2="448"/>
<line x1="465.2" y1="468" x2="456.2" y2="448"/>
<line x1="464.9" y1="468" x2="473.9" y2="448"/>
<line x1="473.9" y1="468" x2="464.9" y2="448"/>
<line x1="473.6" y1="468" x2="482.6" y2="448"/>
<line x1="482.6" y1="468" x2="473.6" y2="448"/>
<line x1="482.3" y1="468" x2="491.3" y2="448"/>
<line x1="491.3" y1="468" x2="482.3" y2="448"/>
<line x1="491.0" y1="468" x2="500.0" y2="448"/>
<line x1="500.0" y1="468" x2="491.0" y2="448"/>
<line x1="499.7" y1="468" x2="508.7" y2="448"/>
<line x1="508.7" y1="468" x2="499.7" y2="448"/>
<line x1="508.4" y1="468" x2="517.4" y2="448"/>
<line x1="517.4" y1="468" x2="508.4" y2="448"/>
</g>
<circle cx="395.9" cy="452.6" r="1.4" fill="#2aa84a"/>
<circle cx="397.4" cy="463.6" r="1.3" fill="#e0452a"/>
<circle cx="413.2" cy="452.6" r="1.4" fill="#2aa84a"/>
<circle cx="414.7" cy="463.6" r="1.3" fill="#e0452a"/>
<circle cx="430.5" cy="452.6" r="1.4" fill="#2aa84a"/>
<circle cx="432.0" cy="463.6" r="1.3" fill="#e0452a"/>
<circle cx="447.8" cy="452.6" r="1.4" fill="#2aa84a"/>
<circle cx="449.3" cy="463.6" r="1.3" fill="#e0452a"/>
<circle cx="465.1" cy="452.6" r="1.4" fill="#2aa84a"/>
<circle cx="466.6" cy="463.6" r="1.3" fill="#e0452a"/>
<circle cx="482.4" cy="452.6" r="1.4" fill="#2aa84a"/>
<circle cx="483.9" cy="463.6" r="1.3" fill="#e0452a"/>
<circle cx="499.7" cy="452.6" r="1.4" fill="#2aa84a"/>
<circle cx="501.2" cy="463.6" r="1.3" fill="#e0452a"/>
<g stroke-linecap="round" stroke="#fcfcfc" stroke-width="3.3">
<line x1="374.4" y1="445.6" x2="356.3" y2="458.4"/>
<line x1="374.4" y1="445.6" x2="391.1" y2="458.4"/>
<line x1="409.2" y1="445.6" x2="391.1" y2="458.4"/>
<line x1="409.2" y1="445.6" x2="426.0" y2="457.6"/>
<line x1="442.7" y1="444.5" x2="426.0" y2="457.6"/>
<line x1="442.7" y1="444.5" x2="461.5" y2="456.8"/>
<line x1="477.5" y1="443.4" x2="461.5" y2="456.8"/>
<line x1="477.5" y1="443.4" x2="495.9" y2="455.9"/>
<line x1="512.3" y1="442.8" x2="495.9" y2="455.9"/>
<line x1="512.3" y1="442.8" x2="530.4" y2="455.6"/>
<line x1="356.3" y1="458.4" x2="338.9" y2="470.3"/>
<line x1="356.3" y1="458.4" x2="373.7" y2="470.3"/>
<line x1="391.1" y1="458.4" x2="373.7" y2="470.3"/>
<line x1="391.1" y1="458.4" x2="408.6" y2="470.3"/>
<line x1="426.0" y1="457.6" x2="408.6" y2="469.4"/>
<line x1="426.0" y1="457.6" x2="443.4" y2="469.4"/>
<line x1="461.5" y1="456.8" x2="444.1" y2="468.6"/>
<line x1="461.5" y1="456.8" x2="478.9" y2="468.6"/>
<line x1="495.9" y1="455.9" x2="478.5" y2="467.8"/>
<line x1="495.9" y1="455.9" x2="513.3" y2="467.8"/>
<line x1="530.4" y1="455.6" x2="513.0" y2="467.5"/>
<line x1="530.4" y1="455.6" x2="547.8" y2="467.5"/>
</g>
<circle cx="378.5" cy="425.9" r="0.68" fill="url(#gBall)"/>
<circle cx="381.3" cy="425.9" r="0.68" fill="url(#gBall)"/>
<circle cx="384.0" cy="425.9" r="0.68" fill="url(#gBall)"/>
<circle cx="386.8" cy="425.9" r="0.68" fill="url(#gBall)"/>
<circle cx="389.6" cy="425.9" r="0.68" fill="url(#gBall)"/>
<circle cx="392.3" cy="425.9" r="0.68" fill="url(#gBall)"/>
<circle cx="395.1" cy="425.9" r="0.68" fill="url(#gBall)"/>
<circle cx="397.8" cy="425.9" r="0.68" fill="url(#gBall)"/>
<circle cx="400.6" cy="425.9" r="0.68" fill="url(#gBall)"/>
<circle cx="403.4" cy="425.9" r="0.68" fill="url(#gBall)"/>
<circle cx="406.1" cy="425.9" r="0.68" fill="url(#gBall)"/>
<circle cx="408.9" cy="425.9" r="0.68" fill="url(#gBall)"/>
<circle cx="411.6" cy="425.9" r="0.68" fill="url(#gBall)"/>
<circle cx="414.4" cy="425.9" r="0.68" fill="url(#gBall)"/>
<circle cx="417.1" cy="425.9" r="0.68" fill="url(#gBall)"/>
<circle cx="419.9" cy="425.9" r="0.68" fill="url(#gBall)"/>
<circle cx="422.7" cy="425.9" r="0.68" fill="url(#gBall)"/>
<circle cx="425.4" cy="425.9" r="0.68" fill="url(#gBall)"/>
<circle cx="428.2" cy="425.9" r="0.68" fill="url(#gBall)"/>
<circle cx="430.9" cy="425.9" r="0.68" fill="url(#gBall)"/>
<circle cx="433.7" cy="425.9" r="0.68" fill="url(#gBall)"/>
<circle cx="436.5" cy="425.9" r="0.68" fill="url(#gBall)"/>
<circle cx="439.2" cy="425.9" r="0.68" fill="url(#gBall)"/>
<circle cx="442.0" cy="425.9" r="0.68" fill="url(#gBall)"/>
<circle cx="444.7" cy="425.9" r="0.68" fill="url(#gBall)"/>
<circle cx="447.5" cy="425.9" r="0.68" fill="url(#gBall)"/>
<circle cx="450.2" cy="425.9" r="0.68" fill="url(#gBall)"/>
<circle cx="453.0" cy="425.9" r="0.68" fill="url(#gBall)"/>
<circle cx="455.8" cy="425.9" r="0.68" fill="url(#gBall)"/>
<circle cx="458.5" cy="425.9" r="0.68" fill="url(#gBall)"/>
<circle cx="461.3" cy="425.9" r="0.68" fill="url(#gBall)"/>
<circle cx="464.0" cy="425.9" r="0.68" fill="url(#gBall)"/>
<circle cx="466.8" cy="425.9" r="0.68" fill="url(#gBall)"/>
<circle cx="469.6" cy="425.9" r="0.68" fill="url(#gBall)"/>
<circle cx="472.3" cy="425.9" r="0.68" fill="url(#gBall)"/>
<circle cx="475.1" cy="425.9" r="0.68" fill="url(#gBall)"/>
<circle cx="477.8" cy="425.9" r="0.68" fill="url(#gBall)"/>
<circle cx="480.6" cy="425.9" r="0.68" fill="url(#gBall)"/>
<circle cx="483.3" cy="425.9" r="0.68" fill="url(#gBall)"/>
<circle cx="486.1" cy="425.9" r="0.68" fill="url(#gBall)"/>
<circle cx="488.9" cy="425.9" r="0.68" fill="url(#gBall)"/>
<circle cx="491.6" cy="425.9" r="0.68" fill="url(#gBall)"/>
<circle cx="494.4" cy="425.9" r="0.68" fill="url(#gBall)"/>
<circle cx="497.1" cy="425.9" r="0.68" fill="url(#gBall)"/>
<circle cx="499.9" cy="425.9" r="0.68" fill="url(#gBall)"/>
<circle cx="502.7" cy="425.9" r="0.68" fill="url(#gBall)"/>
<circle cx="380.9" cy="426.2" r="0.74" fill="url(#gBall)"/>
<circle cx="383.9" cy="426.2" r="0.74" fill="url(#gBall)"/>
<circle cx="386.9" cy="426.2" r="0.74" fill="url(#gBall)"/>
<circle cx="389.9" cy="426.2" r="0.74" fill="url(#gBall)"/>
<circle cx="392.9" cy="426.2" r="0.74" fill="url(#gBall)"/>
<circle cx="395.9" cy="426.2" r="0.74" fill="url(#gBall)"/>
<circle cx="398.8" cy="426.2" r="0.74" fill="url(#gBall)"/>
<circle cx="401.8" cy="426.2" r="0.74" fill="url(#gBall)"/>
<circle cx="404.8" cy="426.2" r="0.74" fill="url(#gBall)"/>
<circle cx="407.8" cy="426.2" r="0.74" fill="url(#gBall)"/>
<circle cx="410.8" cy="426.2" r="0.74" fill="url(#gBall)"/>
<circle cx="413.8" cy="426.2" r="0.74" fill="url(#gBall)"/>
<circle cx="416.8" cy="426.2" r="0.74" fill="url(#gBall)"/>
<circle cx="419.8" cy="426.2" r="0.74" fill="url(#gBall)"/>
<circle cx="422.8" cy="426.2" r="0.74" fill="url(#gBall)"/>
<circle cx="425.8" cy="426.2" r="0.74" fill="url(#gBall)"/>
<circle cx="428.8" cy="426.2" r="0.74" fill="url(#gBall)"/>
<circle cx="431.8" cy="426.2" r="0.74" fill="url(#gBall)"/>
<circle cx="434.8" cy="426.2" r="0.74" fill="url(#gBall)"/>
<circle cx="437.8" cy="426.2" r="0.74" fill="url(#gBall)"/>
<circle cx="440.7" cy="426.2" r="0.74" fill="url(#gBall)"/>
<circle cx="443.7" cy="426.2" r="0.74" fill="url(#gBall)"/>
<circle cx="446.7" cy="426.2" r="0.74" fill="url(#gBall)"/>
<circle cx="449.7" cy="426.2" r="0.74" fill="url(#gBall)"/>
<circle cx="452.7" cy="426.2" r="0.74" fill="url(#gBall)"/>
<circle cx="455.7" cy="426.2" r="0.74" fill="url(#gBall)"/>
<circle cx="458.7" cy="426.2" r="0.74" fill="url(#gBall)"/>
<circle cx="461.7" cy="426.2" r="0.74" fill="url(#gBall)"/>
<circle cx="464.7" cy="426.2" r="0.74" fill="url(#gBall)"/>
<circle cx="467.7" cy="426.2" r="0.74" fill="url(#gBall)"/>
<circle cx="470.7" cy="426.2" r="0.74" fill="url(#gBall)"/>
<circle cx="473.7" cy="426.2" r="0.74" fill="url(#gBall)"/>
<circle cx="476.7" cy="426.2" r="0.74" fill="url(#gBall)"/>
<circle cx="479.7" cy="426.2" r="0.74" fill="url(#gBall)"/>
<circle cx="482.6" cy="426.2" r="0.74" fill="url(#gBall)"/>
<circle cx="485.6" cy="426.2" r="0.74" fill="url(#gBall)"/>
<circle cx="488.6" cy="426.2" r="0.74" fill="url(#gBall)"/>
<circle cx="491.6" cy="426.2" r="0.74" fill="url(#gBall)"/>
<circle cx="494.6" cy="426.2" r="0.74" fill="url(#gBall)"/>
<circle cx="497.6" cy="426.2" r="0.74" fill="url(#gBall)"/>
<circle cx="500.6" cy="426.2" r="0.74" fill="url(#gBall)"/>
<circle cx="503.6" cy="426.2" r="0.74" fill="url(#gBall)"/>
<circle cx="380.8" cy="426.5" r="0.80" fill="url(#gBall)"/>
<circle cx="384.1" cy="426.5" r="0.80" fill="url(#gBall)"/>
<circle cx="387.3" cy="426.5" r="0.80" fill="url(#gBall)"/>
<circle cx="390.6" cy="426.5" r="0.80" fill="url(#gBall)"/>
<circle cx="393.8" cy="426.5" r="0.80" fill="url(#gBall)"/>
<circle cx="397.1" cy="426.5" r="0.80" fill="url(#gBall)"/>
<circle cx="400.3" cy="426.5" r="0.80" fill="url(#gBall)"/>
<circle cx="403.6" cy="426.5" r="0.80" fill="url(#gBall)"/>
<circle cx="406.8" cy="426.5" r="0.80" fill="url(#gBall)"/>
<circle cx="410.1" cy="426.5" r="0.80" fill="url(#gBall)"/>
<circle cx="413.3" cy="426.5" r="0.80" fill="url(#gBall)"/>
<circle cx="416.6" cy="426.5" r="0.80" fill="url(#gBall)"/>
<circle cx="419.8" cy="426.5" r="0.80" fill="url(#gBall)"/>
<circle cx="423.1" cy="426.5" r="0.80" fill="url(#gBall)"/>
<circle cx="426.3" cy="426.5" r="0.80" fill="url(#gBall)"/>
<circle cx="429.5" cy="426.5" r="0.80" fill="url(#gBall)"/>
<circle cx="432.8" cy="426.5" r="0.80" fill="url(#gBall)"/>
<circle cx="436.0" cy="426.5" r="0.80" fill="url(#gBall)"/>
<circle cx="439.3" cy="426.5" r="0.80" fill="url(#gBall)"/>
<circle cx="442.5" cy="426.5" r="0.80" fill="url(#gBall)"/>
<circle cx="445.8" cy="426.5" r="0.80" fill="url(#gBall)"/>
<circle cx="449.0" cy="426.5" r="0.80" fill="url(#gBall)"/>
<circle cx="452.3" cy="426.5" r="0.80" fill="url(#gBall)"/>
<circle cx="455.5" cy="426.5" r="0.80" fill="url(#gBall)"/>
<circle cx="458.8" cy="426.5" r="0.80" fill="url(#gBall)"/>
<circle cx="462.0" cy="426.5" r="0.80" fill="url(#gBall)"/>
<circle cx="465.3" cy="426.5" r="0.80" fill="url(#gBall)"/>
<circle cx="468.5" cy="426.5" r="0.80" fill="url(#gBall)"/>
<circle cx="471.8" cy="426.5" r="0.80" fill="url(#gBall)"/>
<circle cx="475.0" cy="426.5" r="0.80" fill="url(#gBall)"/>
<circle cx="478.3" cy="426.5" r="0.80" fill="url(#gBall)"/>
<circle cx="481.5" cy="426.5" r="0.80" fill="url(#gBall)"/>
<circle cx="484.7" cy="426.5" r="0.80" fill="url(#gBall)"/>
<circle cx="488.0" cy="426.5" r="0.80" fill="url(#gBall)"/>
<circle cx="491.2" cy="426.5" r="0.80" fill="url(#gBall)"/>
<circle cx="494.5" cy="426.5" r="0.80" fill="url(#gBall)"/>
<circle cx="497.7" cy="426.5" r="0.80" fill="url(#gBall)"/>
<circle cx="501.0" cy="426.5" r="0.80" fill="url(#gBall)"/>
<circle cx="381.2" cy="426.8" r="0.87" fill="url(#gBall)"/>
<circle cx="384.7" cy="426.8" r="0.87" fill="url(#gBall)"/>
<circle cx="388.2" cy="426.8" r="0.87" fill="url(#gBall)"/>
<circle cx="391.8" cy="426.8" r="0.87" fill="url(#gBall)"/>
<circle cx="395.3" cy="426.8" r="0.87" fill="url(#gBall)"/>
<circle cx="398.8" cy="426.8" r="0.87" fill="url(#gBall)"/>
<circle cx="402.3" cy="426.8" r="0.87" fill="url(#gBall)"/>
<circle cx="405.9" cy="426.8" r="0.87" fill="url(#gBall)"/>
<circle cx="409.4" cy="426.8" r="0.87" fill="url(#gBall)"/>
<circle cx="412.9" cy="426.8" r="0.87" fill="url(#gBall)"/>
<circle cx="416.4" cy="426.8" r="0.87" fill="url(#gBall)"/>
<circle cx="420.0" cy="426.8" r="0.87" fill="url(#gBall)"/>
<circle cx="423.5" cy="426.8" r="0.87" fill="url(#gBall)"/>
<circle cx="427.0" cy="426.8" r="0.87" fill="url(#gBall)"/>
<circle cx="430.5" cy="426.8" r="0.87" fill="url(#gBall)"/>
<circle cx="434.0" cy="426.8" r="0.87" fill="url(#gBall)"/>
<circle cx="437.6" cy="426.8" r="0.87" fill="url(#gBall)"/>
<circle cx="441.1" cy="426.8" r="0.87" fill="url(#gBall)"/>
<circle cx="444.6" cy="426.8" r="0.87" fill="url(#gBall)"/>
<circle cx="448.1" cy="426.8" r="0.87" fill="url(#gBall)"/>
<circle cx="451.7" cy="426.8" r="0.87" fill="url(#gBall)"/>
<circle cx="455.2" cy="426.8" r="0.87" fill="url(#gBall)"/>
<circle cx="458.7" cy="426.8" r="0.87" fill="url(#gBall)"/>
<circle cx="462.2" cy="426.8" r="0.87" fill="url(#gBall)"/>
<circle cx="465.8" cy="426.8" r="0.87" fill="url(#gBall)"/>
<circle cx="469.3" cy="426.8" r="0.87" fill="url(#gBall)"/>
<circle cx="472.8" cy="426.8" r="0.87" fill="url(#gBall)"/>
<circle cx="476.3" cy="426.8" r="0.87" fill="url(#gBall)"/>
<circle cx="479.8" cy="426.8" r="0.87" fill="url(#gBall)"/>
<circle cx="483.4" cy="426.8" r="0.87" fill="url(#gBall)"/>
<circle cx="486.9" cy="426.8" r="0.87" fill="url(#gBall)"/>
<circle cx="490.4" cy="426.8" r="0.87" fill="url(#gBall)"/>
<circle cx="493.9" cy="426.8" r="0.87" fill="url(#gBall)"/>
<circle cx="497.5" cy="426.8" r="0.87" fill="url(#gBall)"/>
<circle cx="501.0" cy="426.8" r="0.87" fill="url(#gBall)"/>
<circle cx="378.2" cy="427.2" r="0.94" fill="url(#gBall)"/>
<circle cx="382.0" cy="427.2" r="0.94" fill="url(#gBall)"/>
<circle cx="385.9" cy="427.2" r="0.94" fill="url(#gBall)"/>
<circle cx="389.7" cy="427.2" r="0.94" fill="url(#gBall)"/>
<circle cx="393.5" cy="427.2" r="0.94" fill="url(#gBall)"/>
<circle cx="397.3" cy="427.2" r="0.94" fill="url(#gBall)"/>
<circle cx="401.1" cy="427.2" r="0.94" fill="url(#gBall)"/>
<circle cx="405.0" cy="427.2" r="0.94" fill="url(#gBall)"/>
<circle cx="408.8" cy="427.2" r="0.94" fill="url(#gBall)"/>
<circle cx="412.6" cy="427.2" r="0.94" fill="url(#gBall)"/>
<circle cx="416.4" cy="427.2" r="0.94" fill="url(#gBall)"/>
<circle cx="420.3" cy="427.2" r="0.94" fill="url(#gBall)"/>
<circle cx="424.1" cy="427.2" r="0.94" fill="url(#gBall)"/>
<circle cx="427.9" cy="427.2" r="0.94" fill="url(#gBall)"/>
<circle cx="431.7" cy="427.2" r="0.94" fill="url(#gBall)"/>
<circle cx="435.6" cy="427.2" r="0.94" fill="url(#gBall)"/>
<circle cx="439.4" cy="427.2" r="0.94" fill="url(#gBall)"/>
<circle cx="443.2" cy="427.2" r="0.94" fill="url(#gBall)"/>
<circle cx="447.0" cy="427.2" r="0.94" fill="url(#gBall)"/>
<circle cx="450.8" cy="427.2" r="0.94" fill="url(#gBall)"/>
<circle cx="454.7" cy="427.2" r="0.94" fill="url(#gBall)"/>
<circle cx="458.5" cy="427.2" r="0.94" fill="url(#gBall)"/>
<circle cx="462.3" cy="427.2" r="0.94" fill="url(#gBall)"/>
<circle cx="466.1" cy="427.2" r="0.94" fill="url(#gBall)"/>
<circle cx="470.0" cy="427.2" r="0.94" fill="url(#gBall)"/>
<circle cx="473.8" cy="427.2" r="0.94" fill="url(#gBall)"/>
<circle cx="477.6" cy="427.2" r="0.94" fill="url(#gBall)"/>
<circle cx="481.4" cy="427.2" r="0.94" fill="url(#gBall)"/>
<circle cx="485.2" cy="427.2" r="0.94" fill="url(#gBall)"/>
<circle cx="489.1" cy="427.2" r="0.94" fill="url(#gBall)"/>
<circle cx="492.9" cy="427.2" r="0.94" fill="url(#gBall)"/>
<circle cx="496.7" cy="427.2" r="0.94" fill="url(#gBall)"/>
<circle cx="500.5" cy="427.2" r="0.94" fill="url(#gBall)"/>
<circle cx="379.3" cy="427.6" r="1.02" fill="url(#gBall)"/>
<circle cx="383.4" cy="427.6" r="1.02" fill="url(#gBall)"/>
<circle cx="387.6" cy="427.6" r="1.02" fill="url(#gBall)"/>
<circle cx="391.7" cy="427.6" r="1.02" fill="url(#gBall)"/>
<circle cx="395.9" cy="427.6" r="1.02" fill="url(#gBall)"/>
<circle cx="400.0" cy="427.6" r="1.02" fill="url(#gBall)"/>
<circle cx="404.2" cy="427.6" r="1.02" fill="url(#gBall)"/>
<circle cx="408.3" cy="427.6" r="1.02" fill="url(#gBall)"/>
<circle cx="412.5" cy="427.6" r="1.02" fill="url(#gBall)"/>
<circle cx="416.6" cy="427.6" r="1.02" fill="url(#gBall)"/>
<circle cx="420.8" cy="427.6" r="1.02" fill="url(#gBall)"/>
<circle cx="424.9" cy="427.6" r="1.02" fill="url(#gBall)"/>
<circle cx="429.1" cy="427.6" r="1.02" fill="url(#gBall)"/>
<circle cx="433.2" cy="427.6" r="1.02" fill="url(#gBall)"/>
<circle cx="437.3" cy="427.6" r="1.02" fill="url(#gBall)"/>
<circle cx="441.5" cy="427.6" r="1.02" fill="url(#gBall)"/>
<circle cx="445.6" cy="427.6" r="1.02" fill="url(#gBall)"/>
<circle cx="449.8" cy="427.6" r="1.02" fill="url(#gBall)"/>
<circle cx="453.9" cy="427.6" r="1.02" fill="url(#gBall)"/>
<circle cx="458.1" cy="427.6" r="1.02" fill="url(#gBall)"/>
<circle cx="462.2" cy="427.6" r="1.02" fill="url(#gBall)"/>
<circle cx="466.4" cy="427.6" r="1.02" fill="url(#gBall)"/>
<circle cx="470.5" cy="427.6" r="1.02" fill="url(#gBall)"/>
<circle cx="474.7" cy="427.6" r="1.02" fill="url(#gBall)"/>
<circle cx="478.8" cy="427.6" r="1.02" fill="url(#gBall)"/>
<circle cx="483.0" cy="427.6" r="1.02" fill="url(#gBall)"/>
<circle cx="487.1" cy="427.6" r="1.02" fill="url(#gBall)"/>
<circle cx="491.3" cy="427.6" r="1.02" fill="url(#gBall)"/>
<circle cx="495.4" cy="427.6" r="1.02" fill="url(#gBall)"/>
<circle cx="499.6" cy="427.6" r="1.02" fill="url(#gBall)"/>
<circle cx="503.7" cy="427.6" r="1.02" fill="url(#gBall)"/>
<circle cx="381.0" cy="428.0" r="1.11" fill="url(#gBall)"/>
<circle cx="385.5" cy="428.0" r="1.11" fill="url(#gBall)"/>
<circle cx="390.0" cy="428.0" r="1.11" fill="url(#gBall)"/>
<circle cx="394.5" cy="428.0" r="1.11" fill="url(#gBall)"/>
<circle cx="399.0" cy="428.0" r="1.11" fill="url(#gBall)"/>
<circle cx="403.5" cy="428.0" r="1.11" fill="url(#gBall)"/>
<circle cx="408.0" cy="428.0" r="1.11" fill="url(#gBall)"/>
<circle cx="412.5" cy="428.0" r="1.11" fill="url(#gBall)"/>
<circle cx="417.0" cy="428.0" r="1.11" fill="url(#gBall)"/>
<circle cx="421.5" cy="428.0" r="1.11" fill="url(#gBall)"/>
<circle cx="426.0" cy="428.0" r="1.11" fill="url(#gBall)"/>
<circle cx="430.5" cy="428.0" r="1.11" fill="url(#gBall)"/>
<circle cx="435.0" cy="428.0" r="1.11" fill="url(#gBall)"/>
<circle cx="439.5" cy="428.0" r="1.11" fill="url(#gBall)"/>
<circle cx="444.0" cy="428.0" r="1.11" fill="url(#gBall)"/>
<circle cx="448.5" cy="428.0" r="1.11" fill="url(#gBall)"/>
<circle cx="453.0" cy="428.0" r="1.11" fill="url(#gBall)"/>
<circle cx="457.5" cy="428.0" r="1.11" fill="url(#gBall)"/>
<circle cx="462.0" cy="428.0" r="1.11" fill="url(#gBall)"/>
<circle cx="466.5" cy="428.0" r="1.11" fill="url(#gBall)"/>
<circle cx="471.0" cy="428.0" r="1.11" fill="url(#gBall)"/>
<circle cx="475.5" cy="428.0" r="1.11" fill="url(#gBall)"/>
<circle cx="480.0" cy="428.0" r="1.11" fill="url(#gBall)"/>
<circle cx="484.5" cy="428.0" r="1.11" fill="url(#gBall)"/>
<circle cx="489.0" cy="428.0" r="1.11" fill="url(#gBall)"/>
<circle cx="493.5" cy="428.0" r="1.11" fill="url(#gBall)"/>
<circle cx="498.0" cy="428.0" r="1.11" fill="url(#gBall)"/>
<circle cx="502.5" cy="428.0" r="1.11" fill="url(#gBall)"/>
<circle cx="378.5" cy="428.5" r="1.21" fill="url(#gBall)"/>
<circle cx="383.4" cy="428.5" r="1.21" fill="url(#gBall)"/>
<circle cx="388.3" cy="428.5" r="1.21" fill="url(#gBall)"/>
<circle cx="393.1" cy="428.5" r="1.21" fill="url(#gBall)"/>
<circle cx="398.0" cy="428.5" r="1.21" fill="url(#gBall)"/>
<circle cx="402.9" cy="428.5" r="1.21" fill="url(#gBall)"/>
<circle cx="407.8" cy="428.5" r="1.21" fill="url(#gBall)"/>
<circle cx="412.7" cy="428.5" r="1.21" fill="url(#gBall)"/>
<circle cx="417.6" cy="428.5" r="1.21" fill="url(#gBall)"/>
<circle cx="422.4" cy="428.5" r="1.21" fill="url(#gBall)"/>
<circle cx="427.3" cy="428.5" r="1.21" fill="url(#gBall)"/>
<circle cx="432.2" cy="428.5" r="1.21" fill="url(#gBall)"/>
<circle cx="437.1" cy="428.5" r="1.21" fill="url(#gBall)"/>
<circle cx="442.0" cy="428.5" r="1.21" fill="url(#gBall)"/>
<circle cx="446.9" cy="428.5" r="1.21" fill="url(#gBall)"/>
<circle cx="451.7" cy="428.5" r="1.21" fill="url(#gBall)"/>
<circle cx="456.6" cy="428.5" r="1.21" fill="url(#gBall)"/>
<circle cx="461.5" cy="428.5" r="1.21" fill="url(#gBall)"/>
<circle cx="466.4" cy="428.5" r="1.21" fill="url(#gBall)"/>
<circle cx="471.3" cy="428.5" r="1.21" fill="url(#gBall)"/>
<circle cx="476.2" cy="428.5" r="1.21" fill="url(#gBall)"/>
<circle cx="481.0" cy="428.5" r="1.21" fill="url(#gBall)"/>
<circle cx="485.9" cy="428.5" r="1.21" fill="url(#gBall)"/>
<circle cx="490.8" cy="428.5" r="1.21" fill="url(#gBall)"/>
<circle cx="495.7" cy="428.5" r="1.21" fill="url(#gBall)"/>
<circle cx="500.6" cy="428.5" r="1.21" fill="url(#gBall)"/>
<circle cx="381.3" cy="429.0" r="1.31" fill="url(#gBall)"/>
<circle cx="386.6" cy="429.0" r="1.31" fill="url(#gBall)"/>
<circle cx="391.9" cy="429.0" r="1.31" fill="url(#gBall)"/>
<circle cx="397.2" cy="429.0" r="1.31" fill="url(#gBall)"/>
<circle cx="402.5" cy="429.0" r="1.31" fill="url(#gBall)"/>
<circle cx="407.8" cy="429.0" r="1.31" fill="url(#gBall)"/>
<circle cx="413.1" cy="429.0" r="1.31" fill="url(#gBall)"/>
<circle cx="418.4" cy="429.0" r="1.31" fill="url(#gBall)"/>
<circle cx="423.7" cy="429.0" r="1.31" fill="url(#gBall)"/>
<circle cx="429.0" cy="429.0" r="1.31" fill="url(#gBall)"/>
<circle cx="434.3" cy="429.0" r="1.31" fill="url(#gBall)"/>
<circle cx="439.6" cy="429.0" r="1.31" fill="url(#gBall)"/>
<circle cx="444.9" cy="429.0" r="1.31" fill="url(#gBall)"/>
<circle cx="450.2" cy="429.0" r="1.31" fill="url(#gBall)"/>
<circle cx="455.5" cy="429.0" r="1.31" fill="url(#gBall)"/>
<circle cx="460.8" cy="429.0" r="1.31" fill="url(#gBall)"/>
<circle cx="466.1" cy="429.0" r="1.31" fill="url(#gBall)"/>
<circle cx="471.4" cy="429.0" r="1.31" fill="url(#gBall)"/>
<circle cx="476.7" cy="429.0" r="1.31" fill="url(#gBall)"/>
<circle cx="482.0" cy="429.0" r="1.31" fill="url(#gBall)"/>
<circle cx="487.3" cy="429.0" r="1.31" fill="url(#gBall)"/>
<circle cx="492.6" cy="429.0" r="1.31" fill="url(#gBall)"/>
<circle cx="497.9" cy="429.0" r="1.31" fill="url(#gBall)"/>
<circle cx="503.2" cy="429.0" r="1.31" fill="url(#gBall)"/>
<circle cx="379.3" cy="429.5" r="1.42" fill="url(#gBall)"/>
<circle cx="385.1" cy="429.5" r="1.42" fill="url(#gBall)"/>
<circle cx="390.8" cy="429.5" r="1.42" fill="url(#gBall)"/>
<circle cx="396.6" cy="429.5" r="1.42" fill="url(#gBall)"/>
<circle cx="402.3" cy="429.5" r="1.42" fill="url(#gBall)"/>
<circle cx="408.0" cy="429.5" r="1.42" fill="url(#gBall)"/>
<circle cx="413.8" cy="429.5" r="1.42" fill="url(#gBall)"/>
<circle cx="419.5" cy="429.5" r="1.42" fill="url(#gBall)"/>
<circle cx="425.3" cy="429.5" r="1.42" fill="url(#gBall)"/>
<circle cx="431.0" cy="429.5" r="1.42" fill="url(#gBall)"/>
<circle cx="436.8" cy="429.5" r="1.42" fill="url(#gBall)"/>
<circle cx="442.5" cy="429.5" r="1.42" fill="url(#gBall)"/>
<circle cx="448.3" cy="429.5" r="1.42" fill="url(#gBall)"/>
<circle cx="454.0" cy="429.5" r="1.42" fill="url(#gBall)"/>
<circle cx="459.8" cy="429.5" r="1.42" fill="url(#gBall)"/>
<circle cx="465.5" cy="429.5" r="1.42" fill="url(#gBall)"/>
<circle cx="471.3" cy="429.5" r="1.42" fill="url(#gBall)"/>
<circle cx="477.0" cy="429.5" r="1.42" fill="url(#gBall)"/>
<circle cx="482.8" cy="429.5" r="1.42" fill="url(#gBall)"/>
<circle cx="488.5" cy="429.5" r="1.42" fill="url(#gBall)"/>
<circle cx="494.3" cy="429.5" r="1.42" fill="url(#gBall)"/>
<circle cx="500.0" cy="429.5" r="1.42" fill="url(#gBall)"/>
<circle cx="383.6" cy="430.1" r="1.54" fill="url(#gBall)"/>
<circle cx="389.8" cy="430.1" r="1.54" fill="url(#gBall)"/>
<circle cx="396.1" cy="430.1" r="1.54" fill="url(#gBall)"/>
<circle cx="402.3" cy="430.1" r="1.54" fill="url(#gBall)"/>
<circle cx="408.6" cy="430.1" r="1.54" fill="url(#gBall)"/>
<circle cx="414.8" cy="430.1" r="1.54" fill="url(#gBall)"/>
<circle cx="421.0" cy="430.1" r="1.54" fill="url(#gBall)"/>
<circle cx="427.3" cy="430.1" r="1.54" fill="url(#gBall)"/>
<circle cx="433.5" cy="430.1" r="1.54" fill="url(#gBall)"/>
<circle cx="439.7" cy="430.1" r="1.54" fill="url(#gBall)"/>
<circle cx="446.0" cy="430.1" r="1.54" fill="url(#gBall)"/>
<circle cx="452.2" cy="430.1" r="1.54" fill="url(#gBall)"/>
<circle cx="458.4" cy="430.1" r="1.54" fill="url(#gBall)"/>
<circle cx="464.7" cy="430.1" r="1.54" fill="url(#gBall)"/>
<circle cx="470.9" cy="430.1" r="1.54" fill="url(#gBall)"/>
<circle cx="477.2" cy="430.1" r="1.54" fill="url(#gBall)"/>
<circle cx="483.4" cy="430.1" r="1.54" fill="url(#gBall)"/>
<circle cx="489.6" cy="430.1" r="1.54" fill="url(#gBall)"/>
<circle cx="495.9" cy="430.1" r="1.54" fill="url(#gBall)"/>
<circle cx="502.1" cy="430.1" r="1.54" fill="url(#gBall)"/>
<circle cx="382.3" cy="430.8" r="1.67" fill="url(#gBall)"/>
<circle cx="389.1" cy="430.8" r="1.67" fill="url(#gBall)"/>
<circle cx="395.8" cy="430.8" r="1.67" fill="url(#gBall)"/>
<circle cx="402.6" cy="430.8" r="1.67" fill="url(#gBall)"/>
<circle cx="409.4" cy="430.8" r="1.67" fill="url(#gBall)"/>
<circle cx="416.1" cy="430.8" r="1.67" fill="url(#gBall)"/>
<circle cx="422.9" cy="430.8" r="1.67" fill="url(#gBall)"/>
<circle cx="429.7" cy="430.8" r="1.67" fill="url(#gBall)"/>
<circle cx="436.4" cy="430.8" r="1.67" fill="url(#gBall)"/>
<circle cx="443.2" cy="430.8" r="1.67" fill="url(#gBall)"/>
<circle cx="450.0" cy="430.8" r="1.67" fill="url(#gBall)"/>
<circle cx="456.7" cy="430.8" r="1.67" fill="url(#gBall)"/>
<circle cx="463.5" cy="430.8" r="1.67" fill="url(#gBall)"/>
<circle cx="470.3" cy="430.8" r="1.67" fill="url(#gBall)"/>
<circle cx="477.0" cy="430.8" r="1.67" fill="url(#gBall)"/>
<circle cx="483.8" cy="430.8" r="1.67" fill="url(#gBall)"/>
<circle cx="490.6" cy="430.8" r="1.67" fill="url(#gBall)"/>
<circle cx="497.3" cy="430.8" r="1.67" fill="url(#gBall)"/>
<circle cx="381.2" cy="431.4" r="1.81" fill="url(#gBall)"/>
<circle cx="388.5" cy="431.4" r="1.81" fill="url(#gBall)"/>
<circle cx="395.8" cy="431.4" r="1.81" fill="url(#gBall)"/>
<circle cx="403.2" cy="431.4" r="1.81" fill="url(#gBall)"/>
<circle cx="410.5" cy="431.4" r="1.81" fill="url(#gBall)"/>
<circle cx="417.9" cy="431.4" r="1.81" fill="url(#gBall)"/>
<circle cx="425.2" cy="431.4" r="1.81" fill="url(#gBall)"/>
<circle cx="432.6" cy="431.4" r="1.81" fill="url(#gBall)"/>
<circle cx="439.9" cy="431.4" r="1.81" fill="url(#gBall)"/>
<circle cx="447.2" cy="431.4" r="1.81" fill="url(#gBall)"/>
<circle cx="454.6" cy="431.4" r="1.81" fill="url(#gBall)"/>
<circle cx="461.9" cy="431.4" r="1.81" fill="url(#gBall)"/>
<circle cx="469.3" cy="431.4" r="1.81" fill="url(#gBall)"/>
<circle cx="476.6" cy="431.4" r="1.81" fill="url(#gBall)"/>
<circle cx="484.0" cy="431.4" r="1.81" fill="url(#gBall)"/>
<circle cx="491.3" cy="431.4" r="1.81" fill="url(#gBall)"/>
<circle cx="498.6" cy="431.4" r="1.81" fill="url(#gBall)"/>
<circle cx="380.2" cy="432.2" r="1.97" fill="url(#gBall)"/>
<circle cx="388.2" cy="432.2" r="1.97" fill="url(#gBall)"/>
<circle cx="396.2" cy="432.2" r="1.97" fill="url(#gBall)"/>
<circle cx="404.1" cy="432.2" r="1.97" fill="url(#gBall)"/>
<circle cx="412.1" cy="432.2" r="1.97" fill="url(#gBall)"/>
<circle cx="420.1" cy="432.2" r="1.97" fill="url(#gBall)"/>
<circle cx="428.0" cy="432.2" r="1.97" fill="url(#gBall)"/>
<circle cx="436.0" cy="432.2" r="1.97" fill="url(#gBall)"/>
<circle cx="444.0" cy="432.2" r="1.97" fill="url(#gBall)"/>
<circle cx="451.9" cy="432.2" r="1.97" fill="url(#gBall)"/>
<circle cx="459.9" cy="432.2" r="1.97" fill="url(#gBall)"/>
<circle cx="467.9" cy="432.2" r="1.97" fill="url(#gBall)"/>
<circle cx="475.8" cy="432.2" r="1.97" fill="url(#gBall)"/>
<circle cx="483.8" cy="432.2" r="1.97" fill="url(#gBall)"/>
<circle cx="491.8" cy="432.2" r="1.97" fill="url(#gBall)"/>
<circle cx="499.7" cy="432.2" r="1.97" fill="url(#gBall)"/>
<circle cx="379.6" cy="433.0" r="2.13" fill="url(#gBall)"/>
<circle cx="388.2" cy="433.0" r="2.13" fill="url(#gBall)"/>
<circle cx="396.9" cy="433.0" r="2.13" fill="url(#gBall)"/>
<circle cx="405.5" cy="433.0" r="2.13" fill="url(#gBall)"/>
<circle cx="414.2" cy="433.0" r="2.13" fill="url(#gBall)"/>
<circle cx="422.8" cy="433.0" r="2.13" fill="url(#gBall)"/>
<circle cx="431.5" cy="433.0" r="2.13" fill="url(#gBall)"/>
<circle cx="440.1" cy="433.0" r="2.13" fill="url(#gBall)"/>
<circle cx="448.7" cy="433.0" r="2.13" fill="url(#gBall)"/>
<circle cx="457.4" cy="433.0" r="2.13" fill="url(#gBall)"/>
<circle cx="466.0" cy="433.0" r="2.13" fill="url(#gBall)"/>
<circle cx="474.7" cy="433.0" r="2.13" fill="url(#gBall)"/>
<circle cx="483.3" cy="433.0" r="2.13" fill="url(#gBall)"/>
<circle cx="492.0" cy="433.0" r="2.13" fill="url(#gBall)"/>
<circle cx="500.6" cy="433.0" r="2.13" fill="url(#gBall)"/>
<circle cx="379.3" cy="433.9" r="2.32" fill="url(#gBall)"/>
<circle cx="388.6" cy="433.9" r="2.32" fill="url(#gBall)"/>
<circle cx="398.0" cy="433.9" r="2.32" fill="url(#gBall)"/>
<circle cx="407.4" cy="433.9" r="2.32" fill="url(#gBall)"/>
<circle cx="416.8" cy="433.9" r="2.32" fill="url(#gBall)"/>
<circle cx="426.1" cy="433.9" r="2.32" fill="url(#gBall)"/>
<circle cx="435.5" cy="433.9" r="2.32" fill="url(#gBall)"/>
<circle cx="444.9" cy="433.9" r="2.32" fill="url(#gBall)"/>
<circle cx="454.3" cy="433.9" r="2.32" fill="url(#gBall)"/>
<circle cx="463.7" cy="433.9" r="2.32" fill="url(#gBall)"/>
<circle cx="473.0" cy="433.9" r="2.32" fill="url(#gBall)"/>
<circle cx="482.4" cy="433.9" r="2.32" fill="url(#gBall)"/>
<circle cx="491.8" cy="433.9" r="2.32" fill="url(#gBall)"/>
<circle cx="501.2" cy="433.9" r="2.32" fill="url(#gBall)"/>
<circle cx="379.3" cy="434.9" r="2.51" fill="url(#gBall)"/>
<circle cx="389.5" cy="434.9" r="2.51" fill="url(#gBall)"/>
<circle cx="399.6" cy="434.9" r="2.51" fill="url(#gBall)"/>
<circle cx="409.8" cy="434.9" r="2.51" fill="url(#gBall)"/>
<circle cx="420.0" cy="434.9" r="2.51" fill="url(#gBall)"/>
<circle cx="430.2" cy="434.9" r="2.51" fill="url(#gBall)"/>
<circle cx="440.3" cy="434.9" r="2.51" fill="url(#gBall)"/>
<circle cx="450.5" cy="434.9" r="2.51" fill="url(#gBall)"/>
<circle cx="460.7" cy="434.9" r="2.51" fill="url(#gBall)"/>
<circle cx="470.9" cy="434.9" r="2.51" fill="url(#gBall)"/>
<circle cx="481.0" cy="434.9" r="2.51" fill="url(#gBall)"/>
<circle cx="491.2" cy="434.9" r="2.51" fill="url(#gBall)"/>
<circle cx="501.4" cy="434.9" r="2.51" fill="url(#gBall)"/>
<circle cx="379.7" cy="435.9" r="2.73" fill="url(#gBall)"/>
<circle cx="390.8" cy="435.9" r="2.73" fill="url(#gBall)"/>
<circle cx="401.8" cy="435.9" r="2.73" fill="url(#gBall)"/>
<circle cx="412.9" cy="435.9" r="2.73" fill="url(#gBall)"/>
<circle cx="423.9" cy="435.9" r="2.73" fill="url(#gBall)"/>
<circle cx="434.9" cy="435.9" r="2.73" fill="url(#gBall)"/>
<circle cx="446.0" cy="435.9" r="2.73" fill="url(#gBall)"/>
<circle cx="457.0" cy="435.9" r="2.73" fill="url(#gBall)"/>
<circle cx="468.1" cy="435.9" r="2.73" fill="url(#gBall)"/>
<circle cx="479.1" cy="435.9" r="2.73" fill="url(#gBall)"/>
<circle cx="490.1" cy="435.9" r="2.73" fill="url(#gBall)"/>
<circle cx="501.2" cy="435.9" r="2.73" fill="url(#gBall)"/>
<circle cx="380.7" cy="437.0" r="2.96" fill="url(#gBall)"/>
<circle cx="392.7" cy="437.0" r="2.96" fill="url(#gBall)"/>
<circle cx="404.7" cy="437.0" r="2.96" fill="url(#gBall)"/>
<circle cx="416.6" cy="437.0" r="2.96" fill="url(#gBall)"/>
<circle cx="428.6" cy="437.0" r="2.96" fill="url(#gBall)"/>
<circle cx="440.6" cy="437.0" r="2.96" fill="url(#gBall)"/>
<circle cx="452.6" cy="437.0" r="2.96" fill="url(#gBall)"/>
<circle cx="464.6" cy="437.0" r="2.96" fill="url(#gBall)"/>
<circle cx="476.5" cy="437.0" r="2.96" fill="url(#gBall)"/>
<circle cx="488.5" cy="437.0" r="2.96" fill="url(#gBall)"/>
<circle cx="500.5" cy="437.0" r="2.96" fill="url(#gBall)"/>
<circle cx="382.3" cy="438.3" r="3.21" fill="url(#gBall)"/>
<circle cx="395.3" cy="438.3" r="3.21" fill="url(#gBall)"/>
<circle cx="408.3" cy="438.3" r="3.21" fill="url(#gBall)"/>
<circle cx="421.3" cy="438.3" r="3.21" fill="url(#gBall)"/>
<circle cx="434.3" cy="438.3" r="3.21" fill="url(#gBall)"/>
<circle cx="447.2" cy="438.3" r="3.21" fill="url(#gBall)"/>
<circle cx="460.2" cy="438.3" r="3.21" fill="url(#gBall)"/>
<circle cx="473.2" cy="438.3" r="3.21" fill="url(#gBall)"/>
<circle cx="486.2" cy="438.3" r="3.21" fill="url(#gBall)"/>
<circle cx="499.2" cy="438.3" r="3.21" fill="url(#gBall)"/>
<circle cx="384.5" cy="439.6" r="3.48" fill="url(#gBall)"/>
<circle cx="398.6" cy="439.6" r="3.48" fill="url(#gBall)"/>
<circle cx="412.7" cy="439.6" r="3.48" fill="url(#gBall)"/>
<circle cx="426.8" cy="439.6" r="3.48" fill="url(#gBall)"/>
<circle cx="440.9" cy="439.6" r="3.48" fill="url(#gBall)"/>
<circle cx="455.0" cy="439.6" r="3.48" fill="url(#gBall)"/>
<circle cx="469.1" cy="439.6" r="3.48" fill="url(#gBall)"/>
<circle cx="483.2" cy="439.6" r="3.48" fill="url(#gBall)"/>
<circle cx="497.3" cy="439.6" r="3.48" fill="url(#gBall)"/>
<circle cx="387.5" cy="441.0" r="3.78" fill="url(#gBall)"/>
<circle cx="402.8" cy="441.0" r="3.78" fill="url(#gBall)"/>
<circle cx="418.1" cy="441.0" r="3.78" fill="url(#gBall)"/>
<circle cx="433.4" cy="441.0" r="3.78" fill="url(#gBall)"/>
<circle cx="448.7" cy="441.0" r="3.78" fill="url(#gBall)"/>
<circle cx="464.0" cy="441.0" r="3.78" fill="url(#gBall)"/>
<circle cx="479.3" cy="441.0" r="3.78" fill="url(#gBall)"/>
<circle cx="494.6" cy="441.0" r="3.78" fill="url(#gBall)"/>
<circle cx="391.5" cy="442.6" r="4.10" fill="url(#gBall)"/>
<circle cx="408.1" cy="442.6" r="4.10" fill="url(#gBall)"/>
<circle cx="424.7" cy="442.6" r="4.10" fill="url(#gBall)"/>
<circle cx="441.3" cy="442.6" r="4.10" fill="url(#gBall)"/>
<circle cx="457.9" cy="442.6" r="4.10" fill="url(#gBall)"/>
<circle cx="474.5" cy="442.6" r="4.10" fill="url(#gBall)"/>
<circle cx="491.1" cy="442.6" r="4.10" fill="url(#gBall)"/>
<circle cx="374.4" cy="445.6" r="4.3" fill="url(#gBall)"/>
<circle cx="409.2" cy="445.6" r="4.3" fill="url(#gBall)"/>
<circle cx="442.7" cy="444.5" r="4.3" fill="url(#gBall)"/>
<circle cx="477.5" cy="443.4" r="4.3" fill="url(#gBall)"/>
<circle cx="512.3" cy="442.8" r="4.3" fill="url(#gBall)"/>
<circle cx="356.3" cy="458.4" r="3.9" fill="url(#gBallG)"/>
<circle cx="391.1" cy="458.4" r="3.9" fill="url(#gBallG)"/>
<circle cx="426.0" cy="457.6" r="3.9" fill="url(#gBallG)"/>
<circle cx="461.5" cy="456.8" r="3.9" fill="url(#gBallG)"/>
<circle cx="495.9" cy="455.9" r="3.9" fill="url(#gBallG)"/>
<circle cx="530.4" cy="455.6" r="3.9" fill="url(#gBallG)"/>
<ellipse cx="440.8" cy="423.2" rx="80" ry="5.2" fill="#3fd6f2" opacity="0.95" filter="url(#fV2)"/>
<ellipse cx="441.8" cy="423.4" rx="48" ry="3.6" fill="url(#gGlow)"/>
</g>
</g>
</g>
<!-- ICONS: cloud, atom, head -->
<g id="icon-cloud" transform="translate(370 570) scale(0.136986)" fill="none" stroke="#000" stroke-width="31" stroke-linejoin="round">
  <path d="M152,452 A128,128 0 0 1 215,285 A88,88 0 0 1 335,190 A87,87 0 0 1 498,140 A93,93 0 0 1 655,165 A78,78 0 0 1 725,282 A65,65 0 0 1 762,368 Z"/>
</g>
<g id="icon-atom" fill="none" stroke="#000" stroke-width="1.25">
  <ellipse cx="359.2" cy="672.3" rx="32.4" ry="9.1"/>
  <ellipse cx="359" cy="672.2" rx="31.8" ry="9" transform="rotate(60 359 672.2)"/>
  <ellipse cx="356.8" cy="671.8" rx="31.8" ry="9" transform="rotate(-60 356.8 671.8)"/>
  <g fill="#000" stroke="none">
    <circle cx="351.2" cy="647.6" r="3.2"/>
    <circle cx="383.7" cy="677.7" r="3.2"/>
    <circle cx="349.4" cy="694.7" r="3.2"/>
  </g>
</g>
<g id="icon-head" transform="translate(335 710) scale(0.122444)" fill="none" stroke="#1c2228" stroke-linecap="round" stroke-linejoin="round">
  <path stroke-width="22" d="M486,152 C465,158 445,142 425,127 C400,108 375,103 350,103 C300,104 250,135 215,170 C185,205 165,240 140,275 C120,300 112,325 118,345 C125,368 150,376 192,377 C193,410 196,450 203,490 C208,520 232,530 232,555 C232,585 212,600 216,622 C222,645 248,640 268,645 C290,652 300,672 318,690 C338,705 345,735 360,752 C372,768 388,772 405,765 C425,757 445,735 470,735 C480,736 488,740 493,746"/>
  <g stroke="#000">
    <circle cx="342" cy="298" r="19" stroke-width="11"/>
    <circle cx="340" cy="355" r="19" stroke-width="11"/>
    <circle cx="342" cy="298" r="26" stroke-width="6" stroke-dasharray="5 11.3"/>
    <circle cx="340" cy="355" r="26" stroke-width="6" stroke-dasharray="5 11.3"/>
    <circle cx="446" cy="340" r="30" stroke-width="17"/>
    <circle cx="446" cy="340" r="44" stroke-width="12" stroke-dasharray="11 16.6" stroke-linecap="butt"/>
  </g>
</g>
<!-- ICONS: chip, wifi -->
<g id="icon-chip" transform="translate(480 710) scale(0.09324)">
  <rect x="198" y="230" width="419" height="443" rx="72" ry="72" fill="none" stroke="#000" stroke-width="31"/>
  <g fill="#000">
    <rect x="265" y="312" width="283" height="278"/>
    <rect x="284" y="155" width="28" height="62"/><rect x="358" y="155" width="28" height="62"/>
    <rect x="431" y="155" width="28" height="62"/><rect x="506" y="155" width="28" height="62"/>
    <rect x="284" y="686" width="28" height="54"/><rect x="358" y="686" width="28" height="54"/>
    <rect x="431" y="686" width="28" height="54"/><rect x="506" y="686" width="28" height="54"/>
    <rect x="115" y="328" width="70" height="28"/><rect x="115" y="401" width="70" height="28"/>
    <rect x="115" y="476" width="70" height="28"/><rect x="115" y="549" width="70" height="28"/>
    <rect x="630" y="328" width="66" height="28"/><rect x="630" y="401" width="66" height="28"/>
    <rect x="630" y="476" width="66" height="28"/><rect x="630" y="549" width="66" height="28"/>
  </g>
  <g fill="none" stroke="#c9c9c9" stroke-width="13" stroke-linejoin="round">
    <polyline points="336,312 336,398 382,455"/>
    <polyline points="482,360 548,360"/>
    <polyline points="436,440 486,500 486,590"/>
    <polyline points="265,520 352,520"/>
  </g>
  <g fill="#c9c9c9">
    <circle cx="382" cy="455" r="14"/><circle cx="482" cy="360" r="14"/>
    <circle cx="436" cy="440" r="14"/><circle cx="352" cy="520" r="14"/>
  </g>
</g>
<g id="icon-wifi" transform="translate(410 770) scale(0.091324)" fill="#000" stroke="#000" stroke-width="12" stroke-linejoin="round">
  <path d="M168.1,304.7 A383,383 0 0 1 731.9,304.7 L658.3,372.4 A283,283 0 0 0 241.7,372.4 Z"/>
  <path d="M273.4,408.4 A236.5,236.5 0 0 1 628.6,408.4 L553.5,474.4 A136.5,136.5 0 0 0 348.5,474.4 Z"/>
  <path d="M452,590 L384,523 A71,71 0 0 1 520,523 Z" stroke-width="14"/>
</g>
<!-- ICONS: spin sphere with arrow, wavy sheet -->
<g id="icon-spin">
  <defs>
    <radialGradient id="gSphere" cx="0.5" cy="0.5" r="0.5">
      <stop offset="0" stop-color="#fff1e4"/>
      <stop offset="0.12" stop-color="#f1e6e2"/>
      <stop offset="0.35" stop-color="#bcc3d6"/>
      <stop offset="0.6" stop-color="#8098be"/>
      <stop offset="0.85" stop-color="#4d70a4"/>
      <stop offset="1" stop-color="#3a5f98"/>
    </radialGradient>
    <linearGradient id="gShaft" gradientUnits="userSpaceOnUse" x1="-3.6" y1="0" x2="3.6" y2="0">
      <stop offset="0" stop-color="#e868b4"/><stop offset="0.45" stop-color="#f070bc"/><stop offset="1" stop-color="#b84a8a"/>
    </linearGradient>
    <linearGradient id="gHead" gradientUnits="userSpaceOnUse" x1="-7.5" y1="0" x2="7.5" y2="0">
      <stop offset="0" stop-color="#b04684"/><stop offset="0.5" stop-color="#ee6cb8"/><stop offset="1" stop-color="#a8407c"/>
    </linearGradient>
    <clipPath id="cFront"><path d="M353.5,662.8 L532.7,751.4 L532.7,800 L353.5,800 Z"/></clipPath>
  </defs>
  <!-- arrow: local frame, origin at shaft tail, -y along arrow direction -->
  <g transform="translate(417.6 750.5) rotate(31.2)">
    <rect x="-3.55" y="-96.5" width="7.1" height="96.5" fill="url(#gShaft)"/>
    <polygon points="0,-113.4 8.3,-92.2 3.5,-95.6 -3.5,-95.6 -8.3,-92.2" fill="url(#gHead)"/>
  </g>
  <ellipse cx="443.1" cy="707.1" rx="45.2" ry="20.4" transform="rotate(26.3 443.1 707.1)" fill="none" stroke="#cf659b" stroke-width="4.6"/>
  <circle cx="442.9" cy="709.9" r="34.9" fill="url(#gSphere)"/>
  <g clip-path="url(#cFront)">
    <ellipse cx="443.1" cy="707.1" rx="45.2" ry="20.4" transform="rotate(26.3 443.1 707.1)" fill="none" stroke="#cf659b" stroke-width="4.6"/>
  </g>
  <polygon points="424.1,709 414.2,722.6 430.8,720.9" fill="#d0669c" stroke="#d0669c" stroke-width="0.6" stroke-linejoin="round"/>
</g>
<g id="icon-sheet" transform="translate(470 610) scale(0.104898)">
  <defs>
    <filter id="fSheet" x="-0.2" y="-0.2" width="1.4" height="1.4"><feGaussianBlur stdDeviation="15"/></filter>
  </defs>
  <path d="M378,98 C375,150 400,200 440,245 C480,290 520,300 560,292 C600,290 650,330 690,380 C730,420 745,460 750,490 L510,720 C505,690 490,650 450,610 C410,560 360,520 320,522 C280,530 240,520 200,475 C160,430 135,380 135,325 Z" fill="#5c5c5c" opacity="0.75" filter="url(#fSheet)" transform="translate(-20 20)"/>
  <path d="M378,98 C375,150 400,200 440,245 C480,290 520,300 560,292 C600,290 650,330 690,380 C730,420 745,460 750,490 L510,720 C505,690 490,650 450,610 C410,560 360,520 320,522 C280,530 240,520 200,475 C160,430 135,380 135,325 Z" fill="#616161"/>
  <path d="M378,98 C375,150 400,200 440,245 C480,290 520,300 560,292 C600,290 650,330 690,380 C730,420 745,460 750,490 L727,512 C721,477 705,437 670,398 C630,351 580,317 540,323 C500,331 455,315 415,270 C375,225 352,181 351,125 Z" fill="#000"/>
</g>
</svg>
</body>
</html>
